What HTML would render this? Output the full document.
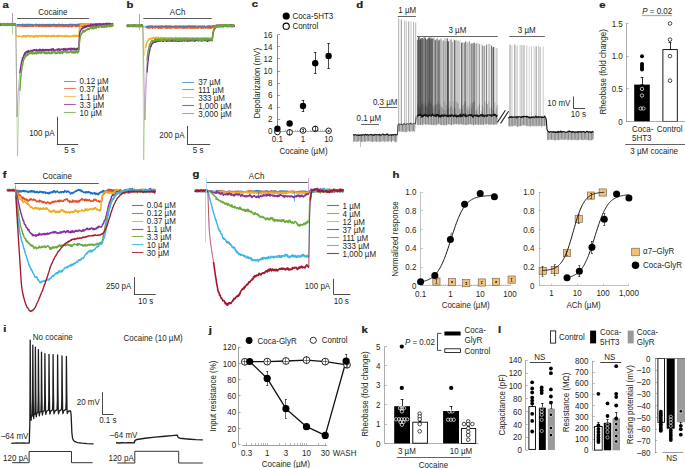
<!DOCTYPE html>
<html><head><meta charset="utf-8"><style>
html,body{margin:0;padding:0;background:#fff;width:685px;height:468px;overflow:hidden}
svg{display:block}
svg{font-family:"Liberation Sans",sans-serif;font-size:8.6px;fill:#231f20}
</style></head><body>
<svg width="685" height="468" viewBox="0 0 685 468">
<rect width="685" height="468" fill="#fff"/>
<text x="2.6" y="7.8" font-weight="bold" font-size="9.4" stroke="#231f20" stroke-width="0.25" transform="matrix(1.2 0 0 1 -0.52 0)">a</text>
<text x="38.2" y="14.55" transform="matrix(0.93 0 0 1 2.67 0)">Cocaine</text>
<line x1="17" y1="18.5" x2="88.9" y2="18.5" stroke="#333" stroke-width="0.8"/>
<line x1="12.5" y1="12.8" x2="12.5" y2="24.4" stroke="#7f2c93" stroke-width="0.5"/>
<line x1="12.5" y1="24.4" x2="12.5" y2="34.6" stroke="#68a83a" stroke-width="0.5"/>
<path d="M15.76,24.4 15.84,24.8 15.92,24.8 16,24.8 16.08,24.8 16.16,24.8 16.24,24.8 16.32,24.8 16.4,24.8 16.48,24.8 16.56,24.8 16.64,24.8" stroke="#2f86cc" stroke-width="0.55" fill="none" stroke-linejoin="round" stroke-opacity="0.75"/>
<path d="M0,24.22 0.3,24.04 0.6,24.56 0.9,23.96 1.2,24.44 1.5,24.26 1.8,23.94 2.1,24.41 2.4,23.92 2.7,24.33 3,23.95 3.3,23.98 3.6,24.32 3.9,24.74 4.2,24.01 4.5,24.11 4.8,24.53 5.1,24.86 5.4,24.48 5.7,24.29 6,24.89 6.3,23.93 6.6,24.77 6.9,24.18 7.2,24.03 7.5,24 7.8,24.2 8.1,24.73 8.4,24.07 8.7,24.48 9,24.54 9.3,24.27 9.6,24.45 9.9,23.95 10.2,23.94 10.5,24.1 10.8,24.59 11.1,24.33 11.4,24.21 11.7,24.49 12,24.35 12.3,24.19 12.6,24.7 12.9,24.61 13.2,24.14 13.5,24.48 13.8,24.43 14.1,24.79 14.4,24.64 14.7,24.18 15,24.9 15.3,24 15.6,24.4 15.68,24.4 15.76,24.4" stroke="#2f86cc" stroke-width="1.45" fill="none" stroke-linejoin="round"/>
<path d="M16.64,24.8 16.72,24.8 16.8,24.8 16.88,24.8 16.96,24.8 17.04,24.8 17.12,24.8 17.2,24.8 17.28,24.8 17.36,24.8 17.44,24.8 17.52,24.8 17.6,24.8 17.68,24.8 17.76,24.8 17.84,24.8 17.92,24.8 18,24.8 18.08,24.8 18.16,24.8 18.24,24.8 18.32,24.8 18.4,24.8 18.48,24.8 18.56,24.8 18.64,24.8 18.72,24.8 18.8,24.8 18.88,24.8 18.96,24.8 19.04,24.8 19.12,24.8 19.2,24.8 19.28,24.8 19.36,24.8 19.44,24.8 19.52,24.8 19.6,24.8 19.68,24.8 19.76,24.8 19.84,24.8 19.92,24.8 20,24.8 20.08,24.8 20.16,24.8 20.24,24.8 20.32,24.8 20.4,24.8 20.48,24.8 20.56,24.8 20.64,24.8 20.72,24.8 20.8,24.8 20.88,24.8 20.96,24.8 21.04,24.8 21.12,24.8 21.2,24.8 21.28,24.8 21.36,24.8 21.44,24.8 21.52,24.8 21.6,24.8 21.68,24.8 21.76,24.8 21.84,24.8 21.92,24.8 22,24.8 22.08,24.66 22.38,24.31 22.68,25.19 22.98,24.92 23.28,24.44 23.58,24.54 23.88,24.64 24.18,24.66 24.48,24.41 24.78,25.16 25.08,25.31 25.38,24.76 25.68,24.78 25.98,24.37 26.28,24.39 26.58,24.64 26.88,24.56 27.18,25.14 27.48,24.45 27.78,24.31 28.08,25.27 28.38,24.83 28.68,24.43 28.98,24.84 29.28,24.31 29.58,24.83 29.88,25.3 30.18,25.18 30.48,25 30.78,24.55 31.08,24.66 31.38,24.46 31.68,25.08 31.98,24.83 32.28,25.09 32.58,24.62 32.88,24.51 33.18,25.12 33.48,25.3 33.78,25.16 34.08,25.12 34.38,25.13 34.68,25.05 34.98,24.52 35.28,24.82 35.58,24.65 35.88,24.31 36.18,24.31 36.48,24.57 36.78,24.55 37.08,25 37.38,25.27 37.68,24.75 37.98,25.25 38.28,25.31 38.58,25.27 38.88,24.66 39.18,24.51 39.48,24.52 39.78,24.49 40.08,24.49 40.38,24.93 40.68,25.21 40.98,25.15 41.28,24.78 41.58,24.96 41.88,25.11 42.18,24.37 42.48,24.97 42.78,25.22 43.08,25.09 43.38,25.06 43.68,24.78 43.98,24.47 44.28,25.1 44.58,24.63 44.88,25.11 45.18,25.29 45.48,24.69 45.78,24.7 46.08,25.26 46.38,25.03 46.68,24.46 46.98,24.41 47.28,24.44 47.58,25.22 47.88,25.12 48.18,24.43 48.48,25.14 48.78,25.3 49.08,24.96 49.38,24.65 49.68,24.85 49.98,24.42 50.28,24.3 50.58,25.29 50.88,24.95 51.18,24.83 51.48,25.25 51.78,24.73 52.08,25.18 52.38,25.14 52.68,24.5 52.98,24.54 53.28,24.59 53.58,24.53 53.88,24.89 54.18,24.55 54.48,24.72 54.78,24.42 55.08,25.22 55.38,24.65 55.68,24.76 55.98,24.89 56.28,25.22 56.58,24.72 56.88,25.23 57.18,24.8 57.48,24.83 57.78,24.82 58.08,24.3 58.38,24.74 58.68,24.47 58.98,24.29 59.28,25.11 59.58,24.46 59.88,24.77 60.18,25.03 60.48,24.86 60.78,24.62 61.08,24.82 61.38,24.86 61.68,25.09 61.98,24.39 62.28,24.86 62.58,24.54 62.88,24.57 63.18,25.08 63.48,24.81 63.78,24.86 64.08,25.07 64.38,25.23 64.68,24.74 64.98,24.92 65.28,24.81 65.58,24.81 65.88,25 66.18,24.75 66.48,24.83 66.78,24.78 67.08,25.26 67.38,25.01 67.68,25.19 67.98,25.26 68.28,24.55 68.58,24.86 68.88,25.26 69.18,25.15 69.48,24.42 69.78,24.41 70.08,24.74 70.38,24.36 70.68,24.53 70.98,24.36 71.28,24.98 71.58,25.09 71.88,25.21 72.18,24.44 72.48,25.02 72.78,24.97 73.08,24.43 73.38,25.2 73.68,25.28 73.98,24.51 74.28,25.27 74.58,24.69 74.88,24.79 75.18,25.31 75.48,25.14 75.78,24.45 76.08,24.73 76.38,24.82 76.68,24.63 76.98,24.49 77.28,24.61 77.58,25.03 77.88,24.3 78.18,24.86 78.48,24.74 78.78,24.3 79.08,24.23 79.38,24.53 79.68,24.41 79.98,23.95 80.28,24.9 80.58,24.7 80.88,24.89 81.18,23.99 81.48,24.16 81.78,23.92 82.08,24.69 82.38,24.16 82.68,24.02 82.98,24.32 83.28,24.83 83.58,24.73 83.88,24.15 84.18,24.04 84.48,24.83 84.78,24.47 85.08,24.61 85.38,23.98 85.68,23.94 85.98,24.59 86.28,24.32 86.58,23.96 86.88,24.85 87.18,24.54 87.48,24.71 87.78,23.97 88.08,24.77 88.38,23.95 88.68,24.78 88.98,24.35 89.28,24.23 89.58,24.45 89.88,24.84 90.18,24.16 90.48,24.02 90.78,24.43 91.08,24.13 91.38,24 91.68,24.05 91.98,23.93 92.28,24.09 92.58,24.21 92.88,24.2 93.18,24.67 93.48,24.18 93.78,24.4 94.08,24.07 94.38,24.24 94.68,23.9 94.98,24.14 95.28,23.9 95.58,24.64 95.88,24.45 96.18,24.08 96.48,24.37 96.78,24.85 97.08,23.99 97.38,24.73 97.68,24.33 97.98,24.39 98.28,24.75 98.58,24.29 98.88,24.41 99.18,24.59 99.48,24.9 99.78,24.24 100.08,24.74 100.38,24.61 100.68,24.54 100.98,24.3 101.28,24.24 101.58,23.94 101.88,24.02 102.18,23.96 102.48,24.65 102.78,24.15 103.08,24.05 103.38,23.97 103.68,24.75 103.98,24.78 104.28,24.58 104.58,24.17 104.88,24.13 105.18,24.19 105.48,24.36 105.78,24.05 106.08,24.34 106.38,24.15 106.68,24.88 106.98,24.89 107.28,24.45 107.58,24.14 107.88,24.88 108.18,24.2 108.48,24.25 108.78,23.88 109.08,24.28 109.38,24.37 109.68,24.4 109.98,24.09 110.28,24.4 110.58,23.89 110.88,24.16 111.18,23.98 111.48,24.3 111.78,23.93 112.08,23.91 112.38,24.2 112.68,24.12 112.98,24.49" stroke="#2f86cc" stroke-width="1.45" fill="none" stroke-linejoin="round"/>
<path d="M15.76,24.4 15.84,25.9 15.92,25.9 16,25.9 16.08,25.9 16.16,25.9 16.24,25.9 16.32,25.9 16.4,25.9 16.48,25.9 16.56,25.9 16.64,25.9" stroke="#e2552c" stroke-width="0.55" fill="none" stroke-linejoin="round" stroke-opacity="0.75"/>
<path d="M0,24.44 0.3,24.72 0.6,24.6 0.9,24.67 1.2,24.88 1.5,24.26 1.8,24.18 2.1,25.01 2.4,23.96 2.7,24.68 3,24.58 3.3,23.82 3.6,24.82 3.9,24.9 4.2,24.56 4.5,24.7 4.8,24.79 5.1,23.94 5.4,24.43 5.7,24.41 6,24.82 6.3,24.79 6.6,24.81 6.9,24.51 7.2,24.9 7.5,24.63 7.8,24.64 8.1,24.06 8.4,23.81 8.7,23.94 9,24.22 9.3,23.9 9.6,24.82 9.9,24.47 10.2,24.56 10.5,24.56 10.8,24.63 11.1,24.39 11.4,23.77 11.7,24.78 12,24.71 12.3,24.4 12.6,24.44 12.9,24.6 13.2,23.85 13.5,24.7 13.8,24.09 14.1,23.86 14.4,24.1 14.7,24.69 15,24.03 15.3,24.7 15.6,24.4 15.68,24.4 15.76,24.4" stroke="#e2552c" stroke-width="1.45" fill="none" stroke-linejoin="round"/>
<path d="M16.64,25.9 16.72,25.9 16.8,25.9 16.88,25.9 16.96,25.9 17.04,25.9 17.12,25.9 17.2,25.9 17.28,25.9 17.36,25.9 17.44,25.9 17.52,25.9 17.6,25.9 17.68,25.9 17.76,25.9 17.84,25.9 17.92,25.9 18,25.9 18.08,25.9 18.16,25.9 18.24,25.9 18.32,25.9 18.4,25.9 18.48,25.9 18.56,25.9 18.64,25.9 18.72,25.9 18.8,25.9 18.88,25.9 18.96,25.9 19.04,25.9 19.12,25.9 19.2,25.9 19.28,25.9 19.36,25.9 19.44,25.9 19.52,25.9 19.6,25.9 19.68,25.9 19.76,25.9 19.84,25.9 19.92,25.9 20,25.9 20.08,25.9 20.16,25.9 20.24,25.9 20.32,25.9 20.4,25.9 20.48,25.9 20.56,25.9 20.64,25.9 20.72,25.9 20.8,25.9 20.88,25.9 20.96,25.9 21.04,25.9 21.12,25.9 21.2,25.9 21.28,25.9 21.36,25.9 21.44,25.9 21.52,25.9 21.6,25.9 21.68,25.9 21.76,25.9 21.84,25.9 21.92,25.9 22,25.9 22.08,25.91 22.38,25.51 22.68,25.74 22.98,26.48 23.28,26.39 23.58,26.29 23.88,26.07 24.18,26.42 24.48,26.46 24.78,25.96 25.08,26.18 25.38,25.33 25.68,26.19 25.98,25.84 26.28,26.22 26.58,26.08 26.88,25.63 27.18,25.33 27.48,26.44 27.78,25.43 28.08,25.86 28.38,25.7 28.68,25.64 28.98,26.2 29.28,26.5 29.58,25.6 29.88,26.1 30.18,25.65 30.48,25.97 30.78,25.77 31.08,25.48 31.38,25.47 31.68,25.53 31.98,26.41 32.28,25.9 32.58,25.55 32.88,26.41 33.18,26.53 33.48,25.84 33.78,25.44 34.08,25.51 34.38,25.38 34.68,25.7 34.98,25.38 35.28,25.57 35.58,25.59 35.88,25.99 36.18,26.39 36.48,26.22 36.78,25.79 37.08,25.79 37.38,25.93 37.68,25.74 37.98,25.7 38.28,25.35 38.58,25.62 38.88,26.49 39.18,25.43 39.48,25.9 39.78,26.06 40.08,26.36 40.38,25.54 40.68,25.61 40.98,25.58 41.28,25.77 41.58,25.83 41.88,26.47 42.18,26.34 42.48,26.37 42.78,25.3 43.08,25.31 43.38,26.17 43.68,26.4 43.98,25.87 44.28,26.01 44.58,25.27 44.88,25.76 45.18,26.44 45.48,26.31 45.78,26.35 46.08,26.5 46.38,25.58 46.68,25.41 46.98,25.46 47.28,25.93 47.58,26.13 47.88,26.46 48.18,26.18 48.48,26.09 48.78,26.23 49.08,25.85 49.38,25.97 49.68,25.32 49.98,26.26 50.28,25.56 50.58,26.43 50.88,26.08 51.18,25.65 51.48,25.43 51.78,25.59 52.08,26.07 52.38,26.15 52.68,25.41 52.98,25.36 53.28,25.93 53.58,26 53.88,25.76 54.18,25.55 54.48,26.03 54.78,25.28 55.08,25.65 55.38,25.85 55.68,26.48 55.98,26.08 56.28,26.39 56.58,25.87 56.88,25.56 57.18,25.58 57.48,26.48 57.78,26.16 58.08,25.66 58.38,25.3 58.68,25.9 58.98,26.12 59.28,25.8 59.58,25.59 59.88,26.11 60.18,26.44 60.48,25.55 60.78,25.31 61.08,25.7 61.38,25.8 61.68,26.13 61.98,25.52 62.28,26.28 62.58,26.2 62.88,25.91 63.18,25.53 63.48,26.49 63.78,25.66 64.08,26.3 64.38,25.56 64.68,25.55 64.98,26.23 65.28,25.64 65.58,26.47 65.88,25.89 66.18,25.5 66.48,25.55 66.78,25.8 67.08,26.11 67.38,26.47 67.68,25.45 67.98,25.77 68.28,25.54 68.58,26.5 68.88,25.45 69.18,25.33 69.48,25.34 69.78,25.77 70.08,26.4 70.38,26.39 70.68,26.19 70.98,26.53 71.28,26.45 71.58,25.68 71.88,25.5 72.18,26.45 72.48,26.21 72.78,25.31 73.08,26.11 73.38,25.75 73.68,25.74 73.98,25.69 74.28,25.48 74.58,25.27 74.88,25.62 75.18,25.71 75.48,26.48 75.78,25.42 76.08,26.49 76.38,25.53 76.68,25.72 76.98,26.31 77.28,26.31 77.58,25.81 77.88,25.33 78.18,25.87 78.48,25.74 78.78,26.43 79.08,25.51 79.38,25.73 79.68,26.4 79.98,25.31 80.28,25.79 80.58,26.29 80.88,26.24 81.18,25.32 81.48,25.31 81.78,25.35 82.08,26.43 82.38,25.59 82.68,26.21 82.98,26.4 83.28,25.7 83.58,25.61 83.88,26.48 84.18,26.05 84.48,25.6 84.78,26.17 85.08,25.67 85.38,25.62 85.68,25.27 85.98,26.22 86.28,26.43 86.58,26.07 86.88,26.46 87.18,25.3 87.48,25.56 87.78,25.87 88.08,26.48 88.38,26.47 88.68,25.76 88.98,25.59 89.28,25.81 89.58,25.89 89.88,26.44 90.18,25.5 90.48,26.28 90.78,26.2 91.08,26.31 91.38,26.25 91.68,26.04 91.98,25.68 92.28,25.67 92.58,25.73 92.88,26.26 93.18,25.37 93.48,25.52 93.78,26.22 94.08,25.58 94.38,25.35 94.68,25.31 94.98,25.97 95.28,25.68 95.58,26.51 95.88,26.39 96.18,26.52 96.48,25.6 96.78,25.37 97.08,25.39 97.38,25.9 97.68,26.17 97.98,25.83 98.28,25.56 98.58,25.79 98.88,26.05 99.18,26.12 99.48,26.21 99.78,26.34 100.08,26.11 100.38,25.42 100.68,26.33 100.98,25.64 101.28,25.98 101.58,25.74 101.88,26.2 102.18,25.52 102.48,25.58 102.78,25.58 103.08,25.46 103.38,26.39 103.68,26 103.98,25.68 104.28,25.77 104.58,26.52 104.88,25.91 105.18,25.56 105.48,26.29 105.78,26.09 106.08,26.52 106.38,25.4 106.68,25.87 106.98,26.3 107.28,26.33 107.58,26.42 107.88,25.32 108.18,25.64 108.48,25.42 108.78,25.51 109.08,26.5 109.38,26.01 109.68,26.44 109.98,25.74 110.28,26.36 110.58,25.84 110.88,25.6 111.18,26.25 111.48,26.46 111.78,25.4 112.08,26.02 112.38,26.05 112.68,25.54 112.98,25.73" stroke="#e2552c" stroke-width="1.45" fill="none" stroke-linejoin="round"/>
<path d="M15.76,24.4 15.84,25.68 15.92,27.85 16,29.58 16.08,30.95 16.16,32.04 16.24,32.91 16.32,33.6 16.4,34.15 16.48,34.59 16.56,34.94 16.64,35.22" stroke="#efb128" stroke-width="0.55" fill="none" stroke-linejoin="round" stroke-opacity="0.75"/>
<path d="M0,23.86 0.3,23.96 0.6,24.03 0.9,24.55 1.2,24.63 1.5,23.96 1.8,23.67 2.1,24.14 2.4,24.67 2.7,23.93 3,24.12 3.3,23.96 3.6,24.84 3.9,24.47 4.2,23.75 4.5,23.8 4.8,24.24 5.1,24.47 5.4,24.61 5.7,23.79 6,23.9 6.3,24.69 6.6,24.27 6.9,24.08 7.2,24.11 7.5,25.08 7.8,24.12 8.1,24.5 8.4,24.19 8.7,24.28 9,24.94 9.3,25.14 9.6,24.2 9.9,23.95 10.2,24.74 10.5,23.96 10.8,23.66 11.1,25 11.4,24.29 11.7,24.88 12,24.26 12.3,24.97 12.6,24.34 12.9,23.9 13.2,23.67 13.5,24.48 13.8,24.61 14.1,25.01 14.4,23.79 14.7,24.58 15,24.21 15.3,24.41 15.6,24.4 15.68,24.4 15.76,24.4" stroke="#efb128" stroke-width="1.45" fill="none" stroke-linejoin="round"/>
<path d="M16.64,35.22 16.72,35.44 16.8,35.61 16.88,35.75 16.96,35.86 17.04,35.95 17.12,36.02 17.2,36.08 17.28,36.12 17.36,36.15 17.44,36.18 17.52,36.2 17.6,36.22 17.68,36.24 17.76,36.25 17.84,36.26 17.92,36.26 18,36.27 18.08,36.27 18.16,36.27 18.24,36.28 18.32,36.28 18.4,36.28 18.48,36.28 18.56,36.28 18.64,36.28 18.72,36.28 18.8,36.28 18.88,36.28 18.96,36.28 19.04,36.28 19.12,36.28 19.2,36.28 19.28,36.28 19.36,36.28 19.44,36.28 19.52,36.28 19.6,36.28 19.68,36.28 19.76,36.28 19.84,36.28 19.92,36.28 20,36.28 20.08,36.28 20.16,36.28 20.24,36.28 20.32,36.28 20.4,36.28 20.48,36.28 20.56,36.28 20.64,36.28 20.72,36.28 20.8,36.28 20.88,36.28 20.96,36.28 21.04,36.28 21.12,36.27 21.2,36.27 21.28,36.27 21.36,36.27 21.44,36.27 21.52,36.27 21.6,36.27 21.68,36.27 21.76,36.27 21.84,36.27 21.92,36.27 22,36.27 22.08,36.99 22.38,36.26 22.68,36.95 22.98,36.89 23.28,35.76 23.58,36.69 23.88,36.91 24.18,35.61 24.48,36.04 24.78,36.64 25.08,35.75 25.38,36.85 25.68,35.92 25.98,36.72 26.28,35.72 26.58,36.25 26.88,36.88 27.18,35.81 27.48,35.89 27.78,36.25 28.08,35.97 28.38,35.55 28.68,35.76 28.98,35.73 29.28,36.89 29.58,36.5 29.88,36.82 30.18,35.74 30.48,36.66 30.78,35.65 31.08,36.27 31.38,36.43 31.68,36.01 31.98,36.78 32.28,36.3 32.58,36.34 32.88,36.79 33.18,35.63 33.48,36.95 33.78,36.41 34.08,36.05 34.38,36.66 34.68,35.86 34.98,36.94 35.28,36.32 35.58,36 35.88,36.6 36.18,36.12 36.48,35.72 36.78,36.56 37.08,35.52 37.38,36.68 37.68,35.83 37.98,36.4 38.28,36.92 38.58,36.32 38.88,36.43 39.18,35.91 39.48,35.44 39.78,35.49 40.08,35.66 40.38,36.36 40.68,36.08 40.98,36.2 41.28,36.77 41.58,35.63 41.88,35.77 42.18,36.4 42.48,35.46 42.78,35.43 43.08,35.95 43.38,35.58 43.68,35.95 43.98,35.75 44.28,36.29 44.58,36.3 44.88,35.72 45.18,36.35 45.48,36.12 45.78,35.61 46.08,36.81 46.38,35.77 46.68,35.63 46.98,35.55 47.28,36.36 47.58,36.7 47.88,36.57 48.18,36 48.48,35.79 48.78,35.41 49.08,36.36 49.38,36.23 49.68,35.91 49.98,36.35 50.28,36.05 50.58,36.79 50.88,36.48 51.18,35.76 51.48,36.73 51.78,35.45 52.08,36.17 52.38,35.99 52.68,35.73 52.98,35.46 53.28,36.54 53.58,35.39 53.88,36.19 54.18,36.78 54.48,35.58 54.78,35.67 55.08,36.27 55.38,36.12 55.68,36.32 55.98,36.58 56.28,35.62 56.58,35.82 56.88,35.81 57.18,35.43 57.48,36.68 57.78,36.52 58.08,36.42 58.38,35.36 58.68,36.61 58.98,36.46 59.28,36.04 59.58,36.45 59.88,36.02 60.18,35.68 60.48,35.5 60.78,35.69 61.08,35.39 61.38,35.84 61.68,36.45 61.98,36.37 62.28,36.59 62.58,36.39 62.88,35.73 63.18,36.15 63.48,35.98 63.78,36.5 64.08,36.1 64.38,35.72 64.68,36.28 64.98,36.76 65.28,35.64 65.58,36.63 65.88,35.34 66.18,35.7 66.48,35.66 66.78,36.42 67.08,36.72 67.38,36.42 67.68,35.79 67.98,36.62 68.28,35.79 68.58,35.66 68.88,36.66 69.18,36.24 69.48,36.33 69.78,36.29 70.08,36.76 70.38,35.99 70.68,36.55 70.98,36.33 71.28,36.57 71.58,35.94 71.88,36.37 72.18,36.14 72.48,35.74 72.78,35.6 73.08,36.21 73.38,35.39 73.68,36.64 73.98,35.49 74.28,35.31 74.58,35.43 74.88,36.66 75.18,35.79 75.48,35.48 75.78,35.31 76.08,35.33 76.38,36.3 76.68,36.21 76.98,36.3 77.28,36.36 77.58,35.36 77.88,36.14 78.18,35.8 78.48,36.48 78.78,36.48 79.08,32.83 79.38,28.93 79.68,28.39 79.98,27.33 80.28,26.64 80.58,24.91 80.88,24.74 81.18,24.4 81.48,24.15 81.78,25.28 82.08,25.17 82.38,24.87 82.68,25.13 82.98,24.83 83.28,24.3 83.58,24.01 83.88,24.01 84.18,24.99 84.48,24.16 84.78,24.33 85.08,24.49 85.38,23.88 85.68,24.24 85.98,24.28 86.28,24.92 86.58,24.4 86.88,24.33 87.18,25.29 87.48,24.61 87.78,25.13 88.08,24.78 88.38,23.9 88.68,24.47 88.98,24.5 89.28,25.01 89.58,24.37 89.88,24.91 90.18,24.66 90.48,24.18 90.78,25.14 91.08,23.99 91.38,25.08 91.68,24.11 91.98,23.85 92.28,24.15 92.58,24.99 92.88,25.31 93.18,23.86 93.48,24.59 93.78,24.59 94.08,25.04 94.38,24.13 94.68,24.59 94.98,24.37 95.28,25.1 95.58,24.24 95.88,25.26 96.18,24.28 96.48,24.17 96.78,24.9 97.08,24.6 97.38,24.02 97.68,24.8 97.98,23.97 98.28,25.03 98.58,24.89 98.88,25.03 99.18,24.79 99.48,24.38 99.78,24.45 100.08,24.44 100.38,25.18 100.68,23.98 100.98,25.18 101.28,23.89 101.58,24.16 101.88,24.25 102.18,25.2 102.48,24.6 102.78,24.42 103.08,25.17 103.38,24.2 103.68,24.54 103.98,24.65 104.28,24.98 104.58,24.98 104.88,24.82 105.18,24.37 105.48,24.34 105.78,24.08 106.08,25.11 106.38,24.84 106.68,24.96 106.98,24.11 107.28,24.51 107.58,25.01 107.88,24.72 108.18,24.04 108.48,24.54 108.78,25.18 109.08,24.21 109.38,24.14 109.68,24.3 109.98,24.9 110.28,25.11 110.58,24.08 110.88,24.09 111.18,24.22 111.48,24.34 111.78,24.63 112.08,24.09 112.38,24.34 112.68,24.14 112.98,25.31" stroke="#efb128" stroke-width="1.45" fill="none" stroke-linejoin="round"/>
<path d="M15.76,24.4 15.84,27.52 15.92,33.76 16,40 16.08,46.24 16.16,52.48 16.24,58.72 16.32,64.96 16.4,71.2 16.48,77.44 16.56,83.68 16.64,89.92 16.72,96.16 16.8,102.4 16.88,108.64 16.96,114.88 17.04,116.97 17.12,114.97 17.2,113.02 17.28,111.13 17.36,109.3 17.44,107.53 17.52,105.8 17.6,104.13 17.68,102.52 17.76,100.95 17.84,99.42 17.92,97.95 18,96.51 18.08,95.13 18.16,93.78 18.24,92.47 18.32,91.21 18.4,89.98 18.48,88.79 18.56,87.63 18.64,86.52 18.72,85.43 18.8,84.38 18.88,83.35 18.96,82.36 19.04,81.4 19.12,80.47 19.2,79.57 19.28,78.69 19.36,77.84 19.44,77.02 19.52,76.22 19.6,75.45 19.68,74.69 19.76,73.97 19.84,73.26" stroke="#7f2c93" stroke-width="0.55" fill="none" stroke-linejoin="round" stroke-opacity="0.75"/>
<path d="M0,24.82 0.3,23.67 0.6,25.25 0.9,23.67 1.2,24.19 1.5,25.29 1.8,24.94 2.1,24.83 2.4,24.28 2.7,23.84 3,24.65 3.3,23.68 3.6,23.86 3.9,24.19 4.2,23.54 4.5,24.21 4.8,24.94 5.1,24.76 5.4,24.4 5.7,24.64 6,24.33 6.3,23.74 6.6,24.59 6.9,24.22 7.2,24.84 7.5,25.15 7.8,24.27 8.1,24.54 8.4,24.86 8.7,24.25 9,23.9 9.3,24.81 9.6,25.1 9.9,24.9 10.2,24.77 10.5,25.05 10.8,24.73 11.1,24.66 11.4,24.32 11.7,24.06 12,24.64 12.3,23.66 12.6,24.25 12.9,24.92 13.2,24.79 13.5,24.64 13.8,23.94 14.1,24.26 14.4,24.32 14.7,24.62 15,24.23 15.3,24.72 15.6,24.4 15.68,24.4 15.76,24.4" stroke="#7f2c93" stroke-width="1.45" fill="none" stroke-linejoin="round"/>
<path d="M19.84,73.26 19.92,72.57 20,71.91 20.08,71.26 20.16,70.64 20.24,70.03 20.32,69.45 20.4,68.88 20.48,68.32 20.56,67.79 20.64,67.27 20.72,66.76 20.8,66.27 20.88,65.8 20.96,65.34 21.04,64.89 21.12,64.46 21.2,64.04 21.28,63.63 21.36,63.24 21.44,62.85 21.52,62.48 21.6,62.12 21.68,61.77 21.76,61.43 21.84,61.1 21.92,60.79 22,60.48 22.08,60.97 22.38,59.78 22.68,57.38 22.98,57.97 23.28,57.37 23.58,56.48 23.88,54.7 24.18,55.45 24.48,54.61 24.78,53.05 25.08,52.67 25.38,54.06 25.68,53.22 25.98,52.2 26.28,51.69 26.58,51.55 26.88,51.53 27.18,52.35 27.48,51.41 27.78,50.91 28.08,52.17 28.38,51.85 28.68,50.6 28.98,51.84 29.28,51.24 29.58,51.48 29.88,51.21 30.18,51.56 30.48,51.32 30.78,51.36 31.08,50.13 31.38,51 31.68,50.67 31.98,51.02 32.28,50.43 32.58,51.22 32.88,50.59 33.18,50.03 33.48,49.95 33.78,49.76 34.08,50.39 34.38,49.57 34.68,50.3 34.98,49.69 35.28,50.31 35.58,50.31 35.88,50.37 36.18,50.95 36.48,49.36 36.78,50.89 37.08,50.19 37.38,50.35 37.68,50.53 37.98,50.84 38.28,49.97 38.58,50.04 38.88,51.03 39.18,49.39 39.48,50.41 39.78,50.4 40.08,49.27 40.38,50.33 40.68,50.46 40.98,50.9 41.28,49.79 41.58,50.98 41.88,50.1 42.18,50.04 42.48,50.8 42.78,49.2 43.08,50.45 43.38,50.27 43.68,49.73 43.98,50.68 44.28,49.76 44.58,49.95 44.88,50.04 45.18,50.48 45.48,49.44 45.78,49.85 46.08,49.81 46.38,50.05 46.68,50.54 46.98,49.55 47.28,50.52 47.58,49.74 47.88,49.91 48.18,49.48 48.48,49.9 48.78,50.75 49.08,50.15 49.38,50.4 49.68,49.54 49.98,49.51 50.28,49.46 50.58,49.98 50.88,50.06 51.18,50.33 51.48,48.95 51.78,50.2 52.08,50.49 52.38,49.86 52.68,48.94 52.98,49.39 53.28,48.84 53.58,49.17 53.88,50.5 54.18,49.92 54.48,50 54.78,50.24 55.08,50.45 55.38,49.89 55.68,49.89 55.98,49.9 56.28,50.02 56.58,49.83 56.88,49.98 57.18,49.1 57.48,49.93 57.78,49.54 58.08,50.09 58.38,48.87 58.68,49 58.98,48.73 59.28,50.08 59.58,50.33 59.88,49.84 60.18,49.31 60.48,50.13 60.78,50.06 61.08,49.63 61.38,49.07 61.68,49.14 61.98,49.35 62.28,49.15 62.58,49.35 62.88,49.73 63.18,50.26 63.48,48.63 63.78,49.57 64.08,48.59 64.38,48.72 64.68,49.99 64.98,49.55 65.28,50.17 65.58,49.29 65.88,48.49 66.18,49.16 66.48,49.53 66.78,50.16 67.08,50.23 67.38,49.29 67.68,49.17 67.98,48.59 68.28,49.58 68.58,48.77 68.88,48.65 69.18,48.39 69.48,48.37 69.78,49.61 70.08,48.56 70.38,50.11 70.68,48.48 70.98,49.91 71.28,48.54 71.58,48.33 71.88,49.61 72.18,48.72 72.48,49.62 72.78,48.61 73.08,48.34 73.38,49.67 73.68,49.55 73.98,49.8 74.28,49.56 74.58,48.36 74.88,49.36 75.18,49.5 75.48,49.03 75.78,49.89 76.08,48.63 76.38,49.93 76.68,49.47 76.98,48.16 77.28,48.16 77.58,49.32 77.88,49.62 78.18,48.25 78.48,48.67 78.78,49.43 79.08,41.17 79.38,37.84 79.68,34.37 79.98,31.84 80.28,31.24 80.58,30.8 80.88,29.94 81.18,29.89 81.48,28.51 81.78,29.37 82.08,28.27 82.38,28.53 82.68,28.26 82.98,27.65 83.28,27.39 83.58,27.94 83.88,28.07 84.18,27.61 84.48,27.07 84.78,26.42 85.08,25.87 85.38,27.43 85.68,26.82 85.98,26.94 86.28,25.93 86.58,26.34 86.88,26.94 87.18,26.58 87.48,26.08 87.78,25.46 88.08,25.61 88.38,26.39 88.68,25.38 88.98,25.88 89.28,25.67 89.58,26.15 89.88,25.94 90.18,24.92 90.48,24.35 90.78,24.78 91.08,25.03 91.38,25.29 91.68,25.67 91.98,25.76 92.28,24.16 92.58,25.58 92.88,25.5 93.18,25.57 93.48,24.99 93.78,24.41 94.08,25.44 94.38,25.33 94.68,25.08 94.98,25.47 95.28,24.4 95.58,23.9 95.88,24.73 96.18,25.16 96.48,24.04 96.78,25.03 97.08,25.34 97.38,24.03 97.68,24.7 97.98,24.81 98.28,24.4 98.58,23.91 98.88,23.98 99.18,24.88 99.48,24.94 99.78,24.31 100.08,23.61 100.38,24.92 100.68,24.85 100.98,23.84 101.28,24.47 101.58,25.04 101.88,25 102.18,24.33 102.48,24.23 102.78,24.43 103.08,23.68 103.38,23.68 103.68,23.65 103.98,24.6 104.28,23.97 104.58,24.33 104.88,24.02 105.18,24.23 105.48,23.54 105.78,23.34 106.08,25.09 106.38,23.94 106.68,23.44 106.98,24.4 107.28,24.68 107.58,23.51 107.88,24.32 108.18,23.85 108.48,24.16 108.78,23.24 109.08,23.26 109.38,25.02 109.68,24.78 109.98,24.08 110.28,24.23 110.58,23.66 110.88,24.61 111.18,23.96 111.48,24.91 111.78,24.58 112.08,24.67 112.38,24.93 112.68,23.62 112.98,23.22" stroke="#7f2c93" stroke-width="1.45" fill="none" stroke-linejoin="round"/>
<path d="M15.76,24.4 15.84,27.52 15.92,33.76 16,40 16.08,46.24 16.16,52.48 16.24,58.72 16.32,64.96 16.4,71.2 16.48,77.44 16.56,83.68 16.64,89.92 16.72,96.16 16.8,102.4 16.88,108.64 16.96,114.88 17.04,121.12 17.12,127.36 17.2,133.6 17.28,139.84 17.36,146.08 17.44,152.32 17.52,156.1 17.6,152.58 17.68,149.18 17.76,145.9 17.84,142.73 17.92,139.67 18,136.71 18.08,133.85 18.16,131.09 18.24,128.43 18.32,125.86 18.4,123.37 18.48,120.97 18.56,118.65 18.64,116.41 18.72,114.25 18.8,112.16 18.88,110.14 18.96,108.19 19.04,106.31 19.12,104.49 19.2,102.73 19.28,101.04 19.36,99.4 19.44,97.82 19.52,96.29 19.6,94.81 19.68,93.39 19.76,92.01 19.84,90.68" stroke="#68a83a" stroke-width="0.55" fill="none" stroke-linejoin="round" stroke-opacity="0.75"/>
<path d="M0,23.71 0.3,23.67 0.6,23.44 0.9,23.37 1.2,24.53 1.5,25.25 1.8,24.3 2.1,25.43 2.4,25.34 2.7,23.4 3,24.63 3.3,24.16 3.6,23.53 3.9,25.46 4.2,23.84 4.5,24.55 4.8,24.72 5.1,25.45 5.4,24.79 5.7,24.15 6,24.28 6.3,23.62 6.6,25.47 6.9,25.53 7.2,23.76 7.5,23.34 7.8,23.84 8.1,24.06 8.4,25.33 8.7,25.33 9,25.18 9.3,23.36 9.6,25.06 9.9,24.88 10.2,24.74 10.5,25.52 10.8,23.38 11.1,23.58 11.4,24.99 11.7,25.41 12,24.81 12.3,23.94 12.6,24.61 12.9,24.99 13.2,23.49 13.5,24 13.8,23.84 14.1,23.54 14.4,24.36 14.7,23.64 15,23.8 15.3,23.58 15.6,24.4 15.68,24.4 15.76,24.4" stroke="#68a83a" stroke-width="1.45" fill="none" stroke-linejoin="round"/>
<path d="M19.84,90.68 19.92,89.4 20,88.16 20.08,86.96 20.16,85.8 20.24,84.68 20.32,83.6 20.4,82.56 20.48,81.55 20.56,80.58 20.64,79.64 20.72,78.73 20.8,77.86 20.88,77.01 20.96,76.19 21.04,75.4 21.12,74.64 21.2,73.9 21.28,73.19 21.36,72.5 21.44,71.84 21.52,71.2 21.6,70.58 21.68,69.98 21.76,69.4 21.84,68.84 21.92,68.3 22,67.78 22.08,66.6 22.38,65.8 22.68,64.49 22.98,63.39 23.28,61.69 23.58,59.78 23.88,58.55 24.18,59.29 24.48,57.84 24.78,57.95 25.08,55.87 25.38,57.13 25.68,55.62 25.98,56.42 26.28,56.15 26.58,55.01 26.88,53.66 27.18,55.5 27.48,54.3 27.78,55.04 28.08,53.5 28.38,53.18 28.68,54.55 28.98,53.37 29.28,52.81 29.58,53.21 29.88,53.65 30.18,52.23 30.48,53.36 30.78,53.14 31.08,53.25 31.38,52.3 31.68,53.63 31.98,53.83 32.28,53.92 32.58,52.64 32.88,53.51 33.18,52.73 33.48,53.56 33.78,51.96 34.08,53.81 34.38,53.98 34.68,52.91 34.98,52.94 35.28,52.97 35.58,52.97 35.88,51.77 36.18,53.94 36.48,52.22 36.78,52.11 37.08,51.92 37.38,52.25 37.68,53.55 37.98,51.73 38.28,51.88 38.58,53.25 38.88,52.09 39.18,51.67 39.48,53 39.78,52.94 40.08,52.81 40.38,53.22 40.68,51.83 40.98,53.59 41.28,53.23 41.58,51.68 41.88,51.86 42.18,52.7 42.48,52.71 42.78,52.2 43.08,51.83 43.38,52.48 43.68,51.85 43.98,52.89 44.28,53.5 44.58,51.86 44.88,52.83 45.18,53.22 45.48,51.88 45.78,53.39 46.08,53.64 46.38,52.38 46.68,52.44 46.98,53.4 47.28,52.67 47.58,52.37 47.88,53.62 48.18,53.23 48.48,52.22 48.78,51.99 49.08,52.2 49.38,52.42 49.68,53.67 49.98,53.26 50.28,53.5 50.58,53.27 50.88,53.34 51.18,51.51 51.48,52.57 51.78,53.58 52.08,53.52 52.38,51.94 52.68,52.33 52.98,52.81 53.28,52.18 53.58,52.56 53.88,51.49 54.18,52.32 54.48,52.48 54.78,51.36 55.08,51.63 55.38,53.54 55.68,53.09 55.98,53.45 56.28,52.74 56.58,53.14 56.88,53.31 57.18,53.3 57.48,51.34 57.78,52.73 58.08,51.86 58.38,52.81 58.68,51.87 58.98,52.48 59.28,53.35 59.58,52.65 59.88,51.79 60.18,52.41 60.48,52.2 60.78,53.39 61.08,51.85 61.38,51.89 61.68,52.67 61.98,51.45 62.28,52.54 62.58,53.36 62.88,52.34 63.18,51.77 63.48,52.22 63.78,52.37 64.08,51.48 64.38,51.41 64.68,51.42 64.98,51.79 65.28,52.05 65.58,51.77 65.88,51.66 66.18,51.29 66.48,52.34 66.78,53.01 67.08,52.48 67.38,52.38 67.68,52.56 67.98,51.52 68.28,52.68 68.58,52.11 68.88,52.3 69.18,52.44 69.48,52.11 69.78,51.74 70.08,51.57 70.38,51.52 70.68,52.18 70.98,51.88 71.28,52.34 71.58,51.01 71.88,51.79 72.18,52.96 72.48,51.52 72.78,52.24 73.08,52.09 73.38,51.61 73.68,53.22 73.98,51.62 74.28,52.71 74.58,51.29 74.88,51.07 75.18,52.92 75.48,51.92 75.78,51.05 76.08,51.79 76.38,51.9 76.68,52.58 76.98,51.13 77.28,51.39 77.58,53.07 77.88,52.56 78.18,51.21 78.48,51.63 78.78,51.66 79.08,47.45 79.38,43.4 79.68,41.07 79.98,38.89 80.28,36.62 80.58,35.95 80.88,35.06 81.18,34.39 81.48,33.19 81.78,33.45 82.08,32.9 82.38,33.07 82.68,30.98 82.98,32.45 83.28,30.25 83.58,31.8 83.88,31.2 84.18,30.83 84.48,31.73 84.78,30.68 85.08,30.18 85.38,30.87 85.68,30.94 85.98,30.2 86.28,29.54 86.58,29.59 86.88,29.48 87.18,29.97 87.48,28.86 87.78,28.98 88.08,29.25 88.38,28.75 88.68,28.5 88.98,29.47 89.28,29.52 89.58,28.62 89.88,28.4 90.18,27.71 90.48,27.9 90.78,27.45 91.08,28.36 91.38,28.29 91.68,27.08 91.98,28.92 92.28,27.47 92.58,28.59 92.88,28.51 93.18,28.72 93.48,26.92 93.78,27.37 94.08,28.42 94.38,26.29 94.68,26.31 94.98,27.44 95.28,27.23 95.58,28.15 95.88,27.76 96.18,27.17 96.48,28.17 96.78,27.02 97.08,26.97 97.38,27.31 97.68,26.58 97.98,26.47 98.28,26.97 98.58,26.37 98.88,27.7 99.18,27.03 99.48,26.65 99.78,25.63 100.08,26.23 100.38,26.25 100.68,26.59 100.98,26.58 101.28,27.25 101.58,27.42 101.88,26.29 102.18,26.15 102.48,26.55 102.78,27.37 103.08,25.84 103.38,26.24 103.68,26.88 103.98,25.37 104.28,25.68 104.58,27.17 104.88,26.8 105.18,26.06 105.48,25.11 105.78,26.89 106.08,26.4 106.38,26.68 106.68,27.05 106.98,26.8 107.28,25.7 107.58,25.08 107.88,25.36 108.18,25.86 108.48,25.82 108.78,25.08 109.08,25.05 109.38,26.06 109.68,25.99 109.98,25.4 110.28,26.86 110.58,26.02 110.88,24.64 111.18,25.48 111.48,26.33 111.78,25.21 112.08,26.08 112.38,24.49 112.68,25.17 112.98,26.39" stroke="#68a83a" stroke-width="1.45" fill="none" stroke-linejoin="round"/>
<line x1="63.9" y1="81.5" x2="75.8" y2="81.5" stroke="#2f86cc" stroke-width="1.1" stroke-opacity="0.75"/>
<text x="79.6" y="84.15" transform="matrix(0.93 0 0 1 5.57 0)">0.12 µM</text>
<line x1="63.9" y1="88.5" x2="75.8" y2="88.5" stroke="#e2552c" stroke-width="1.1" stroke-opacity="0.75"/>
<text x="79.6" y="92.02" transform="matrix(0.93 0 0 1 5.57 0)">0.37 µM</text>
<line x1="63.9" y1="96.5" x2="75.8" y2="96.5" stroke="#efb128" stroke-width="1.1" stroke-opacity="0.75"/>
<text x="79.6" y="99.89" transform="matrix(0.93 0 0 1 5.57 0)">1.1 µM</text>
<line x1="63.9" y1="104.5" x2="75.8" y2="104.5" stroke="#7f2c93" stroke-width="1.1" stroke-opacity="0.75"/>
<text x="79.6" y="107.76" transform="matrix(0.93 0 0 1 5.57 0)">3.3 µM</text>
<line x1="63.9" y1="112.5" x2="75.8" y2="112.5" stroke="#68a83a" stroke-width="1.1" stroke-opacity="0.75"/>
<text x="79.6" y="115.63" transform="matrix(0.93 0 0 1 5.57 0)">10 µM</text>
<line x1="57.5" y1="116.8" x2="57.5" y2="144.3" stroke="#231f20" stroke-width="0.8"/>
<line x1="56.9" y1="144.5" x2="78.3" y2="144.5" stroke="#231f20" stroke-width="0.8"/>
<text x="54.5" y="135.75" text-anchor="end" transform="matrix(0.93 0 0 1 3.81 0)">100 pA</text>
<text x="69.6" y="153.35" text-anchor="middle" transform="matrix(0.93 0 0 1 4.87 0)">5 s</text>
<text x="126.6" y="7.9" font-weight="bold" font-size="9.4" stroke="#231f20" stroke-width="0.25" transform="matrix(1.2 0 0 1 -25.32 0)">b</text>
<text x="177.6" y="14.55" text-anchor="middle" transform="matrix(0.93 0 0 1 12.43 0)">ACh</text>
<line x1="143.3" y1="18.5" x2="211.6" y2="18.5" stroke="#333" stroke-width="0.8"/>
<line x1="139.5" y1="14" x2="139.5" y2="25.75" stroke="#7f2c93" stroke-width="0.5"/>
<line x1="139.5" y1="25.75" x2="139.5" y2="30" stroke="#68a83a" stroke-width="0.5"/>
<path d="M142.76,25.75 142.84,26.4 142.92,26.4 143,26.4 143.08,26.4 143.16,26.4 143.24,26.4 143.32,26.4 143.4,26.4 143.48,26.4 143.56,26.4 143.64,26.4 143.72,26.4 143.8,26.4 143.88,26.4 143.96,26.4 144.04,26.4 144.12,26.4 144.2,26.4 144.28,26.4 144.36,26.4 144.44,26.4 144.52,26.4 144.6,26.4 144.68,26.4 144.76,26.4 144.84,26.4 144.92,26.4 145,26.4 145.08,26.4 145.16,26.4 145.24,26.4 145.32,26.4 145.4,26.4 145.48,26.4 145.56,26.4" stroke="#2f86cc" stroke-width="0.55" fill="none" stroke-linejoin="round" stroke-opacity="0.75"/>
<path d="M127,25.84 127.3,25.92 127.6,25.44 127.9,25.75 128.2,25.81 128.5,25.51 128.8,25.9 129.1,25.78 129.4,26.26 129.7,25.83 130,25.66 130.3,25.36 130.6,25.39 130.9,26.02 131.2,25.34 131.5,25.34 131.8,25.41 132.1,25.77 132.4,26.08 132.7,25.87 133,26.07 133.3,25.3 133.6,25.25 133.9,26.03 134.2,25.57 134.5,25.97 134.8,25.6 135.1,25.41 135.4,25.51 135.7,25.34 136,26.17 136.3,25.84 136.6,25.59 136.9,25.7 137.2,25.63 137.5,25.29 137.8,26.15 138.1,25.84 138.4,26.23 138.7,25.69 139,25.87 139.3,25.49 139.6,25.28 139.9,26.2 140.2,26.12 140.5,25.56 140.8,26.16 141.1,26.08 141.4,25.55 141.7,25.86 142,26.23 142.3,25.75 142.6,25.75 142.68,25.75 142.76,25.75" stroke="#2f86cc" stroke-width="1.45" fill="none" stroke-linejoin="round"/>
<path d="M145.56,26.4 145.64,26.4 145.72,26.4 145.8,26.4 145.88,26.4 145.96,26.4 146.04,26.4 146.12,26.4 146.2,26.4 146.28,26.4 146.36,26.4 146.44,26.4 146.52,26.4 146.6,26.4 146.68,26.4 146.76,26.4 146.84,26.4 146.92,26.4 147,26.4 147.08,26.4 147.16,26.4 147.24,26.4 147.32,26.4 147.4,26.4 147.48,26.4 147.56,26.4 147.64,26.4 147.72,26.4 147.8,26.4 147.88,26.4 147.96,26.4 148.04,26.2 148.34,26.29 148.64,25.97 148.94,26.07 149.24,26.76 149.54,26.21 149.84,26.57 150.14,26 150.44,26.46 150.74,26.26 151.04,26.4 151.34,26.19 151.64,25.95 151.94,26.2 152.24,26.12 152.54,26.01 152.84,26.62 153.14,26.17 153.44,26.3 153.74,26.82 154.04,26.68 154.34,26.8 154.64,26.77 154.94,26.02 155.24,26.17 155.54,25.91 155.84,26.59 156.14,26.57 156.44,26.25 156.74,26.31 157.04,26.56 157.34,26.61 157.64,26.14 157.94,26.76 158.24,26.25 158.54,26.53 158.84,26.07 159.14,26 159.44,26.83 159.74,26.64 160.04,26.62 160.34,25.92 160.64,25.92 160.94,26.05 161.24,26.09 161.54,26.2 161.84,26.28 162.14,25.92 162.44,26.2 162.74,26.54 163.04,26.07 163.34,26.75 163.64,26.47 163.94,26.62 164.24,26.15 164.54,26.33 164.84,26.59 165.14,26.24 165.44,25.88 165.74,26.75 166.04,26.69 166.34,26.18 166.64,25.93 166.94,26.77 167.24,26.51 167.54,25.93 167.84,26.14 168.14,26 168.44,26.7 168.74,26.1 169.04,26.83 169.34,26.66 169.64,25.97 169.94,26.6 170.24,26.29 170.54,26.66 170.84,26.74 171.14,26.17 171.44,25.98 171.74,26.86 172.04,26.32 172.34,26.85 172.64,26.6 172.94,26.65 173.24,26.74 173.54,26.53 173.84,26.35 174.14,25.94 174.44,26.61 174.74,26.33 175.04,26.41 175.34,26.84 175.64,26.01 175.94,26.67 176.24,25.93 176.54,26.61 176.84,26.72 177.14,26.15 177.44,26.45 177.74,26.89 178.04,26.54 178.34,26.45 178.64,26.14 178.94,25.94 179.24,26.25 179.54,26.31 179.84,26.09 180.14,26.2 180.44,26.02 180.74,26.61 181.04,26.58 181.34,26.13 181.64,26.13 181.94,26.42 182.24,26.34 182.54,26.85 182.84,26.25 183.14,26.19 183.44,26.8 183.74,26.03 184.04,26.47 184.34,26.23 184.64,26.73 184.94,26.45 185.24,26.67 185.54,26.06 185.84,26.57 186.14,26.5 186.44,26.36 186.74,26.68 187.04,26.74 187.34,26 187.64,26.18 187.94,26.26 188.24,26.1 188.54,25.94 188.84,26.17 189.14,26.09 189.44,26.61 189.74,26.35 190.04,26 190.34,26.22 190.64,26.37 190.94,26.26 191.24,26.06 191.54,25.96 191.84,25.89 192.14,26.91 192.44,26.66 192.74,25.97 193.04,26.62 193.34,26.9 193.64,26.47 193.94,26 194.24,26.39 194.54,26.33 194.84,26.08 195.14,26.44 195.44,25.89 195.74,26.83 196.04,26.55 196.34,26.53 196.64,26.85 196.94,26.56 197.24,26.14 197.54,26.14 197.84,26.03 198.14,25.91 198.44,26.68 198.74,26.75 199.04,26.19 199.34,26.07 199.64,26.54 199.94,26.76 200.24,26.84 200.54,26.06 200.84,26.69 201.14,26.74 201.44,26.65 201.74,26.22 202.04,26.07 202.34,26.74 202.64,26.21 202.94,26.26 203.24,26.45 203.54,26.26 203.84,26.74 204.14,26.13 204.44,25.93 204.74,26.47 205.04,26.53 205.34,26.73 205.64,26.61 205.94,26.82 206.24,26.86 206.54,26.39 206.84,26.4 207.14,26.05 207.44,26.19 207.74,26.48 208.04,25.97 208.34,26.59 208.64,26.05 208.94,26.34 209.24,26.89 209.54,25.98 209.84,25.92 210.14,26.34 210.44,26.08 210.74,26.63 211.04,25.89 211.34,26.75 211.64,26.77 211.94,26.7 212.24,26.32 212.54,26.07 212.84,26.35 213.14,26.11 213.44,25.94 213.74,25.8 214.04,25.86 214.34,26.06 214.64,26.19 214.94,26.25 215.24,25.47 215.54,25.59 215.84,25.73 216.14,25.85 216.44,25.62 216.74,25.46 217.04,25.34 217.34,25.58 217.64,25.72 217.94,26.25 218.24,26.18 218.54,26.13 218.84,26.25 219.14,26.23 219.44,25.88 219.74,26.07 220.04,25.3 220.34,25.93 220.64,25.86 220.94,25.54 221.24,25.82 221.54,26.22 221.84,25.73 222.14,25.9 222.44,25.54 222.74,25.59 223.04,26.15 223.34,25.26 223.64,25.43 223.94,25.94 224.24,25.7 224.54,25.32 224.84,25.92 225.14,25.62 225.44,25.83 225.74,25.66 226.04,25.78 226.34,25.82 226.64,25.64 226.94,25.35 227.24,25.42 227.54,26.15 227.84,25.8 228.14,25.35 228.44,26.12 228.74,25.49 229.04,25.33 229.34,25.78 229.64,25.49 229.94,25.74 230.24,25.81 230.54,25.47 230.84,25.83 231.14,25.35 231.44,25.76 231.74,25.84 232.04,25.32 232.34,25.65 232.64,25.31 232.94,25.69 233.24,26.13 233.54,25.8 233.84,25.97 234.14,26.02 234.44,25.35" stroke="#2f86cc" stroke-width="1.45" fill="none" stroke-linejoin="round"/>
<path d="M142.76,25.75 142.84,27.6 142.92,27.6 143,27.6 143.08,27.6 143.16,27.6 143.24,27.6 143.32,27.6 143.4,27.6 143.48,27.6 143.56,27.6 143.64,27.6 143.72,27.6 143.8,27.6 143.88,27.6 143.96,27.6 144.04,27.6 144.12,27.6 144.2,27.6 144.28,27.6 144.36,27.6 144.44,27.6 144.52,27.6 144.6,27.6 144.68,27.6 144.76,27.6 144.84,27.6 144.92,27.6 145,27.6 145.08,27.6 145.16,27.6 145.24,27.6 145.32,27.6 145.4,27.6 145.48,27.6 145.56,27.6" stroke="#e2552c" stroke-width="0.55" fill="none" stroke-linejoin="round" stroke-opacity="0.75"/>
<path d="M127,26.37 127.3,26.03 127.6,25.25 127.9,26.17 128.2,25.61 128.5,25.33 128.8,26.33 129.1,25.83 129.4,26.1 129.7,25.29 130,26.1 130.3,25.19 130.6,25.42 130.9,25.59 131.2,25.14 131.5,25.87 131.8,25.39 132.1,25.5 132.4,26.01 132.7,25.66 133,26.24 133.3,25.9 133.6,26.22 133.9,25.83 134.2,26.28 134.5,26.22 134.8,25.33 135.1,26.06 135.4,25.55 135.7,26.08 136,25.98 136.3,26.16 136.6,25.27 136.9,25.59 137.2,26.05 137.5,26.32 137.8,26.03 138.1,25.17 138.4,25.88 138.7,25.24 139,25.81 139.3,26.13 139.6,25.26 139.9,26.29 140.2,25.97 140.5,25.44 140.8,25.36 141.1,25.68 141.4,26.18 141.7,25.85 142,25.26 142.3,25.14 142.6,25.75 142.68,25.75 142.76,25.75" stroke="#e2552c" stroke-width="1.45" fill="none" stroke-linejoin="round"/>
<path d="M145.56,27.6 145.64,27.6 145.72,27.6 145.8,27.6 145.88,27.6 145.96,27.6 146.04,27.6 146.12,27.6 146.2,27.6 146.28,27.6 146.36,27.6 146.44,27.6 146.52,27.6 146.6,27.6 146.68,27.6 146.76,27.6 146.84,27.6 146.92,27.6 147,27.6 147.08,27.6 147.16,27.6 147.24,27.6 147.32,27.6 147.4,27.6 147.48,27.6 147.56,27.6 147.64,27.6 147.72,27.6 147.8,27.6 147.88,27.6 147.96,27.6 148.04,27.97 148.34,28.07 148.64,28.15 148.94,27.83 149.24,27.35 149.54,27.93 149.84,27.9 150.14,27.61 150.44,27.77 150.74,27.41 151.04,27.66 151.34,27.48 151.64,27.04 151.94,27.39 152.24,27.38 152.54,28.22 152.84,27.58 153.14,27.43 153.44,27.28 153.74,27.26 154.04,27.41 154.34,27.14 154.64,26.98 154.94,28.07 155.24,27.54 155.54,27.53 155.84,27.69 156.14,27.35 156.44,27.18 156.74,27.05 157.04,27.35 157.34,27.36 157.64,27.89 157.94,27.66 158.24,28.15 158.54,27.4 158.84,28.13 159.14,27.71 159.44,27.07 159.74,27.19 160.04,27.7 160.34,28.22 160.64,27.42 160.94,27.95 161.24,27.51 161.54,28.07 161.84,27.05 162.14,27.58 162.44,28.1 162.74,27.32 163.04,27.29 163.34,27 163.64,27.18 163.94,27.31 164.24,27.86 164.54,27.24 164.84,27.47 165.14,27.22 165.44,27.73 165.74,28.06 166.04,27.79 166.34,27.22 166.64,27.9 166.94,28.19 167.24,27.73 167.54,27.07 167.84,27.99 168.14,28.08 168.44,27.4 168.74,27.14 169.04,27.21 169.34,27.65 169.64,28.07 169.94,27.78 170.24,28.13 170.54,27.24 170.84,27.38 171.14,27.92 171.44,27.79 171.74,27.48 172.04,27.83 172.34,27.39 172.64,27.04 172.94,27.49 173.24,27.03 173.54,27.76 173.84,27.39 174.14,27.59 174.44,27.72 174.74,27.29 175.04,27.55 175.34,26.98 175.64,28.14 175.94,27.68 176.24,28.22 176.54,27.04 176.84,27.74 177.14,27.88 177.44,27.38 177.74,27.09 178.04,27.17 178.34,27.15 178.64,27.94 178.94,27.08 179.24,28 179.54,27.5 179.84,27.65 180.14,27.71 180.44,27.67 180.74,27.8 181.04,27.73 181.34,27.39 181.64,27.9 181.94,27.29 182.24,27.87 182.54,27.93 182.84,27.95 183.14,27.36 183.44,27.94 183.74,28.2 184.04,27.54 184.34,27.32 184.64,27.63 184.94,28.16 185.24,27.13 185.54,26.98 185.84,27.57 186.14,27.8 186.44,27.95 186.74,27.43 187.04,28.22 187.34,27.26 187.64,27.92 187.94,27.08 188.24,27 188.54,27.14 188.84,27.04 189.14,27.6 189.44,27.67 189.74,27.2 190.04,28.16 190.34,27.43 190.64,27.16 190.94,27.19 191.24,27.9 191.54,28.13 191.84,27.17 192.14,27 192.44,27.95 192.74,27.27 193.04,28.21 193.34,27.6 193.64,27.77 193.94,27.4 194.24,27.98 194.54,27.55 194.84,27.38 195.14,28.11 195.44,27.1 195.74,27.9 196.04,27.05 196.34,27.78 196.64,27.48 196.94,28.06 197.24,27.04 197.54,27.68 197.84,27.49 198.14,28.13 198.44,28.16 198.74,27.76 199.04,27.25 199.34,27.29 199.64,27.3 199.94,27.52 200.24,27.26 200.54,27.22 200.84,27.93 201.14,27.78 201.44,27.35 201.74,28.23 202.04,27.24 202.34,27.69 202.64,27.17 202.94,28.06 203.24,28.07 203.54,27.31 203.84,27.92 204.14,28.01 204.44,27.32 204.74,27.39 205.04,27.58 205.34,28.09 205.64,27.17 205.94,27.83 206.24,27.72 206.54,27.54 206.84,27.7 207.14,28.08 207.44,27.23 207.74,28.09 208.04,27.42 208.34,27.95 208.64,28.06 208.94,27.2 209.24,28.06 209.54,28.23 209.84,27.34 210.14,27 210.44,27.11 210.74,28.2 211.04,26.98 211.34,28.12 211.64,27.16 211.94,27.9 212.24,27.09 212.54,26.77 212.84,27.05 213.14,26.04 213.44,26.18 213.74,26.79 214.04,26.46 214.34,26.61 214.64,26.69 214.94,25.47 215.24,25.7 215.54,26.4 215.84,26.26 216.14,25.43 216.44,26.02 216.74,25.67 217.04,25.92 217.34,25.5 217.64,25.39 217.94,26.62 218.24,25.77 218.54,26.48 218.84,25.52 219.14,25.98 219.44,25.54 219.74,25.91 220.04,25.59 220.34,26.23 220.64,25.55 220.94,26.3 221.24,26 221.54,25.51 221.84,25.81 222.14,26 222.44,26.53 222.74,25.81 223.04,25.64 223.34,26.59 223.64,26.48 223.94,26.29 224.24,25.71 224.54,25.59 224.84,25.7 225.14,25.45 225.44,25.42 225.74,26.01 226.04,25.88 226.34,26.07 226.64,25.83 226.94,25.38 227.24,26.24 227.54,26.19 227.84,26.06 228.14,26.06 228.44,26.24 228.74,26.61 229.04,26.47 229.34,26.28 229.64,25.87 229.94,25.77 230.24,25.9 230.54,26.6 230.84,25.86 231.14,25.86 231.44,25.89 231.74,25.55 232.04,26.63 232.34,25.37 232.64,26.14 232.94,26.54 233.24,25.69 233.54,26.14 233.84,25.84 234.14,25.67 234.44,25.62" stroke="#e2552c" stroke-width="1.45" fill="none" stroke-linejoin="round"/>
<path d="M142.76,25.75 142.84,26.46 142.92,27.87 143,29.29 143.08,30.7 143.16,32.11 143.24,33.53 143.32,34.94 143.4,36.36 143.48,37.77 143.56,39.18 143.64,40.6 143.72,42.01 143.8,43.43 143.88,44.84 143.96,46.25 144.04,47.67 144.12,49.08 144.2,50.5 144.28,51.91 144.36,53.33 144.44,54.74 144.52,55.6 144.6,54.83 144.68,54.1 144.76,53.39 144.84,52.72 144.92,52.08 145,51.46 145.08,50.87 145.16,50.31 145.24,49.77 145.32,49.26 145.4,48.76 145.48,48.29 145.56,47.84" stroke="#efb128" stroke-width="0.55" fill="none" stroke-linejoin="round" stroke-opacity="0.75"/>
<path d="M127,25.18 127.3,26.26 127.6,26.17 127.9,26.36 128.2,25.08 128.5,26.04 128.8,25.49 129.1,25.97 129.4,25.82 129.7,25.47 130,26.46 130.3,25 130.6,26.12 130.9,26.28 131.2,25.77 131.5,25.89 131.8,26.49 132.1,25.35 132.4,25.94 132.7,26.11 133,25.57 133.3,26.07 133.6,25.59 133.9,25.79 134.2,25.92 134.5,26.01 134.8,25.48 135.1,25.94 135.4,25.81 135.7,25.34 136,25.92 136.3,25.4 136.6,26.36 136.9,25.71 137.2,26.08 137.5,25.78 137.8,25.72 138.1,25.33 138.4,25.21 138.7,26.39 139,25.79 139.3,25.79 139.6,25.79 139.9,26.22 140.2,25.36 140.5,25.26 140.8,26.23 141.1,25.69 141.4,25.96 141.7,26.24 142,26.34 142.3,26.3 142.6,25.75 142.68,25.75 142.76,25.75" stroke="#efb128" stroke-width="1.45" fill="none" stroke-linejoin="round"/>
<path d="M145.56,47.84 145.64,47.41 145.72,47 145.8,46.6 145.88,46.23 145.96,45.87 146.04,45.52 146.12,45.19 146.2,44.88 146.28,44.57 146.36,44.29 146.44,44.01 146.52,43.75 146.6,43.49 146.68,43.25 146.76,43.02 146.84,42.8 146.92,42.59 147,42.39 147.08,42.19 147.16,42.01 147.24,41.83 147.32,41.66 147.4,41.5 147.48,41.34 147.56,41.2 147.64,41.06 147.72,40.92 147.8,40.79 147.88,40.67 147.96,40.55 148.04,40.43 148.34,40.65 148.64,40.12 148.94,38.75 149.24,39.37 149.54,38.98 149.84,38.81 150.14,39.24 150.44,38.49 150.74,38.47 151.04,39.01 151.34,38.27 151.64,38.29 151.94,38.27 152.24,38.7 152.54,38.43 152.84,38.51 153.14,37.98 153.44,37.42 153.74,38.36 154.04,38.15 154.34,38.46 154.64,38.46 154.94,37.48 155.24,37.62 155.54,37.4 155.84,38.51 156.14,37.44 156.44,37.41 156.74,38.41 157.04,38.12 157.34,37.36 157.64,38.3 157.94,38.34 158.24,38 158.54,37.37 158.84,38.32 159.14,37.91 159.44,38.16 159.74,38.78 160.04,38.51 160.34,38.6 160.64,37.51 160.94,37.8 161.24,38.08 161.54,37.31 161.84,38.78 162.14,37.72 162.44,37.7 162.74,37.78 163.04,37.7 163.34,38.6 163.64,38.15 163.94,38.09 164.24,37.96 164.54,37.41 164.84,37.79 165.14,38.63 165.44,38.54 165.74,38.62 166.04,37.73 166.34,37.65 166.64,37.43 166.94,38.15 167.24,37.91 167.54,38.05 167.84,38.09 168.14,38.23 168.44,37.91 168.74,38.56 169.04,37.67 169.34,38.75 169.64,38.21 169.94,37.45 170.24,37.85 170.54,38.18 170.84,38 171.14,38.23 171.44,37.87 171.74,37.8 172.04,38.59 172.34,37.83 172.64,38.46 172.94,38.6 173.24,38.29 173.54,38.09 173.84,38.81 174.14,38.08 174.44,38.73 174.74,37.51 175.04,38.07 175.34,38.38 175.64,37.5 175.94,38.72 176.24,37.54 176.54,38.33 176.84,37.71 177.14,38.82 177.44,38.28 177.74,38.64 178.04,38.19 178.34,38.46 178.64,38.46 178.94,37.9 179.24,37.77 179.54,38.71 179.84,37.68 180.14,38.84 180.44,37.78 180.74,37.62 181.04,37.62 181.34,38.65 181.64,38.9 181.94,38.1 182.24,38.47 182.54,37.87 182.84,38.85 183.14,38.52 183.44,37.73 183.74,37.58 184.04,38.54 184.34,37.57 184.64,38.76 184.94,37.95 185.24,37.86 185.54,38.38 185.84,37.99 186.14,38.36 186.44,37.75 186.74,38.89 187.04,38.01 187.34,38.79 187.64,37.76 187.94,38.73 188.24,39 188.54,38.13 188.84,37.59 189.14,38.11 189.44,38.51 189.74,37.89 190.04,38.37 190.34,37.7 190.64,38.25 190.94,38.65 191.24,38.21 191.54,38.58 191.84,37.74 192.14,38.81 192.44,37.76 192.74,38.96 193.04,39.07 193.34,38.99 193.64,38.37 193.94,38.02 194.24,38.11 194.54,38.72 194.84,38.34 195.14,38.99 195.44,37.74 195.74,38.33 196.04,38.9 196.34,38.5 196.64,38.42 196.94,37.75 197.24,37.83 197.54,38.03 197.84,38.96 198.14,38.89 198.44,37.97 198.74,39.01 199.04,37.68 199.34,38.53 199.64,39.09 199.94,38.16 200.24,39.06 200.54,38.63 200.84,37.72 201.14,38.15 201.44,38.33 201.74,38.03 202.04,38.77 202.34,37.93 202.64,38.84 202.94,38.11 203.24,37.77 203.54,38.51 203.84,37.82 204.14,38.5 204.44,38.86 204.74,38.57 205.04,38.38 205.34,37.74 205.64,38.46 205.94,37.84 206.24,38.66 206.54,37.9 206.84,38.57 207.14,38.23 207.44,38.27 207.74,38.7 208.04,37.96 208.34,37.97 208.64,39.13 208.94,38.22 209.24,38.98 209.54,39.03 209.84,38.45 210.14,37.95 210.44,37.87 210.74,39.05 211.04,37.91 211.34,38.48 211.64,38.55 211.94,37.92 212.24,38.45 212.54,35.85 212.84,34.22 213.14,32.44 213.44,30.86 213.74,29.51 214.04,28.95 214.34,27.96 214.64,27.3 214.94,27.03 215.24,27.63 215.54,26.81 215.84,27.17 216.14,25.69 216.44,26.94 216.74,26.15 217.04,26.52 217.34,26.12 217.64,26.24 217.94,25.51 218.24,26.26 218.54,25.34 218.84,25.48 219.14,25.11 219.44,25.64 219.74,25.82 220.04,25.47 220.34,26.36 220.64,25.15 220.94,25.88 221.24,25.37 221.54,25.9 221.84,26.18 222.14,26.07 222.44,25.1 222.74,25.37 223.04,25.9 223.34,26.47 223.64,25.07 223.94,25.93 224.24,26.04 224.54,26.22 224.84,25.51 225.14,26.21 225.44,25.69 225.74,26.38 226.04,25.02 226.34,26.41 226.64,25.62 226.94,25.61 227.24,25.13 227.54,25.37 227.84,26.1 228.14,26.02 228.44,25.23 228.74,25.52 229.04,25.21 229.34,25.3 229.64,25.33 229.94,25.5 230.24,26.46 230.54,26.49 230.84,26.19 231.14,25.72 231.44,25.75 231.74,26.17 232.04,26.36 232.34,26.13 232.64,25.95 232.94,25.3 233.24,25.94 233.54,26.27 233.84,26.18 234.14,25.14 234.44,26.08" stroke="#efb128" stroke-width="1.45" fill="none" stroke-linejoin="round"/>
<path d="M142.76,25.75 142.84,27.46 142.92,30.89 143,34.32 143.08,37.75 143.16,41.17 143.24,44.6 143.32,48.03 143.4,51.45 143.48,54.88 143.56,58.31 143.64,61.74 143.72,65.16 143.8,68.59 143.88,72.02 143.96,75.45 144.04,78.87 144.12,82.3 144.2,85.73 144.28,89.15 144.36,92.58 144.44,96.01 144.52,99.44 144.6,102.86 144.68,106.29 144.76,109.72 144.84,113.15 144.92,116.57 145,120 145.08,117.16 145.16,114.43 145.24,111.79 145.32,109.25 145.4,106.8 145.48,104.43 145.56,102.15 145.64,99.96 145.72,97.84 145.8,95.79 145.88,93.82 145.96,91.92 146.04,90.09 146.12,88.32 146.2,86.61 146.28,84.97 146.36,83.38 146.44,81.86 146.52,80.38 146.6,78.96 146.68,77.59 146.76,76.27 146.84,74.99 146.92,73.77 147,72.58" stroke="#7f2c93" stroke-width="0.55" fill="none" stroke-linejoin="round" stroke-opacity="0.75"/>
<path d="M127,25.47 127.3,25.13 127.6,26.61 127.9,26.07 128.2,26.2 128.5,25.08 128.8,26.35 129.1,26.55 129.4,26.49 129.7,26.2 130,26.36 130.3,26.31 130.6,25.92 130.9,25.63 131.2,26.35 131.5,26.27 131.8,26.43 132.1,25.38 132.4,26.6 132.7,25.81 133,26.57 133.3,25.04 133.6,26.61 133.9,26.28 134.2,25.29 134.5,26.37 134.8,25.26 135.1,25.19 135.4,25.67 135.7,25.27 136,25.74 136.3,26.5 136.6,26.09 136.9,26.14 137.2,25.55 137.5,26.27 137.8,26.29 138.1,26.09 138.4,26.56 138.7,26.35 139,25.58 139.3,24.99 139.6,26.03 139.9,26.37 140.2,25.45 140.5,25.92 140.8,26.37 141.1,26.29 141.4,24.84 141.7,25.73 142,24.86 142.3,25.03 142.6,25.75 142.68,25.75 142.76,25.75" stroke="#7f2c93" stroke-width="1.45" fill="none" stroke-linejoin="round"/>
<path d="M147,72.58 147.08,71.44 147.16,70.34 147.24,69.27 147.32,68.25 147.4,67.26 147.48,66.31 147.56,65.39 147.64,64.5 147.72,63.65 147.8,62.82 147.88,62.03 147.96,61.26 148.04,60.86 148.34,58.09 148.64,55.67 148.94,54.29 149.24,52.86 149.54,51.08 149.84,49.84 150.14,47.4 150.44,46.95 150.74,45.75 151.04,46.51 151.34,45.74 151.64,43.8 151.94,44.12 152.24,43.66 152.54,42.31 152.84,42.62 153.14,42.98 153.44,42.54 153.74,41.65 154.04,42.35 154.34,41.31 154.64,41.63 154.94,41.28 155.24,42.19 155.54,41.49 155.84,41.69 156.14,41.38 156.44,40.77 156.74,41.78 157.04,41.27 157.34,41.19 157.64,40.39 157.94,40.14 158.24,40.87 158.54,41.31 158.84,41.23 159.14,40.38 159.44,39.98 159.74,40.66 160.04,41.31 160.34,39.98 160.64,41.03 160.94,39.98 161.24,40.23 161.54,39.75 161.84,40.19 162.14,40.34 162.44,41.41 162.74,41.4 163.04,39.97 163.34,40.19 163.64,41.35 163.94,39.97 164.24,40.2 164.54,40.41 164.84,39.8 165.14,40.08 165.44,40.32 165.74,40.3 166.04,41.36 166.34,40.08 166.64,39.96 166.94,41.26 167.24,40.41 167.54,41.12 167.84,40.75 168.14,41.01 168.44,40.16 168.74,39.86 169.04,40.97 169.34,40.44 169.64,40.6 169.94,40.8 170.24,40.95 170.54,40.07 170.84,40.23 171.14,41.25 171.44,40.54 171.74,40.09 172.04,40.72 172.34,40.04 172.64,40.98 172.94,39.63 173.24,41.07 173.54,40.59 173.84,40.2 174.14,41.28 174.44,40.04 174.74,39.99 175.04,39.67 175.34,40.55 175.64,40.93 175.94,40.79 176.24,40.3 176.54,41.03 176.84,39.74 177.14,40.1 177.44,40.72 177.74,41.31 178.04,40.7 178.34,40.8 178.64,40.95 178.94,40.25 179.24,41.26 179.54,40.89 179.84,40.15 180.14,40.24 180.44,41 180.74,40.16 181.04,39.86 181.34,41.12 181.64,40.49 181.94,40.47 182.24,40.74 182.54,41.17 182.84,39.76 183.14,40.13 183.44,39.63 183.74,40.27 184.04,40.43 184.34,41.07 184.64,40.73 184.94,40.56 185.24,40.24 185.54,40.55 185.84,40 186.14,41.05 186.44,40.95 186.74,41.04 187.04,39.77 187.34,40.73 187.64,40.88 187.94,40.41 188.24,41.14 188.54,41.14 188.84,40.85 189.14,40.99 189.44,40.67 189.74,41.1 190.04,39.72 190.34,40.77 190.64,40.77 190.94,40.6 191.24,39.98 191.54,39.6 191.84,40.58 192.14,40.99 192.44,39.97 192.74,39.86 193.04,39.88 193.34,39.64 193.64,40.71 193.94,41.25 194.24,40.94 194.54,40.12 194.84,40.74 195.14,39.59 195.44,41 195.74,40.05 196.04,39.46 196.34,40.61 196.64,39.7 196.94,39.95 197.24,39.55 197.54,40.26 197.84,40.46 198.14,40.93 198.44,39.51 198.74,40.96 199.04,39.64 199.34,39.85 199.64,40.59 199.94,40.06 200.24,40.04 200.54,40.48 200.84,39.83 201.14,40.89 201.44,39.81 201.74,40.97 202.04,40.91 202.34,40.41 202.64,39.48 202.94,40.85 203.24,39.47 203.54,40.35 203.84,40.2 204.14,39.53 204.44,40.57 204.74,40.75 205.04,40.49 205.34,40.15 205.64,40.35 205.94,40.49 206.24,39.82 206.54,41 206.84,41.24 207.14,40.88 207.44,41.17 207.74,40.01 208.04,41.21 208.34,39.53 208.64,40.27 208.94,39.64 209.24,40.23 209.54,40.65 209.84,40.69 210.14,40.22 210.44,40.02 210.74,39.74 211.04,40.13 211.34,39.9 211.64,39.74 211.94,40.73 212.24,40.33 212.54,37.73 212.84,34.8 213.14,33.75 213.44,31.25 213.74,30.12 214.04,29.68 214.34,29.15 214.64,29.03 214.94,28.12 215.24,28.09 215.54,27.73 215.84,27.11 216.14,26.91 216.44,25.55 216.74,25.69 217.04,25.23 217.34,26.72 217.64,26.4 217.94,26.18 218.24,25.47 218.54,25.6 218.84,25.23 219.14,26.07 219.44,26.71 219.74,25.44 220.04,24.95 220.34,25.18 220.64,25.51 220.94,26.5 221.24,26.33 221.54,25.68 221.84,25.03 222.14,25.03 222.44,25.12 222.74,26.27 223.04,25.7 223.34,26.66 223.64,26.51 223.94,26.29 224.24,25.71 224.54,26.34 224.84,25.07 225.14,25.03 225.44,25.87 225.74,25.77 226.04,25.22 226.34,25.29 226.64,24.87 226.94,26.5 227.24,26.14 227.54,26.57 227.84,26.63 228.14,25.63 228.44,26.18 228.74,25.54 229.04,26.32 229.34,26.38 229.64,25.08 229.94,24.85 230.24,25.22 230.54,25.91 230.84,25.53 231.14,24.85 231.44,26.36 231.74,26.28 232.04,25.68 232.34,24.91 232.64,26.47 232.94,25.81 233.24,24.96 233.54,25.42 233.84,25.98 234.14,26.46 234.44,25.72" stroke="#7f2c93" stroke-width="1.45" fill="none" stroke-linejoin="round"/>
<path d="M142.76,25.75 142.84,31.76 142.92,43.78 143,55.81 143.08,67.83 143.16,79.85 143.24,91.87 143.32,103.89 143.4,115.92 143.48,127.94 143.56,139.96 143.64,151.98 143.72,159.73 143.8,154.78 143.88,150.03 143.96,145.47 144.04,141.11 144.12,136.92 144.2,132.91 144.28,129.06 144.36,125.37 144.44,121.84 144.52,118.44 144.6,115.19 144.68,112.08 144.76,109.09 144.84,106.22 144.92,103.48 145,100.84 145.08,98.32 145.16,95.89 145.24,93.57 145.32,91.35 145.4,89.21 145.48,87.17 145.56,85.21 145.64,83.32 145.72,81.52 145.8,79.79 145.88,78.13 145.96,76.55 146.04,75.02 146.12,73.56 146.2,72.16 146.28,70.82 146.36,69.53 146.44,68.29 146.52,67.11 146.6,65.98 146.68,64.89 146.76,63.84 146.84,62.84 146.92,61.89 147,60.97" stroke="#68a83a" stroke-width="0.55" fill="none" stroke-linejoin="round" stroke-opacity="0.75"/>
<path d="M127,26.04 127.3,25.14 127.6,25.22 127.9,26.59 128.2,25.51 128.5,24.93 128.8,25.94 129.1,24.98 129.4,25.13 129.7,25.66 130,25.93 130.3,26.03 130.6,26.18 130.9,25.63 131.2,24.85 131.5,26.21 131.8,24.83 132.1,25.69 132.4,25.54 132.7,26.11 133,26.19 133.3,25.21 133.6,26.06 133.9,26.15 134.2,25.69 134.5,25.01 134.8,26.6 135.1,25.96 135.4,24.84 135.7,25.21 136,26.76 136.3,25.19 136.6,25.53 136.9,26.35 137.2,26.42 137.5,26.03 137.8,26.25 138.1,24.79 138.4,24.91 138.7,26.74 139,26.38 139.3,24.79 139.6,24.82 139.9,25.21 140.2,26.64 140.5,25.17 140.8,26.11 141.1,26.64 141.4,26.04 141.7,26.62 142,25.26 142.3,25.03 142.6,25.75 142.68,25.75 142.76,25.75" stroke="#68a83a" stroke-width="1.45" fill="none" stroke-linejoin="round"/>
<path d="M147,60.97 147.08,60.08 147.16,59.24 147.24,58.43 147.32,57.65 147.4,56.91 147.48,56.19 147.56,55.51 147.64,54.85 147.72,54.22 147.8,53.62 147.88,53.04 147.96,52.48 148.04,50.98 148.34,50.52 148.64,49.33 148.94,47.14 149.24,46.94 149.54,44.53 149.84,45.29 150.14,43.55 150.44,43.5 150.74,42.05 151.04,41.72 151.34,41.44 151.64,41.07 151.94,40.32 152.24,40.81 152.54,41.73 152.84,40.88 153.14,41.31 153.44,40.84 153.74,40.88 154.04,41.12 154.34,40.54 154.64,39.48 154.94,39.38 155.24,39.66 155.54,38.81 155.84,39.21 156.14,40.54 156.44,40.58 156.74,39.33 157.04,40.23 157.34,40.22 157.64,40.44 157.94,40.24 158.24,39.68 158.54,38.79 158.84,40.27 159.14,39.2 159.44,39.85 159.74,39.3 160.04,39.65 160.34,40.53 160.64,38.86 160.94,39.63 161.24,39.87 161.54,39.64 161.84,40.46 162.14,39.36 162.44,40.41 162.74,39.94 163.04,40.52 163.34,38.7 163.64,38.95 163.94,39.1 164.24,40.38 164.54,38.53 164.84,39.04 165.14,39.99 165.44,40.55 165.74,38.87 166.04,39.41 166.34,39.92 166.64,39.93 166.94,40.04 167.24,40.06 167.54,39.01 167.84,39.03 168.14,38.55 168.44,39.92 168.74,38.92 169.04,39.03 169.34,40.49 169.64,39.82 169.94,39.71 170.24,39.85 170.54,39.72 170.84,39.92 171.14,39.11 171.44,38.62 171.74,38.62 172.04,38.51 172.34,39.23 172.64,38.77 172.94,38.71 173.24,39.5 173.54,40.48 173.84,39.9 174.14,39.04 174.44,40.07 174.74,38.84 175.04,38.68 175.34,39.1 175.64,39.32 175.94,39.9 176.24,39.39 176.54,39.98 176.84,38.66 177.14,40.4 177.44,39.17 177.74,40.19 178.04,38.53 178.34,40.18 178.64,38.93 178.94,40.23 179.24,40.12 179.54,39.85 179.84,39.03 180.14,38.48 180.44,38.85 180.74,40.33 181.04,38.78 181.34,39.82 181.64,39.67 181.94,39.82 182.24,38.83 182.54,38.75 182.84,38.65 183.14,40.48 183.44,39.24 183.74,39.8 184.04,39.63 184.34,38.91 184.64,38.58 184.94,38.47 185.24,40.21 185.54,38.71 185.84,40.43 186.14,39.19 186.44,39.94 186.74,38.72 187.04,40.07 187.34,38.96 187.64,39.19 187.94,39.52 188.24,38.66 188.54,38.95 188.84,40.08 189.14,39.02 189.44,39.22 189.74,40.01 190.04,38.89 190.34,38.83 190.64,38.88 190.94,39.22 191.24,39.18 191.54,39.75 191.84,39.4 192.14,40.22 192.44,38.53 192.74,39.79 193.04,40.15 193.34,38.91 193.64,38.48 193.94,39.32 194.24,38.66 194.54,39.37 194.84,39.89 195.14,38.61 195.44,38.66 195.74,39.4 196.04,38.77 196.34,38.89 196.64,39.32 196.94,38.65 197.24,38.55 197.54,39.15 197.84,39.38 198.14,40.34 198.44,39.55 198.74,38.55 199.04,38.86 199.34,39.94 199.64,39.57 199.94,40.2 200.24,40.39 200.54,40.17 200.84,38.62 201.14,40.35 201.44,39.48 201.74,38.89 202.04,38.75 202.34,40.18 202.64,38.83 202.94,38.56 203.24,38.94 203.54,40.3 203.84,39.34 204.14,39.9 204.44,38.54 204.74,39.32 205.04,39.04 205.34,38.81 205.64,39.76 205.94,39.13 206.24,38.63 206.54,40.42 206.84,39.38 207.14,38.75 207.44,38.4 207.74,39.73 208.04,39.44 208.34,38.43 208.64,39.35 208.94,39.91 209.24,39.48 209.54,38.86 209.84,39.4 210.14,39.62 210.44,39.72 210.74,38.67 211.04,40.03 211.34,40.32 211.64,39.9 211.94,40.14 212.24,39.12 212.54,37.93 212.84,34.1 213.14,32.34 213.44,31.63 213.74,31.09 214.04,28.46 214.34,28.01 214.64,27.05 214.94,27.42 215.24,26.43 215.54,26.24 215.84,27.16 216.14,26.63 216.44,27.22 216.74,26 217.04,26.48 217.34,25.02 217.64,26.9 217.94,25.38 218.24,25.84 218.54,25.89 218.84,26.77 219.14,25.8 219.44,26.82 219.74,26.05 220.04,25.2 220.34,26.47 220.64,25.16 220.94,26.8 221.24,25.67 221.54,25.19 221.84,26.71 222.14,25.39 222.44,25.56 222.74,25.43 223.04,26.1 223.34,24.77 223.64,25.49 223.94,25.05 224.24,26.43 224.54,24.72 224.84,25.97 225.14,25.25 225.44,25.66 225.74,25.88 226.04,26.19 226.34,25 226.64,25.21 226.94,24.96 227.24,26.7 227.54,25.02 227.84,25 228.14,25.8 228.44,25.92 228.74,26.55 229.04,24.83 229.34,25.2 229.64,25.06 229.94,25.93 230.24,25.65 230.54,25.56 230.84,26.55 231.14,26.08 231.44,26.5 231.74,26.7 232.04,25.27 232.34,26.66 232.64,25.56 232.94,24.82 233.24,26.61 233.54,24.93 233.84,24.75 234.14,25.31 234.44,25.31" stroke="#68a83a" stroke-width="1.45" fill="none" stroke-linejoin="round"/>
<line x1="182.2" y1="82.5" x2="194" y2="82.5" stroke="#2f86cc" stroke-width="1.1" stroke-opacity="0.75"/>
<text x="198.2" y="85.15" transform="matrix(0.93 0 0 1 13.87 0)">37 µM</text>
<line x1="182.2" y1="89.5" x2="194" y2="89.5" stroke="#e2552c" stroke-width="1.1" stroke-opacity="0.75"/>
<text x="198.2" y="93.1" transform="matrix(0.93 0 0 1 13.87 0)">111 µM</text>
<line x1="182.2" y1="97.5" x2="194" y2="97.5" stroke="#efb128" stroke-width="1.1" stroke-opacity="0.75"/>
<text x="198.2" y="101.05" transform="matrix(0.93 0 0 1 13.87 0)">333 µM</text>
<line x1="182.2" y1="105.5" x2="194" y2="105.5" stroke="#7f2c93" stroke-width="1.1" stroke-opacity="0.75"/>
<text x="198.2" y="109" transform="matrix(0.93 0 0 1 13.87 0)">1,000 µM</text>
<line x1="182.2" y1="113.5" x2="194" y2="113.5" stroke="#68a83a" stroke-width="1.1" stroke-opacity="0.75"/>
<text x="198.2" y="116.95" transform="matrix(0.93 0 0 1 13.87 0)">3,000 µM</text>
<line x1="187.5" y1="125.9" x2="187.5" y2="144" stroke="#231f20" stroke-width="0.8"/>
<line x1="187" y1="144.5" x2="210.2" y2="144.5" stroke="#231f20" stroke-width="0.8"/>
<text x="184.6" y="137.85" text-anchor="end" transform="matrix(0.93 0 0 1 12.92 0)">200 pA</text>
<text x="198.2" y="153.05" text-anchor="middle" transform="matrix(0.93 0 0 1 13.87 0)">5 s</text>
<text x="251.8" y="7.4" font-weight="bold" font-size="9.4" stroke="#231f20" stroke-width="0.25" transform="matrix(1.2 0 0 1 -50.36 0)">c</text>
<circle cx="286.2" cy="16" r="3.6" fill="#000" stroke="none" stroke-width="0.7"/>
<text x="292.4" y="18.85" transform="matrix(0.93 0 0 1 20.47 0)">Coca-5HT3</text>
<circle cx="286.2" cy="26.2" r="3.1" fill="#fff" stroke="#000" stroke-width="1.1"/>
<text x="292.4" y="29.35" transform="matrix(0.93 0 0 1 20.47 0)">Control</text>
<line x1="277.5" y1="34.8" x2="277.5" y2="131.5" stroke="#555" stroke-width="0.7"/>
<line x1="277.7" y1="131.5" x2="280.2" y2="131.5" stroke="#555" stroke-width="0.6"/>
<text x="272.4" y="134.35" text-anchor="end" transform="matrix(0.93 0 0 1 19.07 0)">0</text>
<line x1="277.7" y1="119.5" x2="280.2" y2="119.5" stroke="#555" stroke-width="0.6"/>
<text x="272.4" y="122.31" text-anchor="end" transform="matrix(0.93 0 0 1 19.07 0)">2</text>
<line x1="277.7" y1="107.5" x2="280.2" y2="107.5" stroke="#555" stroke-width="0.6"/>
<text x="272.4" y="110.27" text-anchor="end" transform="matrix(0.93 0 0 1 19.07 0)">4</text>
<line x1="277.7" y1="95.5" x2="280.2" y2="95.5" stroke="#555" stroke-width="0.6"/>
<text x="272.4" y="98.23" text-anchor="end" transform="matrix(0.93 0 0 1 19.07 0)">6</text>
<line x1="277.7" y1="83.5" x2="280.2" y2="83.5" stroke="#555" stroke-width="0.6"/>
<text x="272.4" y="86.19" text-anchor="end" transform="matrix(0.93 0 0 1 19.07 0)">8</text>
<line x1="277.7" y1="71.5" x2="280.2" y2="71.5" stroke="#555" stroke-width="0.6"/>
<text x="272.4" y="74.15" text-anchor="end" transform="matrix(0.93 0 0 1 19.07 0)">10</text>
<line x1="277.7" y1="58.5" x2="280.2" y2="58.5" stroke="#555" stroke-width="0.6"/>
<text x="272.4" y="62.11" text-anchor="end" transform="matrix(0.93 0 0 1 19.07 0)">12</text>
<line x1="277.7" y1="46.5" x2="280.2" y2="46.5" stroke="#555" stroke-width="0.6"/>
<text x="272.4" y="50.07" text-anchor="end" transform="matrix(0.93 0 0 1 19.07 0)">14</text>
<line x1="277.7" y1="34.5" x2="280.2" y2="34.5" stroke="#555" stroke-width="0.6"/>
<text x="272.4" y="38.03" text-anchor="end" transform="matrix(0.93 0 0 1 19.07 0)">16</text>
<line x1="277.7" y1="131.5" x2="331" y2="131.5" stroke="#888" stroke-width="0.7"/>
<line x1="285.5" y1="131.3" x2="285.5" y2="129.6" stroke="#888" stroke-width="0.5"/>
<line x1="289.5" y1="131.3" x2="289.5" y2="129.6" stroke="#888" stroke-width="0.5"/>
<line x1="292.5" y1="131.3" x2="292.5" y2="129.6" stroke="#888" stroke-width="0.5"/>
<line x1="295.5" y1="131.3" x2="295.5" y2="129.6" stroke="#888" stroke-width="0.5"/>
<line x1="297.5" y1="131.3" x2="297.5" y2="129.6" stroke="#888" stroke-width="0.5"/>
<line x1="299.5" y1="131.3" x2="299.5" y2="129.6" stroke="#888" stroke-width="0.5"/>
<line x1="300.5" y1="131.3" x2="300.5" y2="129.6" stroke="#888" stroke-width="0.5"/>
<line x1="301.5" y1="131.3" x2="301.5" y2="129.6" stroke="#888" stroke-width="0.5"/>
<line x1="310.5" y1="131.3" x2="310.5" y2="129.6" stroke="#888" stroke-width="0.5"/>
<line x1="315.5" y1="131.3" x2="315.5" y2="129.6" stroke="#888" stroke-width="0.5"/>
<line x1="318.5" y1="131.3" x2="318.5" y2="129.6" stroke="#888" stroke-width="0.5"/>
<line x1="320.5" y1="131.3" x2="320.5" y2="129.6" stroke="#888" stroke-width="0.5"/>
<line x1="322.5" y1="131.3" x2="322.5" y2="129.6" stroke="#888" stroke-width="0.5"/>
<line x1="324.5" y1="131.3" x2="324.5" y2="129.6" stroke="#888" stroke-width="0.5"/>
<line x1="326.5" y1="131.3" x2="326.5" y2="129.6" stroke="#888" stroke-width="0.5"/>
<line x1="327.5" y1="131.3" x2="327.5" y2="129.6" stroke="#888" stroke-width="0.5"/>
<text x="277.4" y="142.25" text-anchor="middle" transform="matrix(0.93 0 0 1 19.42 0)">0.1</text>
<text x="303" y="142.25" text-anchor="middle" transform="matrix(0.93 0 0 1 21.21 0)">1</text>
<text x="328.6" y="142.25" text-anchor="middle" transform="matrix(0.93 0 0 1 23 0)">10</text>
<text x="303.5" y="153.95" text-anchor="middle" transform="matrix(0.93 0 0 1 21.24 0)">Cocaine (µM)</text>
<text x="256.6" y="86.35" text-anchor="middle" transform="rotate(-90 256.6 83.2) matrix(0.93 0 0 1 17.96 0)">Depolarization (mV)</text>
<circle cx="277.4" cy="132" r="2.8" fill="#fff" stroke="#000" stroke-width="0.9"/>
<circle cx="289.61" cy="132.4" r="2.8" fill="#fff" stroke="#000" stroke-width="0.9"/>
<line x1="289.5" y1="129.9" x2="289.5" y2="134.9" stroke="#000" stroke-width="0.6"/>
<line x1="288.61" y1="129.5" x2="290.61" y2="129.5" stroke="#000" stroke-width="0.6"/>
<line x1="288.61" y1="134.5" x2="290.61" y2="134.5" stroke="#000" stroke-width="0.6"/>
<circle cx="303" cy="130.5" r="2.8" fill="#fff" stroke="#000" stroke-width="0.9"/>
<line x1="303.5" y1="129.5" x2="303.5" y2="131.5" stroke="#000" stroke-width="0.6"/>
<line x1="302" y1="129.5" x2="304" y2="129.5" stroke="#000" stroke-width="0.6"/>
<line x1="302" y1="131.5" x2="304" y2="131.5" stroke="#000" stroke-width="0.6"/>
<circle cx="315.21" cy="128.9" r="2.8" fill="#fff" stroke="#000" stroke-width="0.9"/>
<line x1="315.5" y1="126.9" x2="315.5" y2="130.9" stroke="#000" stroke-width="0.6"/>
<line x1="314.21" y1="126.5" x2="316.21" y2="126.5" stroke="#000" stroke-width="0.6"/>
<line x1="314.21" y1="130.5" x2="316.21" y2="130.5" stroke="#000" stroke-width="0.6"/>
<circle cx="328.6" cy="130.8" r="2.8" fill="#fff" stroke="#000" stroke-width="0.9"/>
<line x1="328.5" y1="130.2" x2="328.5" y2="131.4" stroke="#000" stroke-width="0.6"/>
<line x1="327.6" y1="130.5" x2="329.6" y2="130.5" stroke="#000" stroke-width="0.6"/>
<line x1="327.6" y1="131.5" x2="329.6" y2="131.5" stroke="#000" stroke-width="0.6"/>
<circle cx="277.4" cy="128.8" r="3.2" fill="#000" stroke="none" stroke-width="0.7"/>
<circle cx="289.61" cy="123.5" r="3.2" fill="#000" stroke="none" stroke-width="0.7"/>
<line x1="303.5" y1="100" x2="303.5" y2="111.7" stroke="#000" stroke-width="0.7"/>
<line x1="301.7" y1="100.5" x2="304.3" y2="100.5" stroke="#000" stroke-width="0.7"/>
<line x1="301.7" y1="111.5" x2="304.3" y2="111.5" stroke="#000" stroke-width="0.7"/>
<circle cx="303" cy="106" r="3.2" fill="#000" stroke="none" stroke-width="0.7"/>
<line x1="315.5" y1="52.3" x2="315.5" y2="73.5" stroke="#000" stroke-width="0.7"/>
<line x1="313.91" y1="52.5" x2="316.51" y2="52.5" stroke="#000" stroke-width="0.7"/>
<line x1="313.91" y1="73.5" x2="316.51" y2="73.5" stroke="#000" stroke-width="0.7"/>
<circle cx="315.21" cy="63.2" r="3.2" fill="#000" stroke="none" stroke-width="0.7"/>
<line x1="328.5" y1="43.3" x2="328.5" y2="68.5" stroke="#000" stroke-width="0.7"/>
<line x1="327.3" y1="43.5" x2="329.9" y2="43.5" stroke="#000" stroke-width="0.7"/>
<line x1="327.3" y1="68.5" x2="329.9" y2="68.5" stroke="#000" stroke-width="0.7"/>
<circle cx="328.6" cy="56" r="3.2" fill="#000" stroke="none" stroke-width="0.7"/>
<text x="356.2" y="7.9" font-weight="bold" font-size="9.4" stroke="#231f20" stroke-width="0.25" transform="matrix(1.2 0 0 1 -71.24 0)">d</text>
<line x1="397.8" y1="16.5" x2="415.9" y2="16.5" stroke="#555" stroke-width="0.9"/>
<text x="407.2" y="13.15" text-anchor="middle" transform="matrix(0.93 0 0 1 28.5 0)">1 µM</text>
<line x1="379" y1="107.5" x2="397.3" y2="107.5" stroke="#555" stroke-width="0.9"/>
<text x="385.2" y="105.15" text-anchor="middle" transform="matrix(0.93 0 0 1 26.96 0)">0.3 µM</text>
<line x1="361" y1="124.5" x2="378.9" y2="124.5" stroke="#555" stroke-width="0.9"/>
<text x="368.8" y="121.35" text-anchor="middle" transform="matrix(0.93 0 0 1 25.82 0)">0.1 µM</text>
<line x1="417" y1="36.5" x2="497.8" y2="36.5" stroke="#555" stroke-width="0.9"/>
<text x="457.4" y="33.25" text-anchor="middle" transform="matrix(0.93 0 0 1 32.02 0)">3 µM</text>
<line x1="509.2" y1="36.5" x2="544.8" y2="36.5" stroke="#555" stroke-width="0.9"/>
<text x="526.8" y="33.25" text-anchor="middle" transform="matrix(0.93 0 0 1 36.88 0)">3 µM</text>
<text x="570.4" y="106.25" text-anchor="end" transform="matrix(0.93 0 0 1 39.93 0)">10 mV</text>
<text x="578.4" y="117.35" text-anchor="middle" transform="matrix(0.93 0 0 1 40.49 0)">10 s</text>
<line x1="573.5" y1="96.4" x2="573.5" y2="108" stroke="#231f20" stroke-width="0.8"/>
<line x1="573.2" y1="108.5" x2="585.1" y2="108.5" stroke="#231f20" stroke-width="0.8"/>
<path d="M353.1,135 353.1,142.25 353.8,142.09 354.5,141.37 355.2,141.55 355.9,142.06 356.6,141.99 357.3,141.75 358,141.52 358.7,140.89 359.4,141.09 360.1,141.75 360.8,141.64 361.5,141.98 362.2,142.14 362.9,142.24 363.6,141.01 364.3,140.82 365,142.14 365.7,141.61 366.4,140.99 367.1,141.81 367.8,141.11 368.5,141.08 369.2,141.29 369.9,141.54 370.6,141.78 371.3,140.82 372,141.89 372.7,141.7 373.4,141.45 374.1,141.78 374.8,141.98 375.5,140.72 376.2,141.46 376.9,141.78 377.6,141.83 378.3,141.74 379,140.99 379.7,142.23 380.4,141.96 381.1,141.07 381.8,141.39 382.5,142.23 383.2,141.03 383.9,141.35 384.6,142.24 385.3,142.14 386,141.07 386.7,141.88 387.4,141.28 388.1,141.76 388.8,141.93 389.5,140.9 390.2,141.06 390.9,141.04 391.6,141.13 392.3,140.76 393,140.92 393.7,141.35 394.4,141.37 395.1,140.82 395.8,141.63 396.5,142.21 397.2,141.62 397.5,135Z" fill="#b4b4b4" stroke="none"/>
<line x1="354.1" y1="135" x2="354.1" y2="141.34" stroke="#7a7a7a" stroke-width="0.9"/>
<line x1="357.96" y1="135" x2="357.96" y2="141.49" stroke="#7a7a7a" stroke-width="0.9"/>
<line x1="361.4" y1="135" x2="361.4" y2="141.57" stroke="#7a7a7a" stroke-width="0.9"/>
<line x1="364.72" y1="135" x2="364.72" y2="141.92" stroke="#7a7a7a" stroke-width="0.9"/>
<line x1="368.15" y1="135" x2="368.15" y2="141.37" stroke="#7a7a7a" stroke-width="0.9"/>
<line x1="372.22" y1="135" x2="372.22" y2="142.08" stroke="#7a7a7a" stroke-width="0.9"/>
<line x1="376.19" y1="135" x2="376.19" y2="141.86" stroke="#7a7a7a" stroke-width="0.9"/>
<line x1="379.99" y1="135" x2="379.99" y2="141.97" stroke="#7a7a7a" stroke-width="0.9"/>
<line x1="384.07" y1="135" x2="384.07" y2="141.05" stroke="#7a7a7a" stroke-width="0.9"/>
<line x1="387.98" y1="135" x2="387.98" y2="141.24" stroke="#7a7a7a" stroke-width="0.9"/>
<line x1="391.48" y1="135" x2="391.48" y2="142.18" stroke="#7a7a7a" stroke-width="0.9"/>
<line x1="395.26" y1="135" x2="395.26" y2="142.23" stroke="#7a7a7a" stroke-width="0.9"/>
<line x1="360.5" y1="135" x2="360.5" y2="147" stroke="#999" stroke-width="0.6"/>
<path d="M353.1,134.6 353.5,134.62 353.9,135.18 354.3,134.95 354.7,134.8 355.1,134.53 355.5,134.75 355.9,134.8 356.3,135.05 356.7,135.35 357.1,135.22 357.5,134.93 357.9,134.79 358.3,135.35 358.7,135.03 359.1,134.86 359.5,135.44 359.9,135.53 360.3,135.21 360.7,134.89 361.1,134.61 361.5,135.11 361.9,134.74 362.3,135.11 362.7,134.62 363.1,134.78 363.5,134.93 363.9,134.89 364.3,134.91 364.7,134.96 365.1,134.46 365.5,134.32 365.9,134.61 366.3,135.36 366.7,134.93 367.1,134.52 367.5,134.49 367.9,134.72 368.3,135.18 368.7,134.72 369.1,134.97 369.5,134.91 369.9,134.71 370.3,134.45 370.7,134.64 371.1,134.51 371.5,134.9 371.9,134.23 372.3,135.01 372.7,135.12 373.1,135.1 373.5,135.4 373.9,135.19 374.3,134.33 374.7,134.68 375.1,134.92 375.5,134.6 375.9,134.35 376.3,134.81 376.7,134.98 377.1,134.71 377.5,134.69 377.9,134.59 378.3,134.54 378.7,134.7 379.1,135.14 379.5,134.35 379.9,134.55 380.3,135.28 380.7,135.05 381.1,134.93 381.5,135.12 381.9,134.55 382.3,134.31 382.7,134.09 383.1,134.09 383.5,134.67 383.9,135.05 384.3,134.73 384.7,134.55 385.1,134.86 385.5,135.03 385.9,134.96 386.3,134.2 386.7,134.43 387.1,133.83 387.5,134.59 387.9,134.45 388.3,134.47 388.7,135.21 389.1,135.37 389.5,135.14 389.9,135 390.3,134.92 390.7,134.64 391.1,134.73 391.5,135.43 391.9,134.69 392.3,134.54 392.7,134.78 393.1,135.1 393.5,135.17 393.9,134.58 394.3,134.69 394.7,134.68 395.1,134.34 395.5,134.69 395.9,134.6 396.3,135.05 396.7,135.02 397.1,134.6 397.5,134.77" stroke="#1a1a1a" stroke-width="1.1" fill="none" stroke-linejoin="round"/>
<path d="M398.3,124.6 398.3,131.87 399,131.16 399.7,131.31 400.4,131.56 401.1,131.94 401.8,132.03 402.5,131.39 403.2,131.51 403.9,132.28 404.6,132.29 405.3,131.79 406,130.97 406.7,131.53 407.4,131.82 408.1,131.25 408.8,130.86 409.5,132.37 410.2,132.26 410.9,131.01 411.6,131.55 412.3,131.79 413,131.28 413.7,130.91 414.4,132 415.1,132.03 415.7,124.6Z" fill="#b4b4b4" stroke="none"/>
<line x1="399.3" y1="124.6" x2="399.3" y2="131.59" stroke="#7a7a7a" stroke-width="0.9"/>
<line x1="402.67" y1="124.6" x2="402.67" y2="131.51" stroke="#7a7a7a" stroke-width="0.9"/>
<line x1="406.04" y1="124.6" x2="406.04" y2="132.53" stroke="#7a7a7a" stroke-width="0.9"/>
<line x1="409.38" y1="124.6" x2="409.38" y2="131.32" stroke="#7a7a7a" stroke-width="0.9"/>
<line x1="413.3" y1="124.6" x2="413.3" y2="131.04" stroke="#7a7a7a" stroke-width="0.9"/>
<line x1="398.7" y1="125" x2="398.7" y2="18.4" stroke="#888" stroke-width="0.7"/>
<line x1="401.3" y1="125" x2="401.3" y2="19.5" stroke="#666" stroke-width="0.7"/>
<line x1="404.5" y1="125" x2="404.5" y2="20.5" stroke="#aaa" stroke-width="0.7"/>
<line x1="406.2" y1="125" x2="406.2" y2="21" stroke="#999" stroke-width="0.7"/>
<line x1="408.7" y1="125" x2="408.7" y2="21.5" stroke="#777" stroke-width="0.7"/>
<line x1="411" y1="125" x2="411" y2="21.5" stroke="#aaa" stroke-width="0.7"/>
<line x1="413.6" y1="125" x2="413.6" y2="22" stroke="#888" stroke-width="0.7"/>
<line x1="415.7" y1="125" x2="415.7" y2="22.5" stroke="#999" stroke-width="0.7"/>
<path d="M397.5,134.8 397.9,125 398,124.59 398.4,124.53 398.8,123.76 399.2,124.03 399.6,124.34 400,124.5 400.4,124.39 400.8,123.94 401.2,124.06 401.6,124.33 402,124.29 402.4,125.16 402.8,124.67 403.2,124.5 403.6,124.21 404,123.41 404.4,124.23 404.8,123.91 405.2,124.48 405.6,124.05 406,123.95 406.4,124.38 406.8,123.99 407.2,123.43 407.6,123.96 408,124.12 408.4,124.15 408.8,123.94 409.2,124.03 409.6,123.63 410,123.79 410.4,124.1 410.8,122.86 411.2,123.73 411.6,124.18 412,124.44 412.4,123.87 412.8,123.97 413.2,123.78 413.6,123.4 414,123.74 414.4,124.02 414.8,124.06 415.2,123.13 415.6,123.42 416.2,116.5" stroke="#222" stroke-width="0.9" fill="none" stroke-linejoin="round"/>
<path d="M417,116 417,124.92 417.7,124.67 418.4,125.14 419.1,125.22 419.8,124.22 420.5,125.06 421.2,125.01 421.9,124.13 422.6,124.29 423.3,124.3 424,124.26 424.7,124.31 425.4,123.88 426.1,124.06 426.8,125.16 427.5,124.36 428.2,124.72 428.9,125.12 429.6,124.91 430.3,124.09 431,125.17 431.7,124.99 432.4,125.29 433.1,124.86 433.8,124.91 434.5,125 435.2,124.11 435.9,124.75 436.6,124.31 437.3,125.04 438,123.91 438.7,124.56 439.4,124.24 440.1,125.01 440.8,124.25 441.5,125.05 442.2,125.06 442.9,125.11 443.6,123.92 444.3,125.2 445,124.89 445.7,124.78 446.4,124.74 447.1,123.78 447.8,125.09 448.5,124.58 449.2,124.43 449.9,124.24 450.6,124.95 451.3,124.95 452,125.09 452.7,124.04 453.4,124.24 454.1,124.1 454.8,123.86 455.5,124.22 456.2,123.74 456.9,124.97 457.6,124.06 458.3,123.81 459,123.81 459.7,124.89 460.4,124.02 461.1,124.44 461.8,124.34 462.5,124.98 463.2,125.23 463.9,124.2 464.6,124.71 465.3,125.13 466,124.45 466.7,125.14 467.4,124.87 468.1,124.2 468.8,125.1 469.5,124.62 470.2,123.87 470.9,124.64 471.6,125.03 472.3,124.53 473,124.47 473.7,124.37 474.4,125.11 475.1,124.76 475.8,124.03 476.5,124.28 477.2,124.28 477.9,125.23 478.6,124.81 479.3,123.9 480,125.16 480.7,123.76 481.4,124.65 482.1,124.39 482.8,124.85 483.5,124.39 484.2,123.85 484.9,124.54 485.6,125.01 486.3,124.96 487,124.27 487.7,124.06 488.4,124.89 489.1,124.98 489.8,124.05 490.5,125.11 491.2,125.29 491.9,124.39 492.6,124.31 493.3,124.84 494,125.19 494.7,124.02 495.4,124.18 496.1,124.23 496.8,124.87 497.5,124 497.8,116Z" fill="#b4b4b4" stroke="none"/>
<line x1="418" y1="116" x2="418" y2="124.68" stroke="#7a7a7a" stroke-width="0.9"/>
<line x1="420.5" y1="116" x2="420.5" y2="124.9" stroke="#7a7a7a" stroke-width="0.9"/>
<line x1="422.71" y1="116" x2="422.71" y2="125.42" stroke="#7a7a7a" stroke-width="0.9"/>
<line x1="425.61" y1="116" x2="425.61" y2="124.71" stroke="#7a7a7a" stroke-width="0.9"/>
<line x1="428.35" y1="116" x2="428.35" y2="124.03" stroke="#7a7a7a" stroke-width="0.9"/>
<line x1="431.18" y1="116" x2="431.18" y2="124.69" stroke="#7a7a7a" stroke-width="0.9"/>
<line x1="433.89" y1="116" x2="433.89" y2="125.26" stroke="#7a7a7a" stroke-width="0.9"/>
<line x1="436.28" y1="116" x2="436.28" y2="125.36" stroke="#7a7a7a" stroke-width="0.9"/>
<line x1="438.54" y1="116" x2="438.54" y2="123.74" stroke="#7a7a7a" stroke-width="0.9"/>
<line x1="441.04" y1="116" x2="441.04" y2="125.32" stroke="#7a7a7a" stroke-width="0.9"/>
<line x1="443.86" y1="116" x2="443.86" y2="125.42" stroke="#7a7a7a" stroke-width="0.9"/>
<line x1="446.37" y1="116" x2="446.37" y2="125.38" stroke="#7a7a7a" stroke-width="0.9"/>
<line x1="448.92" y1="116" x2="448.92" y2="123.96" stroke="#7a7a7a" stroke-width="0.9"/>
<line x1="451.53" y1="116" x2="451.53" y2="125.15" stroke="#7a7a7a" stroke-width="0.9"/>
<line x1="453.96" y1="116" x2="453.96" y2="124.78" stroke="#7a7a7a" stroke-width="0.9"/>
<line x1="456.27" y1="116" x2="456.27" y2="124.2" stroke="#7a7a7a" stroke-width="0.9"/>
<line x1="458.71" y1="116" x2="458.71" y2="124.62" stroke="#7a7a7a" stroke-width="0.9"/>
<line x1="461.18" y1="116" x2="461.18" y2="123.87" stroke="#7a7a7a" stroke-width="0.9"/>
<line x1="463.29" y1="116" x2="463.29" y2="124.31" stroke="#7a7a7a" stroke-width="0.9"/>
<line x1="465.96" y1="116" x2="465.96" y2="125.05" stroke="#7a7a7a" stroke-width="0.9"/>
<line x1="468.25" y1="116" x2="468.25" y2="124.16" stroke="#7a7a7a" stroke-width="0.9"/>
<line x1="470.76" y1="116" x2="470.76" y2="124.02" stroke="#7a7a7a" stroke-width="0.9"/>
<line x1="473.35" y1="116" x2="473.35" y2="125.33" stroke="#7a7a7a" stroke-width="0.9"/>
<line x1="475.61" y1="116" x2="475.61" y2="124.75" stroke="#7a7a7a" stroke-width="0.9"/>
<line x1="478.28" y1="116" x2="478.28" y2="125.05" stroke="#7a7a7a" stroke-width="0.9"/>
<line x1="480.95" y1="116" x2="480.95" y2="124.98" stroke="#7a7a7a" stroke-width="0.9"/>
<line x1="483.27" y1="116" x2="483.27" y2="125.21" stroke="#7a7a7a" stroke-width="0.9"/>
<line x1="486.11" y1="116" x2="486.11" y2="123.79" stroke="#7a7a7a" stroke-width="0.9"/>
<line x1="488.97" y1="116" x2="488.97" y2="124.5" stroke="#7a7a7a" stroke-width="0.9"/>
<line x1="491.14" y1="116" x2="491.14" y2="123.83" stroke="#7a7a7a" stroke-width="0.9"/>
<line x1="493.87" y1="116" x2="493.87" y2="124.92" stroke="#7a7a7a" stroke-width="0.9"/>
<line x1="496.09" y1="116" x2="496.09" y2="124.53" stroke="#7a7a7a" stroke-width="0.9"/>
<line x1="417.4" y1="116" x2="417.4" y2="40.11" stroke="#313131" stroke-width="0.68"/>
<line x1="417.6" y1="116" x2="417.6" y2="103.78" stroke="#2a2a2a" stroke-width="0.6" stroke-opacity="0.45"/>
<line x1="418.2" y1="116" x2="418.2" y2="37.37" stroke="#535353" stroke-width="0.68"/>
<line x1="418.4" y1="116" x2="418.4" y2="104.82" stroke="#2a2a2a" stroke-width="0.6" stroke-opacity="0.45"/>
<line x1="418.65" y1="116" x2="418.65" y2="37.15" stroke="#292929" stroke-width="0.7"/>
<line x1="418.85" y1="116" x2="418.85" y2="109.57" stroke="#2a2a2a" stroke-width="0.6" stroke-opacity="0.45"/>
<line x1="419.24" y1="116" x2="419.24" y2="37.05" stroke="#2e2e2e" stroke-width="0.58"/>
<line x1="419.44" y1="116" x2="419.44" y2="106.2" stroke="#2a2a2a" stroke-width="0.6" stroke-opacity="0.45"/>
<line x1="419.76" y1="116" x2="419.76" y2="40.12" stroke="#3b3b3b" stroke-width="0.71"/>
<line x1="419.96" y1="116" x2="419.96" y2="108.23" stroke="#2a2a2a" stroke-width="0.6" stroke-opacity="0.45"/>
<line x1="420.32" y1="116" x2="420.32" y2="38.34" stroke="#3c3c3c" stroke-width="0.57"/>
<line x1="420.52" y1="116" x2="420.52" y2="109.31" stroke="#2a2a2a" stroke-width="0.6" stroke-opacity="0.45"/>
<line x1="420.66" y1="116" x2="420.66" y2="39.18" stroke="#202020" stroke-width="0.68"/>
<line x1="420.86" y1="116" x2="420.86" y2="107.46" stroke="#2a2a2a" stroke-width="0.6" stroke-opacity="0.45"/>
<line x1="421.17" y1="116" x2="421.17" y2="37.95" stroke="#484848" stroke-width="0.88"/>
<line x1="421.37" y1="116" x2="421.37" y2="104.55" stroke="#2a2a2a" stroke-width="0.6" stroke-opacity="0.45"/>
<line x1="421.71" y1="116" x2="421.71" y2="39.71" stroke="#3f3f3f" stroke-width="0.5"/>
<line x1="421.91" y1="116" x2="421.91" y2="102.51" stroke="#2a2a2a" stroke-width="0.6" stroke-opacity="0.45"/>
<line x1="422.37" y1="116" x2="422.37" y2="38.01" stroke="#444444" stroke-width="0.82"/>
<line x1="422.57" y1="116" x2="422.57" y2="104.22" stroke="#2a2a2a" stroke-width="0.6" stroke-opacity="0.45"/>
<line x1="423.15" y1="116" x2="423.15" y2="39" stroke="#454545" stroke-width="0.8"/>
<line x1="423.35" y1="116" x2="423.35" y2="103.65" stroke="#2a2a2a" stroke-width="0.6" stroke-opacity="0.45"/>
<line x1="423.92" y1="116" x2="423.92" y2="37.33" stroke="#525252" stroke-width="0.68"/>
<line x1="424.12" y1="116" x2="424.12" y2="107.73" stroke="#2a2a2a" stroke-width="0.6" stroke-opacity="0.45"/>
<line x1="424.51" y1="116" x2="424.51" y2="37.62" stroke="#8c8c8c" stroke-width="0.75"/>
<line x1="424.71" y1="116" x2="424.71" y2="106.97" stroke="#2a2a2a" stroke-width="0.6" stroke-opacity="0.45"/>
<line x1="424.9" y1="116" x2="424.9" y2="37.26" stroke="#7b7b7b" stroke-width="0.78"/>
<line x1="425.1" y1="116" x2="425.1" y2="102.93" stroke="#2a2a2a" stroke-width="0.6" stroke-opacity="0.45"/>
<line x1="425.42" y1="116" x2="425.42" y2="37.86" stroke="#1d1d1d" stroke-width="0.66"/>
<line x1="425.62" y1="116" x2="425.62" y2="105.68" stroke="#2a2a2a" stroke-width="0.6" stroke-opacity="0.45"/>
<line x1="426.18" y1="116" x2="426.18" y2="39.21" stroke="#313131" stroke-width="0.61"/>
<line x1="426.38" y1="116" x2="426.38" y2="104.9" stroke="#2a2a2a" stroke-width="0.6" stroke-opacity="0.45"/>
<line x1="426.77" y1="116" x2="426.77" y2="40.02" stroke="#4f4f4f" stroke-width="0.67"/>
<line x1="426.97" y1="116" x2="426.97" y2="107.37" stroke="#2a2a2a" stroke-width="0.6" stroke-opacity="0.45"/>
<line x1="427.52" y1="116" x2="427.52" y2="38.91" stroke="#313131" stroke-width="0.63"/>
<line x1="427.72" y1="116" x2="427.72" y2="106.05" stroke="#2a2a2a" stroke-width="0.6" stroke-opacity="0.45"/>
<line x1="428.29" y1="116" x2="428.29" y2="38.36" stroke="#292929" stroke-width="0.53"/>
<line x1="428.49" y1="116" x2="428.49" y2="102.94" stroke="#2a2a2a" stroke-width="0.6" stroke-opacity="0.45"/>
<line x1="428.66" y1="116" x2="428.66" y2="37.84" stroke="#2c2c2c" stroke-width="0.55"/>
<line x1="428.86" y1="116" x2="428.86" y2="101.29" stroke="#2a2a2a" stroke-width="0.6" stroke-opacity="0.45"/>
<line x1="429.42" y1="116" x2="429.42" y2="37.44" stroke="#3f3f3f" stroke-width="0.91"/>
<line x1="429.62" y1="116" x2="429.62" y2="110.1" stroke="#2a2a2a" stroke-width="0.6" stroke-opacity="0.45"/>
<line x1="430.18" y1="116" x2="430.18" y2="38.66" stroke="#4b4b4b" stroke-width="0.72"/>
<line x1="430.38" y1="116" x2="430.38" y2="103.7" stroke="#2a2a2a" stroke-width="0.6" stroke-opacity="0.45"/>
<line x1="430.69" y1="116" x2="430.69" y2="39.39" stroke="#8e8e8e" stroke-width="0.77"/>
<line x1="430.89" y1="116" x2="430.89" y2="101.23" stroke="#2a2a2a" stroke-width="0.6" stroke-opacity="0.45"/>
<line x1="431.01" y1="116" x2="431.01" y2="37.34" stroke="#1d1d1d" stroke-width="0.65"/>
<line x1="431.21" y1="116" x2="431.21" y2="104.06" stroke="#2a2a2a" stroke-width="0.6" stroke-opacity="0.45"/>
<line x1="431.4" y1="116" x2="431.4" y2="38.82" stroke="#282828" stroke-width="0.77"/>
<line x1="431.6" y1="116" x2="431.6" y2="104.28" stroke="#2a2a2a" stroke-width="0.6" stroke-opacity="0.45"/>
<line x1="432.18" y1="116" x2="432.18" y2="38.49" stroke="#afafaf" stroke-width="0.65"/>
<line x1="432.38" y1="116" x2="432.38" y2="106.91" stroke="#2a2a2a" stroke-width="0.6" stroke-opacity="0.45"/>
<line x1="432.7" y1="116" x2="432.7" y2="38.96" stroke="#474747" stroke-width="0.82"/>
<line x1="432.9" y1="116" x2="432.9" y2="109.25" stroke="#2a2a2a" stroke-width="0.6" stroke-opacity="0.45"/>
<line x1="433.09" y1="116" x2="433.09" y2="37.79" stroke="#4b4b4b" stroke-width="0.79"/>
<line x1="433.29" y1="116" x2="433.29" y2="106.54" stroke="#2a2a2a" stroke-width="0.6" stroke-opacity="0.45"/>
<line x1="433.7" y1="116" x2="433.7" y2="40.53" stroke="#bebebe" stroke-width="0.86"/>
<line x1="433.9" y1="116" x2="433.9" y2="105.24" stroke="#2a2a2a" stroke-width="0.6" stroke-opacity="0.45"/>
<line x1="434.23" y1="116" x2="434.23" y2="40.47" stroke="#a3a3a3" stroke-width="0.8"/>
<line x1="434.43" y1="116" x2="434.43" y2="105.89" stroke="#2a2a2a" stroke-width="0.6" stroke-opacity="0.45"/>
<line x1="434.6" y1="116" x2="434.6" y2="37.49" stroke="#bababa" stroke-width="0.56"/>
<line x1="434.8" y1="116" x2="434.8" y2="109.25" stroke="#2a2a2a" stroke-width="0.6" stroke-opacity="0.45"/>
<line x1="435.1" y1="116" x2="435.1" y2="39.83" stroke="#4f4f4f" stroke-width="0.92"/>
<line x1="435.3" y1="116" x2="435.3" y2="103.98" stroke="#2a2a2a" stroke-width="0.6" stroke-opacity="0.45"/>
<line x1="435.86" y1="116" x2="435.86" y2="40.43" stroke="#494949" stroke-width="0.8"/>
<line x1="436.06" y1="116" x2="436.06" y2="105.3" stroke="#2a2a2a" stroke-width="0.6" stroke-opacity="0.45"/>
<line x1="436.53" y1="116" x2="436.53" y2="38.9" stroke="#c2c2c2" stroke-width="0.92"/>
<line x1="436.73" y1="116" x2="436.73" y2="104.85" stroke="#2a2a2a" stroke-width="0.6" stroke-opacity="0.45"/>
<line x1="436.99" y1="116" x2="436.99" y2="38.8" stroke="#555555" stroke-width="0.59"/>
<line x1="437.19" y1="116" x2="437.19" y2="104.36" stroke="#2a2a2a" stroke-width="0.6" stroke-opacity="0.45"/>
<line x1="437.59" y1="116" x2="437.59" y2="37.5" stroke="#a1a1a1" stroke-width="0.64"/>
<line x1="437.79" y1="116" x2="437.79" y2="103.42" stroke="#2a2a2a" stroke-width="0.6" stroke-opacity="0.45"/>
<line x1="438.03" y1="116" x2="438.03" y2="39.71" stroke="#525252" stroke-width="0.75"/>
<line x1="438.23" y1="116" x2="438.23" y2="101.48" stroke="#2a2a2a" stroke-width="0.6" stroke-opacity="0.45"/>
<line x1="438.75" y1="116" x2="438.75" y2="41.11" stroke="#515151" stroke-width="0.84"/>
<line x1="438.95" y1="116" x2="438.95" y2="109.51" stroke="#2a2a2a" stroke-width="0.6" stroke-opacity="0.45"/>
<line x1="439.44" y1="116" x2="439.44" y2="39.65" stroke="#c3c3c3" stroke-width="0.73"/>
<line x1="439.64" y1="116" x2="439.64" y2="103.95" stroke="#2a2a2a" stroke-width="0.6" stroke-opacity="0.45"/>
<line x1="439.74" y1="116" x2="439.74" y2="39.73" stroke="#343434" stroke-width="0.62"/>
<line x1="439.94" y1="116" x2="439.94" y2="109.86" stroke="#2a2a2a" stroke-width="0.6" stroke-opacity="0.45"/>
<line x1="440.47" y1="116" x2="440.47" y2="39.24" stroke="#989898" stroke-width="0.54"/>
<line x1="440.67" y1="116" x2="440.67" y2="106.51" stroke="#2a2a2a" stroke-width="0.6" stroke-opacity="0.45"/>
<line x1="440.96" y1="116" x2="440.96" y2="37.81" stroke="#9e9e9e" stroke-width="0.6"/>
<line x1="441.16" y1="116" x2="441.16" y2="104.46" stroke="#2a2a2a" stroke-width="0.6" stroke-opacity="0.45"/>
<line x1="441.4" y1="116" x2="441.4" y2="39.04" stroke="#b8b8b8" stroke-width="0.95"/>
<line x1="441.6" y1="116" x2="441.6" y2="106.73" stroke="#2a2a2a" stroke-width="0.6" stroke-opacity="0.45"/>
<line x1="442.35" y1="116" x2="442.35" y2="40.68" stroke="#b2b2b2" stroke-width="0.79"/>
<line x1="442.55" y1="116" x2="442.55" y2="107.82" stroke="#2a2a2a" stroke-width="0.6" stroke-opacity="0.45"/>
<line x1="443.4" y1="116" x2="443.4" y2="40.35" stroke="#7d7d7d" stroke-width="0.84"/>
<line x1="443.6" y1="116" x2="443.6" y2="109.55" stroke="#2a2a2a" stroke-width="0.6" stroke-opacity="0.45"/>
<line x1="444.44" y1="116" x2="444.44" y2="38.1" stroke="#bdbdbd" stroke-width="0.83"/>
<line x1="444.64" y1="116" x2="444.64" y2="101.62" stroke="#2a2a2a" stroke-width="0.6" stroke-opacity="0.45"/>
<line x1="445.23" y1="116" x2="445.23" y2="41.02" stroke="#999999" stroke-width="0.87"/>
<line x1="445.43" y1="116" x2="445.43" y2="110.67" stroke="#2a2a2a" stroke-width="0.6" stroke-opacity="0.45"/>
<line x1="446.11" y1="116" x2="446.11" y2="38.33" stroke="#7c7c7c" stroke-width="0.6"/>
<line x1="446.31" y1="116" x2="446.31" y2="104.99" stroke="#2a2a2a" stroke-width="0.6" stroke-opacity="0.45"/>
<line x1="447.31" y1="116" x2="447.31" y2="38.39" stroke="#515151" stroke-width="0.92"/>
<line x1="447.51" y1="116" x2="447.51" y2="109.15" stroke="#2a2a2a" stroke-width="0.6" stroke-opacity="0.45"/>
<line x1="447.92" y1="116" x2="447.92" y2="41.08" stroke="#272727" stroke-width="0.88"/>
<line x1="448.12" y1="116" x2="448.12" y2="108.4" stroke="#2a2a2a" stroke-width="0.6" stroke-opacity="0.45"/>
<line x1="448.55" y1="116" x2="448.55" y2="41.46" stroke="#525252" stroke-width="0.85"/>
<line x1="448.75" y1="116" x2="448.75" y2="108.5" stroke="#2a2a2a" stroke-width="0.6" stroke-opacity="0.45"/>
<line x1="449.78" y1="116" x2="449.78" y2="39.08" stroke="#c6c6c6" stroke-width="0.64"/>
<line x1="449.98" y1="116" x2="449.98" y2="101.06" stroke="#2a2a2a" stroke-width="0.6" stroke-opacity="0.45"/>
<line x1="450.33" y1="116" x2="450.33" y2="39.71" stroke="#b0b0b0" stroke-width="0.6"/>
<line x1="450.53" y1="116" x2="450.53" y2="106.84" stroke="#2a2a2a" stroke-width="0.6" stroke-opacity="0.45"/>
<line x1="451.21" y1="116" x2="451.21" y2="39.52" stroke="#343434" stroke-width="0.6"/>
<line x1="451.41" y1="116" x2="451.41" y2="106.37" stroke="#2a2a2a" stroke-width="0.6" stroke-opacity="0.45"/>
<line x1="452.36" y1="116" x2="452.36" y2="41.96" stroke="#8c8c8c" stroke-width="0.73"/>
<line x1="452.56" y1="116" x2="452.56" y2="109.8" stroke="#2a2a2a" stroke-width="0.6" stroke-opacity="0.45"/>
<line x1="453.12" y1="116" x2="453.12" y2="41.76" stroke="#b4b4b4" stroke-width="0.71"/>
<line x1="453.32" y1="116" x2="453.32" y2="101.67" stroke="#2a2a2a" stroke-width="0.6" stroke-opacity="0.45"/>
<line x1="454.07" y1="116" x2="454.07" y2="38.99" stroke="#c3c3c3" stroke-width="0.65"/>
<line x1="454.27" y1="116" x2="454.27" y2="107.57" stroke="#2a2a2a" stroke-width="0.6" stroke-opacity="0.45"/>
<line x1="454.65" y1="116" x2="454.65" y2="40.05" stroke="#242424" stroke-width="0.72"/>
<line x1="454.85" y1="116" x2="454.85" y2="108.17" stroke="#2a2a2a" stroke-width="0.6" stroke-opacity="0.45"/>
<line x1="455.41" y1="116" x2="455.41" y2="40.83" stroke="#4d4d4d" stroke-width="0.51"/>
<line x1="455.61" y1="116" x2="455.61" y2="108.95" stroke="#2a2a2a" stroke-width="0.6" stroke-opacity="0.45"/>
<line x1="456.01" y1="116" x2="456.01" y2="39.83" stroke="#c0c0c0" stroke-width="0.85"/>
<line x1="456.21" y1="116" x2="456.21" y2="101.62" stroke="#2a2a2a" stroke-width="0.6" stroke-opacity="0.45"/>
<line x1="457.07" y1="116" x2="457.07" y2="40.64" stroke="#919191" stroke-width="0.74"/>
<line x1="457.27" y1="116" x2="457.27" y2="102.37" stroke="#2a2a2a" stroke-width="0.6" stroke-opacity="0.45"/>
<line x1="458.1" y1="116" x2="458.1" y2="40.3" stroke="#9e9e9e" stroke-width="0.63"/>
<line x1="458.3" y1="116" x2="458.3" y2="103.9" stroke="#2a2a2a" stroke-width="0.6" stroke-opacity="0.45"/>
<line x1="459.17" y1="116" x2="459.17" y2="41.22" stroke="#929292" stroke-width="0.75"/>
<line x1="459.37" y1="116" x2="459.37" y2="108.94" stroke="#2a2a2a" stroke-width="0.6" stroke-opacity="0.45"/>
<line x1="460.07" y1="116" x2="460.07" y2="39.62" stroke="#cdcdcd" stroke-width="0.55"/>
<line x1="460.27" y1="116" x2="460.27" y2="108.13" stroke="#2a2a2a" stroke-width="0.6" stroke-opacity="0.45"/>
<line x1="460.66" y1="116" x2="460.66" y2="39.95" stroke="#cdcdcd" stroke-width="0.5"/>
<line x1="460.86" y1="116" x2="460.86" y2="110.51" stroke="#2a2a2a" stroke-width="0.6" stroke-opacity="0.45"/>
<line x1="461.5" y1="116" x2="461.5" y2="42.83" stroke="#404040" stroke-width="0.81"/>
<line x1="461.7" y1="116" x2="461.7" y2="105.85" stroke="#2a2a2a" stroke-width="0.6" stroke-opacity="0.45"/>
<line x1="462.28" y1="116" x2="462.28" y2="41.99" stroke="#8f8f8f" stroke-width="0.51"/>
<line x1="462.48" y1="116" x2="462.48" y2="108.97" stroke="#2a2a2a" stroke-width="0.6" stroke-opacity="0.45"/>
<line x1="462.92" y1="116" x2="462.92" y2="42.49" stroke="#575757" stroke-width="0.55"/>
<line x1="463.12" y1="116" x2="463.12" y2="105.15" stroke="#2a2a2a" stroke-width="0.6" stroke-opacity="0.45"/>
<line x1="464.01" y1="116" x2="464.01" y2="43.06" stroke="#a9a9a9" stroke-width="0.68"/>
<line x1="464.21" y1="116" x2="464.21" y2="104.03" stroke="#2a2a2a" stroke-width="0.6" stroke-opacity="0.45"/>
<line x1="464.57" y1="116" x2="464.57" y2="42.67" stroke="#868686" stroke-width="0.87"/>
<line x1="464.77" y1="116" x2="464.77" y2="102.08" stroke="#2a2a2a" stroke-width="0.6" stroke-opacity="0.45"/>
<line x1="465.48" y1="116" x2="465.48" y2="41.33" stroke="#7a7a7a" stroke-width="0.93"/>
<line x1="465.68" y1="116" x2="465.68" y2="101.06" stroke="#2a2a2a" stroke-width="0.6" stroke-opacity="0.45"/>
<line x1="466.77" y1="116" x2="466.77" y2="42.19" stroke="#8c8c8c" stroke-width="0.67"/>
<line x1="466.97" y1="116" x2="466.97" y2="107.35" stroke="#2a2a2a" stroke-width="0.6" stroke-opacity="0.45"/>
<line x1="467.38" y1="116" x2="467.38" y2="43.32" stroke="#bdbdbd" stroke-width="0.56"/>
<line x1="467.58" y1="116" x2="467.58" y2="109.42" stroke="#2a2a2a" stroke-width="0.6" stroke-opacity="0.45"/>
<line x1="468" y1="116" x2="468" y2="42.21" stroke="#8c8c8c" stroke-width="0.64"/>
<line x1="468.2" y1="116" x2="468.2" y2="105.33" stroke="#2a2a2a" stroke-width="0.6" stroke-opacity="0.45"/>
<line x1="468.57" y1="116" x2="468.57" y2="41.95" stroke="#d8d8d8" stroke-width="0.51"/>
<line x1="468.77" y1="116" x2="468.77" y2="110.42" stroke="#2a2a2a" stroke-width="0.6" stroke-opacity="0.45"/>
<line x1="469.41" y1="116" x2="469.41" y2="41.12" stroke="#969696" stroke-width="0.9"/>
<line x1="469.61" y1="116" x2="469.61" y2="107.43" stroke="#2a2a2a" stroke-width="0.6" stroke-opacity="0.45"/>
<line x1="470.53" y1="116" x2="470.53" y2="43.42" stroke="#aeaeae" stroke-width="0.65"/>
<line x1="470.73" y1="116" x2="470.73" y2="103.35" stroke="#2a2a2a" stroke-width="0.6" stroke-opacity="0.45"/>
<line x1="471.21" y1="116" x2="471.21" y2="42.92" stroke="#b1b1b1" stroke-width="0.94"/>
<line x1="471.41" y1="116" x2="471.41" y2="108.61" stroke="#2a2a2a" stroke-width="0.6" stroke-opacity="0.45"/>
<line x1="471.74" y1="116" x2="471.74" y2="43.91" stroke="#2c2c2c" stroke-width="0.54"/>
<line x1="471.94" y1="116" x2="471.94" y2="107.68" stroke="#2a2a2a" stroke-width="0.6" stroke-opacity="0.45"/>
<line x1="472.31" y1="116" x2="472.31" y2="43" stroke="#9f9f9f" stroke-width="0.53"/>
<line x1="472.51" y1="116" x2="472.51" y2="103.21" stroke="#2a2a2a" stroke-width="0.6" stroke-opacity="0.45"/>
<line x1="473.17" y1="116" x2="473.17" y2="43.25" stroke="#373737" stroke-width="0.65"/>
<line x1="473.37" y1="116" x2="473.37" y2="101.9" stroke="#2a2a2a" stroke-width="0.6" stroke-opacity="0.45"/>
<line x1="474.23" y1="116" x2="474.23" y2="42.48" stroke="#1e1e1e" stroke-width="0.72"/>
<line x1="474.43" y1="116" x2="474.43" y2="101.1" stroke="#2a2a2a" stroke-width="0.6" stroke-opacity="0.45"/>
<line x1="475.74" y1="116" x2="475.74" y2="43.83" stroke="#7f7f7f" stroke-width="0.63"/>
<line x1="475.94" y1="116" x2="475.94" y2="110.6" stroke="#2a2a2a" stroke-width="0.6" stroke-opacity="0.45"/>
<line x1="476.49" y1="116" x2="476.49" y2="43.15" stroke="#909090" stroke-width="0.73"/>
<line x1="476.69" y1="116" x2="476.69" y2="109.32" stroke="#2a2a2a" stroke-width="0.6" stroke-opacity="0.45"/>
<line x1="477.93" y1="116" x2="477.93" y2="43.06" stroke="#838383" stroke-width="0.61"/>
<line x1="478.13" y1="116" x2="478.13" y2="106.33" stroke="#2a2a2a" stroke-width="0.6" stroke-opacity="0.45"/>
<line x1="479.4" y1="116" x2="479.4" y2="44.12" stroke="#363636" stroke-width="0.54"/>
<line x1="479.6" y1="116" x2="479.6" y2="104.13" stroke="#2a2a2a" stroke-width="0.6" stroke-opacity="0.45"/>
<line x1="481.2" y1="116" x2="481.2" y2="43.24" stroke="#cdcdcd" stroke-width="0.65"/>
<line x1="481.4" y1="116" x2="481.4" y2="110.62" stroke="#2a2a2a" stroke-width="0.6" stroke-opacity="0.45"/>
<line x1="482.35" y1="116" x2="482.35" y2="45.28" stroke="#212121" stroke-width="0.53"/>
<line x1="482.55" y1="116" x2="482.55" y2="105.57" stroke="#2a2a2a" stroke-width="0.6" stroke-opacity="0.45"/>
<line x1="484.14" y1="116" x2="484.14" y2="45.88" stroke="#3c3c3c" stroke-width="0.81"/>
<line x1="484.34" y1="116" x2="484.34" y2="108.47" stroke="#2a2a2a" stroke-width="0.6" stroke-opacity="0.45"/>
<line x1="484.95" y1="116" x2="484.95" y2="46.04" stroke="#b1b1b1" stroke-width="0.63"/>
<line x1="485.15" y1="116" x2="485.15" y2="101.66" stroke="#2a2a2a" stroke-width="0.6" stroke-opacity="0.45"/>
<line x1="486.55" y1="116" x2="486.55" y2="44.72" stroke="#3a3a3a" stroke-width="0.7"/>
<line x1="486.75" y1="116" x2="486.75" y2="104.4" stroke="#2a2a2a" stroke-width="0.6" stroke-opacity="0.45"/>
<line x1="487.28" y1="116" x2="487.28" y2="43.83" stroke="#d4d4d4" stroke-width="0.52"/>
<line x1="487.48" y1="116" x2="487.48" y2="103.85" stroke="#2a2a2a" stroke-width="0.6" stroke-opacity="0.45"/>
<line x1="488.86" y1="116" x2="488.86" y2="43.89" stroke="#7e7e7e" stroke-width="0.6"/>
<line x1="489.06" y1="116" x2="489.06" y2="101.52" stroke="#2a2a2a" stroke-width="0.6" stroke-opacity="0.45"/>
<line x1="489.85" y1="116" x2="489.85" y2="44.3" stroke="#acacac" stroke-width="0.82"/>
<line x1="490.05" y1="116" x2="490.05" y2="108.23" stroke="#2a2a2a" stroke-width="0.6" stroke-opacity="0.45"/>
<line x1="491.63" y1="116" x2="491.63" y2="45.64" stroke="#212121" stroke-width="0.74"/>
<line x1="491.83" y1="116" x2="491.83" y2="106.69" stroke="#2a2a2a" stroke-width="0.6" stroke-opacity="0.45"/>
<line x1="492.59" y1="116" x2="492.59" y2="47.54" stroke="#999999" stroke-width="0.82"/>
<line x1="492.79" y1="116" x2="492.79" y2="109.85" stroke="#2a2a2a" stroke-width="0.6" stroke-opacity="0.45"/>
<line x1="493.71" y1="116" x2="493.71" y2="46.95" stroke="#1e1e1e" stroke-width="0.89"/>
<line x1="493.91" y1="116" x2="493.91" y2="110.16" stroke="#2a2a2a" stroke-width="0.6" stroke-opacity="0.45"/>
<line x1="494.74" y1="116" x2="494.74" y2="46.89" stroke="#d7d7d7" stroke-width="0.85"/>
<line x1="494.94" y1="116" x2="494.94" y2="102.35" stroke="#2a2a2a" stroke-width="0.6" stroke-opacity="0.45"/>
<line x1="496.09" y1="116" x2="496.09" y2="48.57" stroke="#c0c0c0" stroke-width="0.74"/>
<line x1="496.29" y1="116" x2="496.29" y2="107.89" stroke="#2a2a2a" stroke-width="0.6" stroke-opacity="0.45"/>
<line x1="497.01" y1="116" x2="497.01" y2="47.93" stroke="#a5a5a5" stroke-width="0.73"/>
<line x1="497.21" y1="116" x2="497.21" y2="105.12" stroke="#2a2a2a" stroke-width="0.6" stroke-opacity="0.45"/>
<path d="M417,115.78 417.35,115.6 417.7,116.36 418.05,115.01 418.4,115.32 418.75,115.13 419.1,114.91 419.45,114.72 419.8,115.1 420.15,115.46 420.5,114.49 420.85,115.52 421.2,114.9 421.55,115.62 421.9,117.27 422.25,115.55 422.6,115.79 422.95,115.69 423.3,116.41 423.65,115.55 424,114.45 424.35,114.26 424.7,115.29 425.05,115.49 425.4,116.02 425.75,115.1 426.1,115.71 426.45,114.78 426.8,116.18 427.15,115.66 427.5,115.26 427.85,115.8 428.2,116.96 428.55,115.57 428.9,115.04 429.25,115.05 429.6,114.91 429.95,115.52 430.3,115.81 430.65,115.46 431,115.54 431.35,116.14 431.7,115.28 432.05,114.49 432.4,113.7 432.75,115.22 433.1,115 433.45,115.32 433.8,115.89 434.15,116.11 434.5,114.91 434.85,115.09 435.2,115.79 435.55,115.76 435.9,116.52 436.25,115.55 436.6,114.27 436.95,116 437.3,114.47 437.65,114.54 438,115.4 438.35,114.64 438.7,116.79 439.05,115.84 439.4,115.91 439.75,115.39 440.1,117.06 440.45,116.4 440.8,115.51 441.15,116.63 441.5,114.96 441.85,115.31 442.2,115.88 442.55,115.82 442.9,115.03 443.25,116.41 443.6,116.54 443.95,114.98 444.3,115.47 444.65,114.93 445,114.98 445.35,115.96 445.7,115.67 446.05,115.55 446.4,115.75 446.75,115.04 447.1,116.49 447.45,115.54 447.8,116.66 448.15,115.73 448.5,115.48 448.85,116.6 449.2,115.91 449.55,115.16 449.9,115.01 450.25,115.65 450.6,116.57 450.95,115.95 451.3,115.21 451.65,114.66 452,114.91 452.35,115.4 452.7,115.81 453.05,115.39 453.4,116.59 453.75,115.43 454.1,115.35 454.45,116.07 454.8,116.15 455.15,115.53 455.5,116.19 455.85,114.72 456.2,116.3 456.55,116.92 456.9,116.87 457.25,115.69 457.6,116.67 457.95,115.7 458.3,116.4 458.65,115.65 459,115.83 459.35,116.15 459.7,114.81 460.05,115.55 460.4,116.93 460.75,114.2 461.1,115.71 461.45,116.28 461.8,115.93 462.15,115.69 462.5,116.34 462.85,115.74 463.2,114.17 463.55,114.47 463.9,114.98 464.25,115.43 464.6,115.21 464.95,115.47 465.3,116.74 465.65,114.12 466,116.26 466.35,116.58 466.7,116.42 467.05,115.97 467.4,115.86 467.75,115.95 468.1,115.8 468.45,115.07 468.8,115.82 469.15,114.89 469.5,115.19 469.85,115.05 470.2,114.55 470.55,115.64 470.9,115.5 471.25,114.86 471.6,115.51 471.95,114.87 472.3,116.59 472.65,116.37 473,117.26 473.35,115.77 473.7,116.22 474.05,115.17 474.4,114.94 474.75,115.3 475.1,115.63 475.45,115.97 475.8,115.26 476.15,116 476.5,116.1 476.85,115.01 477.2,115.31 477.55,114.98 477.9,116.67 478.25,115.64 478.6,116.4 478.95,116.59 479.3,115.87 479.65,115.54 480,115.94 480.35,115.23 480.7,114.69 481.05,114.69 481.4,115.46 481.75,115.47 482.1,116.45 482.45,114.37 482.8,115.48 483.15,114.71 483.5,116.1 483.85,116.18 484.2,115.91 484.55,116.78 484.9,115.82 485.25,115.55 485.6,115.15 485.95,115.29 486.3,115.74 486.65,116.11 487,116.48 487.35,115.49 487.7,114.93 488.05,115.03 488.4,114.97 488.75,114.94 489.1,115.02 489.45,114.8 489.8,115.36 490.15,115.26 490.5,115.54 490.85,114.89 491.2,115.78 491.55,116.24 491.9,116.37 492.25,115.6 492.6,115 492.95,114.7 493.3,114.64 493.65,114.88 494,115.07 494.35,114.14 494.7,115.49 495.05,114.37 495.4,114.73 495.75,114.84 496.1,115.93 496.45,116.87 496.8,115.75 497.15,115.64 497.5,115.59" stroke="#111" stroke-width="1.2" fill="none" stroke-linejoin="round"/>
<line x1="497.4" y1="122.4" x2="505.4" y2="110.3" stroke="#222" stroke-width="1.1"/>
<line x1="500.6" y1="123.4" x2="508.6" y2="111.2" stroke="#222" stroke-width="1.1"/>
<path d="M508.3,117.4 508.3,126.08 509,125.15 509.7,126.59 510.4,126.66 511.1,126.26 511.8,125.53 512.5,126.45 513.2,125.38 513.9,126.42 514.6,125.93 515.3,125.13 516,126.52 516.7,125.8 517.4,126.43 518.1,126.2 518.8,125.95 519.5,126.48 520.2,125.42 520.9,126.54 521.6,125.64 522.3,125.14 523,125.64 523.7,125.21 524.4,125.22 525.1,126.1 525.8,125.29 526.5,125.36 527.2,125.57 527.9,125.55 528.6,126.57 529.3,126.55 530,126.49 530.7,126.68 531.4,125.8 532.1,126.37 532.8,125.55 533.5,126.58 534.2,126.4 534.9,126.27 535.6,125.46 536.3,125.25 537,126.58 537.7,125.98 538.4,126.08 539.1,126.48 539.8,125.33 540.5,126.22 541.2,125.84 541.9,126.36 542.6,125.83 543.3,125.41 544,126.63 544.7,125.55 545.4,126.29 545.5,117.4Z" fill="#b4b4b4" stroke="none"/>
<line x1="509.3" y1="117.4" x2="509.3" y2="126.6" stroke="#7a7a7a" stroke-width="0.9"/>
<line x1="512.1" y1="117.4" x2="512.1" y2="126.35" stroke="#7a7a7a" stroke-width="0.9"/>
<line x1="515.02" y1="117.4" x2="515.02" y2="125.5" stroke="#7a7a7a" stroke-width="0.9"/>
<line x1="517.79" y1="117.4" x2="517.79" y2="126.82" stroke="#7a7a7a" stroke-width="0.9"/>
<line x1="520.68" y1="117.4" x2="520.68" y2="126.02" stroke="#7a7a7a" stroke-width="0.9"/>
<line x1="523.68" y1="117.4" x2="523.68" y2="125.15" stroke="#7a7a7a" stroke-width="0.9"/>
<line x1="526.89" y1="117.4" x2="526.89" y2="126.44" stroke="#7a7a7a" stroke-width="0.9"/>
<line x1="530.19" y1="117.4" x2="530.19" y2="125.74" stroke="#7a7a7a" stroke-width="0.9"/>
<line x1="532.96" y1="117.4" x2="532.96" y2="125.73" stroke="#7a7a7a" stroke-width="0.9"/>
<line x1="536.14" y1="117.4" x2="536.14" y2="126.28" stroke="#7a7a7a" stroke-width="0.9"/>
<line x1="539.07" y1="117.4" x2="539.07" y2="126.04" stroke="#7a7a7a" stroke-width="0.9"/>
<line x1="541.79" y1="117.4" x2="541.79" y2="126.75" stroke="#7a7a7a" stroke-width="0.9"/>
<line x1="544.77" y1="117.4" x2="544.77" y2="126.01" stroke="#7a7a7a" stroke-width="0.9"/>
<line x1="510" y1="117" x2="510" y2="44.68" stroke="#818181" stroke-width="0.84"/>
<line x1="511.96" y1="117" x2="511.96" y2="45.38" stroke="#c0c0c0" stroke-width="0.88"/>
<line x1="514.86" y1="117" x2="514.86" y2="44.61" stroke="#858585" stroke-width="0.95"/>
<line x1="517.09" y1="117" x2="517.09" y2="45.61" stroke="#a7a7a7" stroke-width="0.77"/>
<line x1="520.15" y1="117" x2="520.15" y2="44.83" stroke="#a7a7a7" stroke-width="0.64"/>
<line x1="521.92" y1="117" x2="521.92" y2="44.93" stroke="#a4a4a4" stroke-width="0.96"/>
<line x1="524.02" y1="117" x2="524.02" y2="45.16" stroke="#989898" stroke-width="0.95"/>
<line x1="526.77" y1="117" x2="526.77" y2="45.44" stroke="#a1a1a1" stroke-width="0.64"/>
<line x1="529.23" y1="117" x2="529.23" y2="46.52" stroke="#b9b9b9" stroke-width="0.66"/>
<line x1="531.51" y1="117" x2="531.51" y2="46.2" stroke="#bbbbbb" stroke-width="0.78"/>
<line x1="534.15" y1="117" x2="534.15" y2="46.3" stroke="#b0b0b0" stroke-width="0.64"/>
<line x1="536.15" y1="117" x2="536.15" y2="46.38" stroke="#898989" stroke-width="0.96"/>
<line x1="538.53" y1="117" x2="538.53" y2="46" stroke="#b8b8b8" stroke-width="0.77"/>
<line x1="540.14" y1="117" x2="540.14" y2="46.96" stroke="#979797" stroke-width="0.84"/>
<line x1="543.17" y1="117" x2="543.17" y2="46.44" stroke="#b9b9b9" stroke-width="0.74"/>
<path d="M508.3,117.6 508.7,117.65 509.1,117.44 509.5,117.1 509.9,116.92 510.3,117.28 510.7,117.37 511.1,116.41 511.5,117.33 511.9,117.3 512.3,117.31 512.7,116.93 513.1,117.07 513.5,117.33 513.9,117.26 514.3,116.8 514.7,116.94 515.1,116.99 515.5,117.26 515.9,116.93 516.3,117.02 516.7,117.87 517.1,116.66 517.5,117.26 517.9,117.21 518.3,116.91 518.7,116.97 519.1,116.53 519.5,116.77 519.9,116.94 520.3,117.04 520.7,117.4 521.1,116.96 521.5,117.37 521.9,116.81 522.3,116.52 522.7,116.93 523.1,117.41 523.5,116.56 523.9,116.35 524.3,116.8 524.7,116.31 525.1,116.35 525.5,116.54 525.9,116.88 526.3,116.63 526.7,117.32 527.1,116.29 527.5,116.91 527.9,116.71 528.3,117.19 528.7,117.15 529.1,117.91 529.5,117.01 529.9,117.5 530.3,117.14 530.7,117.51 531.1,117.59 531.5,117.54 531.9,116.9 532.3,117.29 532.7,117.11 533.1,116.79 533.5,116.95 533.9,117.26 534.3,117.8 534.7,117.56 535.1,116.85 535.5,116.31 535.9,116.06 536.3,116.98 536.7,117.32 537.1,117.45 537.5,117.14 537.9,116.55 538.3,117.32 538.7,116.79 539.1,116.9 539.5,117.09 539.9,117.08 540.3,117.13 540.7,117.1 541.1,116.82 541.5,117.66 541.9,117.1 542.3,116.8 542.7,117.45 543.1,117.46 543.5,117.49 543.9,117.14 544.3,117.21 544.7,116.14 545.1,116.58 545.5,116.32" stroke="#111" stroke-width="1.2" fill="none" stroke-linejoin="round"/>
<path d="M547,131.9 547,140.12 547.7,140.28 548.4,140.53 549.1,139.29 549.8,139.84 550.5,139.88 551.2,139.81 551.9,139.27 552.6,140.58 553.3,139.71 554,139.42 554.7,139.87 555.4,140.24 556.1,139.71 556.8,139.93 557.5,139.99 558.2,140.43 558.9,140.04 559.6,140.14 560.3,139.52 561,140.58 561.7,139.35 562.4,139.72 563.1,140.08 563.8,139.68 564.5,140.07 565.2,139.37 565.9,139.34 566.6,139.54 567.3,140.44 568,139.3 568.7,139.13 569.4,139.23 570.1,140.08 570.8,140.16 571.5,140.36 572.2,140.56 572.9,139.8 573.6,140.32 574.3,139.26 575,140.38 575.7,139.75 576.4,139.91 577.1,140.41 577.8,140.4 578.5,139.68 579.2,140.38 579.9,139.24 580.6,139.14 581.3,139.91 582,140.12 582.7,140.4 583.4,139.98 584.1,140.07 584.8,139.21 585.5,139.56 586.2,140.65 586.9,139.81 587.6,140.04 588.3,139.6 589,140.64 589.7,140 590.4,140.66 591.1,139.97 591.8,140.15 592.5,139.59 593.2,139.19 593.9,139.28 594,131.9Z" fill="#b4b4b4" stroke="none"/>
<line x1="548" y1="131.9" x2="548" y2="139.87" stroke="#7a7a7a" stroke-width="0.9"/>
<line x1="551.36" y1="131.9" x2="551.36" y2="139.49" stroke="#7a7a7a" stroke-width="0.9"/>
<line x1="554.93" y1="131.9" x2="554.93" y2="140.65" stroke="#7a7a7a" stroke-width="0.9"/>
<line x1="558.37" y1="131.9" x2="558.37" y2="139.62" stroke="#7a7a7a" stroke-width="0.9"/>
<line x1="561.73" y1="131.9" x2="561.73" y2="139.14" stroke="#7a7a7a" stroke-width="0.9"/>
<line x1="565" y1="131.9" x2="565" y2="139.69" stroke="#7a7a7a" stroke-width="0.9"/>
<line x1="568.34" y1="131.9" x2="568.34" y2="140.25" stroke="#7a7a7a" stroke-width="0.9"/>
<line x1="571.64" y1="131.9" x2="571.64" y2="139.27" stroke="#7a7a7a" stroke-width="0.9"/>
<line x1="574.96" y1="131.9" x2="574.96" y2="139.71" stroke="#7a7a7a" stroke-width="0.9"/>
<line x1="578.15" y1="131.9" x2="578.15" y2="139.67" stroke="#7a7a7a" stroke-width="0.9"/>
<line x1="581.72" y1="131.9" x2="581.72" y2="139.62" stroke="#7a7a7a" stroke-width="0.9"/>
<line x1="584.86" y1="131.9" x2="584.86" y2="139.55" stroke="#7a7a7a" stroke-width="0.9"/>
<line x1="588.49" y1="131.9" x2="588.49" y2="140.02" stroke="#7a7a7a" stroke-width="0.9"/>
<line x1="591.87" y1="131.9" x2="591.87" y2="140.18" stroke="#7a7a7a" stroke-width="0.9"/>
<path d="M545.5,117.2 546.3,120 547,129.5 548,131.5 548.5,131.44 548.9,131.85 549.3,132.47 549.7,131.77 550.1,131.85 550.5,131.64 550.9,131.58 551.3,131.68 551.7,131.79 552.1,131.74 552.5,131.76 552.9,132.33 553.3,131.62 553.7,132.16 554.1,132.23 554.5,131.78 554.9,132.03 555.3,132.32 555.7,131.76 556.1,132.39 556.5,132.18 556.9,132.37 557.3,131.61 557.7,131.68 558.1,132.46 558.5,131.46 558.9,131.28 559.3,131.98 559.7,132.03 560.1,132.36 560.5,131.08 560.9,131.22 561.3,131.51 561.7,132.21 562.1,131.64 562.5,131.96 562.9,131.7 563.3,131.89 563.7,131.51 564.1,131.69 564.5,131.68 564.9,131.73 565.3,132.24 565.7,132.19 566.1,132.32 566.5,132.16 566.9,132.06 567.3,132.17 567.7,132.06 568.1,131.15 568.5,131.3 568.9,131.73 569.3,130.97 569.7,130.95 570.1,131.72 570.5,131.63 570.9,131.54 571.3,131.66 571.7,132.39 572.1,132.37 572.5,131.58 572.9,131.66 573.3,132.04 573.7,131.55 574.1,132 574.5,132.21 574.9,132.56 575.3,131.94 575.7,132.13 576.1,131.84 576.5,132.02 576.9,131.98 577.3,132.6 577.7,131.62 578.1,131.82 578.5,132.19 578.9,131.46 579.3,131.88 579.7,131.86 580.1,131.67 580.5,132.09 580.9,131.77 581.3,131.82 581.7,132.27 582.1,131.59 582.5,131.82 582.9,131.73 583.3,131.65 583.7,131.52 584.1,131.79 584.5,132.23 584.9,132.09 585.3,132.55 585.7,132.16 586.1,131.95 586.5,131.38 586.9,131.35 587.3,131.33 587.7,131.96 588.1,131.58 588.5,131.95 588.9,132.13 589.3,132.21 589.7,131.68 590.1,131.65 590.5,131.93 590.9,132.69 591.3,132.6 591.7,132.16 592.1,131.4 592.5,131.49 592.9,132.03 593.3,131.97 593.7,132.12" stroke="#111" stroke-width="1.1" fill="none" stroke-linejoin="round"/>
<text x="599.3" y="7.5" font-weight="bold" font-size="9.4" stroke="#231f20" stroke-width="0.25" transform="matrix(1.2 0 0 1 -119.86 0)">e</text>
<text x="642.2" y="13.95" transform="matrix(0.93 0 0 1 44.95 0)"><tspan font-style="italic">P</tspan> = 0.02</text>
<line x1="642" y1="15.5" x2="672" y2="15.5" stroke="#b0b0b0" stroke-width="1.3"/>
<line x1="626.5" y1="23.3" x2="626.5" y2="121.6" stroke="#8a8a8a" stroke-width="0.7"/>
<line x1="626.4" y1="23.5" x2="628.6" y2="23.5" stroke="#8a8a8a" stroke-width="0.6"/>
<text x="622.8" y="26.65" text-anchor="end" transform="matrix(0.93 0 0 1 43.6 0)">1.5</text>
<line x1="626.4" y1="56.5" x2="628.6" y2="56.5" stroke="#8a8a8a" stroke-width="0.6"/>
<text x="622.8" y="59.35" text-anchor="end" transform="matrix(0.93 0 0 1 43.6 0)">1.0</text>
<line x1="626.4" y1="88.5" x2="628.6" y2="88.5" stroke="#8a8a8a" stroke-width="0.6"/>
<text x="622.8" y="92.05" text-anchor="end" transform="matrix(0.93 0 0 1 43.6 0)">0.5</text>
<line x1="626.4" y1="121.5" x2="628.6" y2="121.5" stroke="#8a8a8a" stroke-width="0.6"/>
<text x="622.8" y="124.75" text-anchor="end" transform="matrix(0.93 0 0 1 43.6 0)">0</text>
<text x="603" y="74.95" text-anchor="middle" transform="rotate(-90 603 71.8) matrix(0.93 0 0 1 42.21 0)">Rheobase (fold change)</text>
<line x1="642.5" y1="77.5" x2="642.5" y2="84.6" stroke="#000" stroke-width="0.8"/>
<line x1="640.6" y1="77.5" x2="643.4" y2="77.5" stroke="#000" stroke-width="0.8"/>
<line x1="640.6" y1="84.5" x2="643.4" y2="84.5" stroke="#000" stroke-width="0.8"/>
<rect x="634.2" y="84.6" width="15.6" height="37" fill="#000" stroke="none" stroke-width="0.7"/>
<line x1="670.5" y1="42.6" x2="670.5" y2="49.4" stroke="#000" stroke-width="0.8"/>
<line x1="668.6" y1="42.5" x2="671.4" y2="42.5" stroke="#000" stroke-width="0.8"/>
<line x1="668.6" y1="49.5" x2="671.4" y2="49.5" stroke="#000" stroke-width="0.8"/>
<rect x="662.9" y="49.6" width="14.4" height="71.8" fill="#fff" stroke="#000" stroke-width="0.9"/>
<circle cx="642" cy="56.2" r="2" fill="#000" stroke="none" stroke-width="0.7"/>
<circle cx="642" cy="64" r="2" fill="#000" stroke="none" stroke-width="0.7"/>
<circle cx="642" cy="66" r="2" fill="#000" stroke="none" stroke-width="0.7"/>
<circle cx="642" cy="68" r="2" fill="#000" stroke="none" stroke-width="0.7"/>
<circle cx="642" cy="69.4" r="2" fill="#000" stroke="none" stroke-width="0.7"/>
<circle cx="642" cy="88.9" r="1.7" fill="none" stroke="#fff" stroke-width="0.7"/>
<circle cx="642" cy="95.5" r="1.7" fill="none" stroke="#fff" stroke-width="0.7"/>
<circle cx="640.6" cy="108.5" r="1.7" fill="none" stroke="#fff" stroke-width="0.7"/>
<circle cx="643.4" cy="108.5" r="1.7" fill="none" stroke="#fff" stroke-width="0.7"/>
<circle cx="670" cy="23.5" r="1.8" fill="#fff" stroke="#000" stroke-width="0.7"/>
<circle cx="670" cy="39.6" r="1.8" fill="#fff" stroke="#000" stroke-width="0.7"/>
<circle cx="670" cy="56.1" r="1.8" fill="#fff" stroke="#000" stroke-width="0.7"/>
<circle cx="670" cy="80.7" r="1.8" fill="#fff" stroke="#000" stroke-width="0.7"/>
<text x="632" y="131.85" transform="matrix(0.93 0 0 1 44.24 0)">Coca-</text>
<text x="632" y="141.15" transform="matrix(0.93 0 0 1 44.24 0)">5HT3</text>
<text x="656.8" y="131.85" transform="matrix(0.93 0 0 1 45.98 0)">Control</text>
<line x1="625.2" y1="144.5" x2="685" y2="144.5" stroke="#231f20" stroke-width="0.7"/>
<line x1="626.4" y1="121.5" x2="685" y2="121.5" stroke="#8a8a8a" stroke-width="0.7"/>
<text x="654.2" y="153.85" text-anchor="middle" transform="matrix(0.93 0 0 1 45.79 0)">3 µM cocaine</text>
<text x="2.8" y="178" font-weight="bold" font-size="9.4" stroke="#231f20" stroke-width="0.25" transform="matrix(1.2 0 0 1 -0.56 0)">f</text>
<text x="42.6" y="178.95" transform="matrix(0.93 0 0 1 2.98 0)">Cocaine</text>
<line x1="14.5" y1="183.5" x2="98.8" y2="183.5" stroke="#333" stroke-width="0.8"/>
<path d="M7.2,190.47 7.55,189.52 7.9,190.2 8.25,190.21 8.6,189.51 8.95,189.83 9.3,190.57 9.65,190.86 10,189.84 10.35,189.86 10.7,190.1 11.05,190.24 11.4,190.12 11.75,190.15 12.1,190.3 12.45,190.83 12.8,190.48 13.15,189.71 13.5,189.62 13.85,190.56 14.2,190.47 14.55,190.51 14.9,189.76 15.25,190.2 15.33,190.2 15.41,190.2 15.49,190.2 15.57,190.21 15.65,190.21 15.73,190.22 15.81,190.23 15.89,190.24 15.97,190.25 16.05,190.26 16.13,190.28 16.21,190.29 16.29,190.31 16.37,190.32 16.45,190.34 16.53,190.36 16.61,190.38 16.69,190.4 16.77,190.42 16.85,190.44 16.93,190.46 17.01,190.48 17.09,190.51 17.17,190.53 17.25,190.55 17.33,190.58 17.41,190.6 17.49,190.62 17.57,190.55 17.92,190.34 18.27,192.18 18.62,192.14 18.97,191.83 19.32,191.18 19.67,190.61 20.02,192.11 20.37,190.95 20.72,191.23 21.07,191.39 21.42,191.68 21.77,191.11 22.12,190.57 22.47,191.12 22.82,191.44 23.17,190.41 23.52,190.7 23.87,191.22 24.22,191.61 24.57,190.68 24.92,191.16 25.27,191.41 25.62,190.96 25.97,191.33 26.32,191.72 26.67,190.94 27.02,191.23 27.37,191.49 27.72,191.48 28.07,192.61 28.42,192.29 28.77,191.35 29.12,191.78 29.47,191.17 29.82,191.09 30.17,192.07 30.52,191.59 30.87,192.06 31.22,190.39 31.57,191.48 31.92,190.84 32.27,191.72 32.62,191.04 32.97,191.91 33.32,191.15 33.67,191.43 34.02,190.73 34.37,192.42 34.72,192.16 35.07,192.18 35.42,191.72 35.77,192.44 36.12,192.32 36.47,191.77 36.82,191.38 37.17,192.39 37.52,191.79 37.87,192.06 38.22,192.86 38.57,192 38.92,192.1 39.27,192.5 39.62,192.32 39.97,191.24 40.32,192.08 40.67,191.52 41.02,192.19 41.37,192.07 41.72,192.1 42.07,191.72 42.42,192.71 42.77,191.67 43.12,191.87 43.47,192.89 43.82,192.72 44.17,192.17 44.52,192 44.87,191.84 45.22,192.26 45.57,193.41 45.92,192.76 46.27,192.51 46.62,192.38 46.97,192.86 47.32,193.25 47.67,192.75 48.02,193.53 48.37,193.8 48.72,192.98 49.07,192.33 49.42,192.52 49.77,193.57 50.12,192.88 50.47,192.13 50.82,192.7 51.17,192.33 51.52,192.04 51.87,192.5 52.22,191.45 52.57,191.64 52.92,192.67 53.27,191.51 53.62,191.82 53.97,190.78 54.32,191.45 54.67,190.82 55.02,191.66 55.37,192.63 55.72,191.86 56.07,192.03 56.42,192.11 56.77,191.26 57.12,191.15 57.47,190.98 57.82,191.61 58.17,192.05 58.52,192.66 58.87,192.57 59.22,192.37 59.57,192.85 59.92,192.14 60.27,192.46 60.62,191.82 60.97,191.84 61.32,191.73 61.67,192.75 62.02,191.9 62.37,191.67 62.72,191.66 63.07,191.84 63.42,191.69 63.77,192.65 64.12,191.87 64.47,191.64 64.82,190.54 65.17,191.2 65.52,191.68 65.87,191.71 66.22,191.23 66.57,192.37 66.92,191.64 67.27,191.25 67.62,191.54 67.97,191.13 68.32,191.47 68.67,191.16 69.02,192.26 69.37,192.15 69.72,192.17 70.07,192.77 70.42,193.93 70.77,193.83 71.12,193.35 71.47,193.49 71.82,192.59 72.17,192.64 72.52,193.53 72.87,192.8 73.22,192.74 73.57,192.14 73.92,192.76 74.27,191.98 74.62,191.8 74.97,191.56 75.32,191.72 75.67,191.38 76.02,190.4 76.37,191.23 76.72,190.73 77.07,190.74 77.42,190.28 77.77,190.12 78.12,189.63 78.47,190.34 78.82,189.71 79.17,190.5 79.52,190.32 79.87,189.72 80.22,190.07 80.57,190.54 80.92,190.1 81.27,191.66 81.62,190.44 81.97,191.15 82.32,190.92 82.67,191.36 83.02,192.01 83.37,192.48 83.72,192.23 84.07,191.98 84.42,192.43 84.77,192.62 85.12,192.49 85.47,192.98 85.82,191.7 86.17,192.66 86.52,191.82 86.87,192.32 87.22,191.86 87.57,192.8 87.92,192.61 88.27,191.88 88.62,191.54 88.97,192.56 89.32,192.03 89.67,192.87 90.02,192.7 90.37,192.35 90.72,193.68 91.07,192.65 91.42,193.11 91.77,193.1 92.12,193.69 92.47,192.9 92.82,193.64 93.17,193.33 93.52,193.24 93.87,193.54 94.22,193.26 94.57,192.63 94.92,193.54 95.27,194.49 95.62,193.74 95.97,192.95 96.32,193.75 96.67,193.64 97.02,194.41 97.37,193.47 97.72,193.74 98.07,193.77 98.42,194.75 98.77,193.43 99.12,192.87 99.47,193.51 99.82,192.73 100.17,193.01 100.52,191.99 100.87,191.72 101.22,192.39 101.57,192.34 101.92,191.56 102.27,192.18 102.62,190.83 102.97,190.42 103.32,190.56 103.67,191.64 104.02,191.39 104.37,191.92 104.72,191.37 105.07,191.63 105.42,190.98 105.77,191.53 106.12,191.08 106.47,190.39 106.82,191.26 107.17,190.7 107.52,191.33 107.87,190.34 108.22,191.25 108.57,190.38 108.92,190.82 109.27,189.56 109.62,189.85 109.97,189.56 110.32,189.65 110.67,190.04 111.02,190.03 111.37,190.66 111.72,189.58 112.07,190.7 112.42,190.71 112.77,190.39 113.12,190.12 113.47,190.05 113.82,190.17 114.17,190.63 114.52,191.79 114.87,191.55 115.22,190.95 115.57,191.29 115.92,191.01 116.27,190.55 116.62,190.68 116.97,189.8 117.32,191.16 117.67,191.06 118.02,191.19 118.37,191.76 118.72,190.96 119.07,191.91 119.42,190.87 119.77,191.54 120.12,191.13 120.47,191.71 120.82,191.55 121.17,191.6 121.52,191.37 121.87,191.48 122.22,190.77 122.57,191.33 122.92,190.71 123.27,191.48 123.62,191.7 123.97,191.54 124.32,190.95 124.67,189.76 125.02,190.36 125.37,190.74 125.72,189.41 126.07,189.73 126.42,189.49 126.77,189.71 127.12,189.94 127.47,190.51 127.82,189.42 128.17,189.83 128.52,190.12 128.87,190.4 129.22,189.91 129.57,188.62 129.92,189.95 130.27,190.13 130.62,188.85 130.97,190.29 131.32,190.49 131.67,189.53 132.02,189.52 132.37,188.64 132.72,188.95 133.07,190.21 133.42,190.45 133.77,189.79 134.12,190.63 134.47,190.68 134.82,190.95 135.17,191.71 135.52,191.07 135.87,190.33 136.22,190.57 136.57,189.94 136.92,190.4 137.27,189.7 137.62,190.49 137.97,190.87 138.32,189.73 138.67,190.78 139.02,190.76 139.37,190.14 139.72,191.71 140.07,191.57 140.42,191.9 140.77,191.23 141.12,191.27 141.47,191.76 141.82,191 142.17,191.39 142.52,191.1 142.87,190.92 143.22,191.93 143.57,192.65 143.92,191.6 144.27,192.04 144.62,191.92 144.97,191.9 145.32,191.64 145.67,192.39 146.02,192.5 146.37,190.99 146.72,191.86 147.07,191.42 147.42,191.93 147.77,191.1 148.12,191.43 148.47,190.91 148.82,190.98 149.17,190.45 149.52,189.39 149.87,189.19 150.22,189.87 150.57,188.59 150.92,189.8 151.27,189.34 151.62,190.62 151.97,190.52 152.32,189.96 152.67,190.41 153.02,189.63 153.37,190.39 153.72,190.83 154.07,191.18 154.42,190.66 154.77,191.48 155.12,190.47 155.47,190.42" stroke="#1c6fbe" stroke-width="1.45" fill="none" stroke-linejoin="round"/>
<path d="M7.2,190.71 7.55,190.85 7.9,190.21 8.25,189.72 8.6,190.75 8.95,190.41 9.3,190.26 9.65,189.91 10,189.75 10.35,190.13 10.7,190.12 11.05,189.75 11.4,189.92 11.75,189.69 12.1,189.95 12.45,189.84 12.8,190.02 13.15,190.6 13.5,190.24 13.85,190.35 14.2,190.14 14.55,190.55 14.9,189.63 15.25,190.2 15.33,190.2 15.41,190.21 15.49,190.22 15.57,190.24 15.65,190.27 15.73,190.3 15.81,190.34 15.89,190.39 15.97,190.44 16.05,190.49 16.13,190.56 16.21,190.62 16.29,190.69 16.37,190.77 16.45,190.85 16.53,190.94 16.61,191.03 16.69,191.12 16.77,191.22 16.85,191.32 16.93,191.42 17.01,191.53 17.09,191.63 17.17,191.75 17.25,191.86 17.33,191.97 17.41,192.09 17.49,192.21 17.57,192.07 17.92,192.24 18.27,194.24 18.62,194.36 18.97,194.59 19.32,194.91 19.67,194.61 20.02,195.68 20.37,195.3 20.72,195.95 21.07,196.14 21.42,197.52 21.77,197.79 22.12,197.35 22.47,199.1 22.82,198.06 23.17,197.16 23.52,197.73 23.87,199.09 24.22,198.98 24.57,198.47 24.92,199.89 25.27,199.17 25.62,199.84 25.97,199.73 26.32,198.83 26.67,200.08 27.02,200.68 27.37,199.69 27.72,200.73 28.07,201.12 28.42,200.38 28.77,200.9 29.12,200.21 29.47,199.19 29.82,200.07 30.17,199.99 30.52,198.62 30.87,199.4 31.22,198.81 31.57,199.87 31.92,199.61 32.27,200.16 32.62,200.07 32.97,199.48 33.32,200.08 33.67,199.07 34.02,199.2 34.37,199.95 34.72,200.26 35.07,199.68 35.42,199.86 35.77,200.49 36.12,200.74 36.47,201.72 36.82,201.2 37.17,201.57 37.52,201.24 37.87,200.99 38.22,201.51 38.57,201.8 38.92,200.75 39.27,200.14 39.62,201.77 39.97,200.88 40.32,200.82 40.67,200.57 41.02,201.29 41.37,201.44 41.72,202 42.07,201.55 42.42,202.1 42.77,201.46 43.12,202.84 43.47,202.75 43.82,201.89 44.17,201.82 44.52,201.89 44.87,202.17 45.22,202.78 45.57,203.13 45.92,203.36 46.27,203.56 46.62,202.42 46.97,202.6 47.32,202.27 47.67,201.83 48.02,202.22 48.37,202.98 48.72,202.6 49.07,202.51 49.42,202.74 49.77,203.81 50.12,203.98 50.47,202.84 50.82,202.56 51.17,203.01 51.52,202.32 51.87,202.59 52.22,201.55 52.57,202.09 52.92,201.49 53.27,202.53 53.62,201.6 53.97,201.44 54.32,201.72 54.67,201.23 55.02,202.13 55.37,201.03 55.72,201.13 56.07,201.32 56.42,201.48 56.77,201.73 57.12,201.29 57.47,201.31 57.82,200.47 58.17,201.52 58.52,201.03 58.87,201.72 59.22,200.18 59.57,201.83 59.92,201.53 60.27,201.06 60.62,200.76 60.97,200.26 61.32,200.89 61.67,200.54 62.02,201.49 62.37,201.29 62.72,201.3 63.07,200.92 63.42,201.28 63.77,200.59 64.12,199.87 64.47,199.69 64.82,199.66 65.17,199.31 65.52,200.02 65.87,199.69 66.22,199.32 66.57,198.89 66.92,199.34 67.27,199.05 67.62,199.43 67.97,201.09 68.32,200.77 68.67,200.55 69.02,200.92 69.37,202.42 69.72,201.31 70.07,201.32 70.42,201.08 70.77,201.96 71.12,201.6 71.47,202.23 71.82,202.03 72.17,201.86 72.52,200.77 72.87,200.09 73.22,202.08 73.57,201.72 73.92,201.25 74.27,201.63 74.62,201.26 74.97,200.8 75.32,201.72 75.67,201.06 76.02,201.64 76.37,200.76 76.72,202.2 77.07,201.13 77.42,201.75 77.77,201.97 78.12,201.32 78.47,200.49 78.82,201.63 79.17,201.99 79.52,201 79.87,200.32 80.22,200.01 80.57,200.38 80.92,199.98 81.27,199.43 81.62,198.61 81.97,199.38 82.32,198.79 82.67,199.39 83.02,200.2 83.37,199.84 83.72,199.83 84.07,199.32 84.42,199.82 84.77,200.89 85.12,199.22 85.47,199.63 85.82,199.31 86.17,199.96 86.52,200.93 86.87,199.96 87.22,200.03 87.57,199.56 87.92,200.6 88.27,199.91 88.62,200.63 88.97,200 89.32,199.59 89.67,200.21 90.02,200.79 90.37,201.54 90.72,201.02 91.07,200.54 91.42,201.06 91.77,201.2 92.12,201.09 92.47,200.92 92.82,200.69 93.17,201.25 93.52,200.56 93.87,199.37 94.22,199.19 94.57,200.15 94.92,199.97 95.27,200.15 95.62,199.23 95.97,199.63 96.32,200.06 96.67,200.75 97.02,201.09 97.37,201.29 97.72,201.38 98.07,201.57 98.42,200.94 98.77,200.58 99.12,201.24 99.47,202.01 99.82,201.47 100.17,201.33 100.52,201.5 100.87,201.09 101.22,201.78 101.57,201.67 101.92,199.67 102.27,196.4 102.62,195.73 102.97,194.92 103.32,194.05 103.67,193.25 104.02,193.96 104.37,192.86 104.72,193.06 105.07,191.5 105.42,192.07 105.77,191.35 106.12,191.23 106.47,191.13 106.82,192.15 107.17,190.96 107.52,191.05 107.87,190.73 108.22,189.29 108.57,190.27 108.92,190.66 109.27,190.47 109.62,190.93 109.97,190.34 110.32,191.51 110.67,191.5 111.02,190.18 111.37,190.52 111.72,191.09 112.07,190.96 112.42,191.79 112.77,191.51 113.12,190.97 113.47,191.93 113.82,192.09 114.17,191.34 114.52,190.02 114.87,190.87 115.22,190.31 115.57,190.52 115.92,190.19 116.27,191.2 116.62,190.46 116.97,190.94 117.32,190.6 117.67,190.37 118.02,190.12 118.37,190.21 118.72,190.57 119.07,190.92 119.42,190.9 119.77,190.11 120.12,190.38 120.47,189.48 120.82,190.4 121.17,190.36 121.52,191.24 121.87,192.01 122.22,192.27 122.57,191.91 122.92,191.45 123.27,191.57 123.62,190.91 123.97,191.59 124.32,191.6 124.67,191.87 125.02,191.51 125.37,190.45 125.72,190.19 126.07,190.63 126.42,190.81 126.77,191.27 127.12,192.02 127.47,191.84 127.82,191.71 128.17,191.87 128.52,191.26 128.87,191.46 129.22,191.82 129.57,191.71 129.92,191.08 130.27,191.98 130.62,190.63 130.97,190.64 131.32,191.27 131.67,190.17 132.02,190.13 132.37,191.12 132.72,191.08 133.07,191.03 133.42,191.22 133.77,190.98 134.12,191.91 134.47,190.99 134.82,192.09 135.17,191.52 135.52,191.5 135.87,191.51 136.22,191.69 136.57,192.36 136.92,191.98 137.27,192.66 137.62,191.39 137.97,191.27 138.32,191.02 138.67,191.44 139.02,191.21 139.37,191.87 139.72,190.49 140.07,191.32 140.42,191.66 140.77,190.73 141.12,191.01 141.47,191.45 141.82,191.62 142.17,191.36 142.52,191.87 142.87,191.72 143.22,190.48 143.57,191.12 143.92,190.5 144.27,191.83 144.62,192.32 144.97,191.81 145.32,191.35 145.67,191.39 146.02,191.77 146.37,191.53 146.72,191.14 147.07,191.04 147.42,191.11 147.77,192.03 148.12,191.3 148.47,191.09 148.82,191.84 149.17,191.33 149.52,192.22 149.87,192.3 150.22,191.82 150.57,191.08 150.92,192.08 151.27,191.03 151.62,191.96 151.97,191.78 152.32,192.34 152.67,191.15 153.02,191.72 153.37,192.09 153.72,192.61 154.07,191.85 154.42,191.84 154.77,191.49 155.12,191.76 155.47,192.07" stroke="#e0522a" stroke-width="1.45" fill="none" stroke-linejoin="round"/>
<path d="M7.2,189.9 7.55,190.38 7.9,189.84 8.25,189.9 8.6,190.02 8.95,189.79 9.3,189.58 9.65,190.14 10,190.63 10.35,189.63 10.7,190.22 11.05,190.74 11.4,189.9 11.75,190.42 12.1,190.18 12.45,190.18 12.8,190.5 13.15,190.08 13.5,189.48 13.85,189.98 14.2,189.5 14.55,189.53 14.9,190.87 15.25,190.2 15.33,190.2 15.41,190.21 15.49,190.23 15.57,190.26 15.65,190.31 15.73,190.36 15.81,190.42 15.89,190.49 15.97,190.57 16.05,190.66 16.13,190.76 16.21,190.86 16.29,190.98 16.37,191.1 16.45,191.22 16.53,191.36 16.61,191.5 16.69,191.64 16.77,191.79 16.85,191.95 16.93,192.11 17.01,192.28 17.09,192.45 17.17,192.62 17.25,192.8 17.33,192.98 17.41,193.16 17.49,193.35 17.57,193.19 17.92,195.07 18.27,195 18.62,195.91 18.97,196.9 19.32,198.79 19.67,198.52 20.02,198.98 20.37,198.91 20.72,199.42 21.07,199.99 21.42,199.2 21.77,199.87 22.12,201.16 22.47,200.54 22.82,201.47 23.17,202.73 23.52,202.12 23.87,201.27 24.22,201.71 24.57,201.22 24.92,201.38 25.27,202.18 25.62,202.42 25.97,202.73 26.32,202.15 26.67,203.54 27.02,202.52 27.37,203.13 27.72,204.63 28.07,204.27 28.42,203.65 28.77,204.74 29.12,205.2 29.47,205.25 29.82,206.58 30.17,206.65 30.52,207.55 30.87,207.44 31.22,207.41 31.57,206.55 31.92,207.14 32.27,207.63 32.62,208.61 32.97,208 33.32,208.88 33.67,208.93 34.02,208.29 34.37,208.63 34.72,207.83 35.07,207.81 35.42,207.31 35.77,207.5 36.12,208.57 36.47,208.94 36.82,207.69 37.17,208.59 37.52,208.38 37.87,208.1 38.22,208.85 38.57,208.07 38.92,209.47 39.27,209.74 39.62,209.05 39.97,208.41 40.32,208.03 40.67,209.21 41.02,209.32 41.37,208.58 41.72,209.27 42.07,208.98 42.42,208.59 42.77,208.21 43.12,209.19 43.47,207.68 43.82,208.2 44.17,208.48 44.52,209.15 44.87,208.7 45.22,208.73 45.57,207.99 45.92,209.46 46.27,208.76 46.62,207.64 46.97,208.44 47.32,208.41 47.67,209.01 48.02,209.56 48.37,209.91 48.72,210.55 49.07,210.3 49.42,211.67 49.77,211.63 50.12,211.31 50.47,211.9 50.82,210.92 51.17,211.7 51.52,212.51 51.87,212.17 52.22,210.88 52.57,211.24 52.92,210.71 53.27,210.89 53.62,211.67 53.97,210.03 54.32,211.14 54.67,211.52 55.02,210.98 55.37,212.04 55.72,212.85 56.07,211.6 56.42,212.57 56.77,211.76 57.12,211.14 57.47,211.43 57.82,212.38 58.17,211.45 58.52,211.68 58.87,212.45 59.22,211.49 59.57,212.56 59.92,211.4 60.27,211.74 60.62,210.3 60.97,209.7 61.32,210.84 61.67,210.54 62.02,209.91 62.37,210.79 62.72,210.16 63.07,209.95 63.42,211.25 63.77,211.92 64.12,210.63 64.47,211.89 64.82,212.32 65.17,211.7 65.52,212.55 65.87,211.33 66.22,211.59 66.57,211.87 66.92,212.66 67.27,212.39 67.62,212.45 67.97,212.65 68.32,212.08 68.67,211.65 69.02,212 69.37,213 69.72,213.2 70.07,212.66 70.42,211.97 70.77,211.63 71.12,211.54 71.47,212.41 71.82,212.04 72.17,211.82 72.52,212.83 72.87,211.58 73.22,211.65 73.57,212.13 73.92,212.35 74.27,211.75 74.62,211.52 74.97,210.01 75.32,209.8 75.67,211.28 76.02,210.56 76.37,211.37 76.72,211.07 77.07,211.5 77.42,211.3 77.77,212.42 78.12,210.82 78.47,212.01 78.82,211.81 79.17,211.36 79.52,211.13 79.87,210.86 80.22,210.9 80.57,210.99 80.92,210.67 81.27,210.49 81.62,209.88 81.97,210.4 82.32,209.93 82.67,210.84 83.02,210.96 83.37,211.08 83.72,210.68 84.07,211.07 84.42,211.08 84.77,209.63 85.12,209.2 85.47,208.94 85.82,209.37 86.17,210.44 86.52,209.05 86.87,209.51 87.22,209.42 87.57,209.25 87.92,210.56 88.27,209.89 88.62,209.79 88.97,209.27 89.32,209.57 89.67,209.22 90.02,208.7 90.37,208.52 90.72,208.78 91.07,209.58 91.42,209.2 91.77,209.71 92.12,209.02 92.47,209.36 92.82,209.44 93.17,209.27 93.52,208.41 93.87,209 94.22,209.37 94.57,207.63 94.92,208.17 95.27,207.85 95.62,207.49 95.97,208.44 96.32,209.3 96.67,209.97 97.02,208.91 97.37,209.79 97.72,209.28 98.07,209.94 98.42,209.79 98.77,209.93 99.12,209.64 99.47,210.88 99.82,211.19 100.17,210.6 100.52,210.32 100.87,207.68 101.22,202.16 101.57,199.31 101.92,198.54 102.27,196.29 102.62,195.92 102.97,195.19 103.32,193.34 103.67,192.88 104.02,192.7 104.37,192.51 104.72,192.18 105.07,192.52 105.42,191.99 105.77,192.68 106.12,192.07 106.47,191.31 106.82,191.76 107.17,192.04 107.52,192.39 107.87,192.02 108.22,193.32 108.57,192.13 108.92,192.17 109.27,193.64 109.62,192.55 109.97,192.97 110.32,192.88 110.67,193.13 111.02,192.63 111.37,192.57 111.72,193.14 112.07,193.49 112.42,193.53 112.77,192.89 113.12,192.43 113.47,192.55 113.82,192.93 114.17,191.8 114.52,191.58 114.87,191.48 115.22,190.16 115.57,190.25 115.92,189.82 116.27,189.31 116.62,189.52 116.97,189.3 117.32,190.44 117.67,190.06 118.02,190.07 118.37,191.04 118.72,191.63 119.07,190.85 119.42,192.12 119.77,191.16 120.12,191.61 120.47,191.07 120.82,190.95 121.17,190.49 121.52,190.98 121.87,191.47 122.22,190.93 122.57,190.39 122.92,190.84 123.27,190.75 123.62,190.29 123.97,190.52 124.32,190.91 124.67,191.37 125.02,190.07 125.37,190.92 125.72,191.12 126.07,190.41 126.42,190.3 126.77,190.63 127.12,190.11 127.47,189.35 127.82,190.74 128.17,190.2 128.52,190.1 128.87,190.32 129.22,190.55 129.57,191.57 129.92,191.39 130.27,191.76 130.62,192.29 130.97,191.98 131.32,191.54 131.67,191.24 132.02,191.78 132.37,191.75 132.72,191.38 133.07,191.52 133.42,192.06 133.77,192.1 134.12,191.41 134.47,191.42 134.82,191.66 135.17,190.92 135.52,191.87 135.87,191.27 136.22,192.17 136.57,191.59 136.92,192.46 137.27,192.43 137.62,192.6 137.97,191.68 138.32,191.7 138.67,190.96 139.02,190.82 139.37,191.45 139.72,190.46 140.07,190.94 140.42,190.86 140.77,189.51 141.12,190.09 141.47,189.43 141.82,188.78 142.17,189.69 142.52,189.76 142.87,189.19 143.22,190.41 143.57,190.01 143.92,190.05 144.27,189.96 144.62,189.85 144.97,190.03 145.32,190.27 145.67,190.69 146.02,190.67 146.37,191.32 146.72,191.38 147.07,191.05 147.42,191.62 147.77,190.71 148.12,191.53 148.47,190.02 148.82,190.78 149.17,190.46 149.52,190.58 149.87,190 150.22,190.62 150.57,190.87 150.92,190.22 151.27,191.11 151.62,190.2 151.97,190.27 152.32,190.65 152.67,190.15 153.02,189.55 153.37,190.57 153.72,189.9 154.07,189.38 154.42,189.82 154.77,189.53 155.12,190.35 155.47,189.53" stroke="#eeac1e" stroke-width="1.45" fill="none" stroke-linejoin="round"/>
<path d="M7.2,190.82 7.55,190.45 7.9,190.19 8.25,190.52 8.6,190.44 8.95,189.79 9.3,189.93 9.65,189.46 10,189.86 10.35,190.7 10.7,189.76 11.05,190.52 11.4,190.58 11.75,190.8 12.1,189.82 12.45,190.06 12.8,189.45 13.15,190.78 13.5,189.48 13.85,189.79 14.2,189.57 14.55,190.75 14.9,190.4 15.25,190.2 15.33,190.2 15.41,190.23 15.49,190.29 15.57,190.38 15.65,190.5 15.73,190.64 15.81,190.81 15.89,191 15.97,191.22 16.05,191.45 16.13,191.71 16.21,191.99 16.29,192.28 16.37,192.59 16.45,192.91 16.53,193.25 16.61,193.59 16.69,193.95 16.77,194.31 16.85,194.69 16.93,195.06 17.01,195.45 17.09,195.83 17.17,196.22 17.25,196.61 17.33,197 17.41,197.38 17.49,197.76 17.57,198.21 17.92,199.12 18.27,201.55 18.62,203.08 18.97,204.78 19.32,206.38 19.67,208.21 20.02,209.48 20.37,210.71 20.72,212.92 21.07,213.51 21.42,214.3 21.77,216.14 22.12,216.99 22.47,217.7 22.82,219.54 23.17,220.18 23.52,221.22 23.87,221.32 24.22,223.63 24.57,224.46 24.92,224.15 25.27,225.03 25.62,225.06 25.97,227.04 26.32,227.39 26.67,227.76 27.02,227.75 27.37,228.34 27.72,229.78 28.07,229.99 28.42,230.01 28.77,229.47 29.12,231.02 29.47,231.44 29.82,232.53 30.17,232.58 30.52,232.83 30.87,233.34 31.22,233.31 31.57,233.79 31.92,234.72 32.27,234.13 32.62,235.68 32.97,235.64 33.32,235.32 33.67,234.82 34.02,235.57 34.37,235.16 34.72,235.6 35.07,235.52 35.42,235.97 35.77,234.73 36.12,234.9 36.47,236.03 36.82,235.21 37.17,235.25 37.52,234.7 37.87,235.27 38.22,235.53 38.57,234.73 38.92,233.55 39.27,233.22 39.62,233.77 39.97,234.92 40.32,234.19 40.67,234.85 41.02,234.06 41.37,234.1 41.72,234.78 42.07,234.81 42.42,234.31 42.77,233.71 43.12,233.67 43.47,233.62 43.82,234.32 44.17,234.73 44.52,234.06 44.87,233.34 45.22,234.46 45.57,233.68 45.92,234.45 46.27,233.68 46.62,234.17 46.97,233.4 47.32,233.02 47.67,233.81 48.02,234.47 48.37,233.4 48.72,233.58 49.07,233.77 49.42,233.61 49.77,232.88 50.12,233.53 50.47,233.01 50.82,232.76 51.17,232.84 51.52,232.79 51.87,232.87 52.22,232.07 52.57,232.97 52.92,231.95 53.27,232.72 53.62,231.91 53.97,231.59 54.32,232.18 54.67,232.76 55.02,232.12 55.37,231.83 55.72,231.51 56.07,232.88 56.42,232.65 56.77,233.22 57.12,233.03 57.47,232.57 57.82,233.07 58.17,233.61 58.52,233.23 58.87,233.35 59.22,232.57 59.57,232.47 59.92,232.35 60.27,231.96 60.62,231.89 60.97,233.27 61.32,232.62 61.67,232.58 62.02,231.45 62.37,232.08 62.72,232.24 63.07,232.14 63.42,231.94 63.77,231.21 64.12,230.88 64.47,231.84 64.82,231.68 65.17,231.42 65.52,232.81 65.87,232.04 66.22,231.32 66.57,231.15 66.92,232.01 67.27,230.75 67.62,230.64 67.97,231.19 68.32,230.81 68.67,232.47 69.02,232.4 69.37,231.84 69.72,232.43 70.07,231.98 70.42,232.77 70.77,231.19 71.12,232.5 71.47,232.35 71.82,230.99 72.17,230.7 72.52,230.71 72.87,232.2 73.22,232.19 73.57,231.87 73.92,231.46 74.27,232.36 74.62,231.2 74.97,231.02 75.32,230.59 75.67,231.44 76.02,230.93 76.37,230.62 76.72,230.91 77.07,231.45 77.42,231.29 77.77,231.11 78.12,230.3 78.47,230.6 78.82,231.02 79.17,229.92 79.52,230.25 79.87,230.18 80.22,230.79 80.57,230.73 80.92,230.61 81.27,231.43 81.62,231.57 81.97,230.93 82.32,231.15 82.67,229.84 83.02,230.81 83.37,230.91 83.72,229.8 84.07,231.02 84.42,229.87 84.77,230.07 85.12,229.98 85.47,229.52 85.82,229.5 86.17,228.8 86.52,229.6 86.87,228.67 87.22,228.11 87.57,229.25 87.92,229.5 88.27,229.43 88.62,228.93 88.97,229.63 89.32,229.11 89.67,228.42 90.02,229.19 90.37,229.11 90.72,228.77 91.07,228.24 91.42,228.3 91.77,227.79 92.12,228.02 92.47,228.86 92.82,229.45 93.17,228.49 93.52,229.39 93.87,229.15 94.22,229.6 94.57,228.49 94.92,229.46 95.27,228.46 95.62,228.41 95.97,228.69 96.32,228.26 96.67,228.64 97.02,227.21 97.37,227.9 97.72,226.93 98.07,227.9 98.42,226.36 98.77,226.75 99.12,226.34 99.47,226.89 99.82,226.64 100.17,226.81 100.52,226.85 100.87,227.12 101.22,227.11 101.57,226.78 101.92,226.11 102.27,225.17 102.62,223.9 102.97,224.22 103.32,223.69 103.67,223.3 104.02,221.69 104.37,220.48 104.72,221.01 105.07,219.44 105.42,219.39 105.77,216.7 106.12,215.96 106.47,214.59 106.82,212.9 107.17,212.09 107.52,210.27 107.87,209.36 108.22,206.91 108.57,205.44 108.92,204.91 109.27,203.19 109.62,201.75 109.97,202.34 110.32,200.28 110.67,199.5 111.02,199.76 111.37,196.98 111.72,196.3 112.07,195.86 112.42,194.8 112.77,195.31 113.12,195.5 113.47,194.4 113.82,194.96 114.17,194.83 114.52,194.81 114.87,194.13 115.22,193.94 115.57,192.95 115.92,193.02 116.27,193.64 116.62,192.03 116.97,191.51 117.32,193.05 117.67,191.82 118.02,191.92 118.37,192.46 118.72,192.23 119.07,191.85 119.42,190.81 119.77,191.13 120.12,191.96 120.47,192.51 120.82,192.74 121.17,193.05 121.52,192.15 121.87,192.52 122.22,192.66 122.57,192.3 122.92,192.28 123.27,191.74 123.62,191.41 123.97,191.42 124.32,191.81 124.67,191.26 125.02,190.98 125.37,192.15 125.72,191.63 126.07,191.29 126.42,192.02 126.77,191.57 127.12,192.57 127.47,192.29 127.82,191.97 128.17,192.61 128.52,192.72 128.87,192.91 129.22,193.07 129.57,191.27 129.92,191.31 130.27,191.47 130.62,191.95 130.97,190.39 131.32,190.52 131.67,191.48 132.02,192.21 132.37,191.58 132.72,190.77 133.07,191.42 133.42,191.03 133.77,190.56 134.12,190.37 134.47,190.34 134.82,190.02 135.17,191.03 135.52,190.6 135.87,191.58 136.22,191.07 136.57,190.68 136.92,191.59 137.27,191.93 137.62,191.51 137.97,190.59 138.32,191.01 138.67,190.56 139.02,190.61 139.37,191.24 139.72,190.33 140.07,190.31 140.42,189.81 140.77,191.37 141.12,191.34 141.47,191.37 141.82,191.17 142.17,190.57 142.52,191.94 142.87,191.64 143.22,191.4 143.57,190.43 143.92,190.87 144.27,189.98 144.62,191.16 144.97,189.69 145.32,189.37 145.67,190.06 146.02,190.18 146.37,190.97 146.72,189.78 147.07,190.29 147.42,190.43 147.77,190.52 148.12,190.2 148.47,189.48 148.82,189.48 149.17,189.37 149.52,189.04 149.87,189.23 150.22,189.35 150.57,190.12 150.92,189.49 151.27,190.78 151.62,190.78 151.97,191.39 152.32,191.52 152.67,190.89 153.02,191.92 153.37,190.98 153.72,192.07 154.07,191.11 154.42,192.56 154.77,192.89 155.12,191.34 155.47,190.88" stroke="#8a2f9f" stroke-width="1.45" fill="none" stroke-linejoin="round"/>
<path d="M7.2,190.47 7.55,190.76 7.9,189.77 8.25,189.7 8.6,190.7 8.95,189.54 9.3,189.6 9.65,190.36 10,189.58 10.35,189.74 10.7,190.55 11.05,190.35 11.4,189.52 11.75,190.87 12.1,190.5 12.45,190.01 12.8,190.61 13.15,189.56 13.5,190.77 13.85,190.96 14.2,189.9 14.55,189.94 14.9,190.21 15.25,190.2 15.33,190.21 15.41,190.29 15.49,190.47 15.57,190.74 15.65,191.08 15.73,191.5 15.81,191.98 15.89,192.51 15.97,193.1 16.05,193.73 16.13,194.4 16.21,195.09 16.29,195.81 16.37,196.54 16.45,197.28 16.53,198.02 16.61,198.75 16.69,199.47 16.77,200.17 16.85,200.84 16.93,201.48 17.01,202.07 17.09,202.66 17.17,203.25 17.25,203.86 17.33,204.48 17.41,205.11 17.49,205.74 17.57,205.74 17.92,208.81 18.27,212.16 18.62,214.17 18.97,217.18 19.32,219.11 19.67,221.31 20.02,222.75 20.37,225.33 20.72,226.53 21.07,227.46 21.42,228.3 21.77,230.02 22.12,230.82 22.47,232.32 22.82,234.11 23.17,233.56 23.52,235.75 23.87,236.04 24.22,237.25 24.57,237.87 24.92,238.35 25.27,238.74 25.62,238.36 25.97,240.68 26.32,240.07 26.67,241.73 27.02,241.85 27.37,241.32 27.72,241.22 28.07,242.72 28.42,243.06 28.77,243.28 29.12,243 29.47,244.32 29.82,243.87 30.17,244.45 30.52,245.51 30.87,245.31 31.22,244.91 31.57,246.09 31.92,244.88 32.27,246.15 32.62,246.51 32.97,245.87 33.32,246.41 33.67,247.49 34.02,248.58 34.37,247.92 34.72,247.47 35.07,247.11 35.42,247.12 35.77,247.06 36.12,248.51 36.47,248.66 36.82,248.32 37.17,247.62 37.52,247.75 37.87,247.64 38.22,248.09 38.57,248.15 38.92,247.03 39.27,246.09 39.62,246.49 39.97,247.29 40.32,247.77 40.67,247.56 41.02,247.1 41.37,247.61 41.72,246.34 42.07,246.81 42.42,246.74 42.77,247.33 43.12,246.85 43.47,246.48 43.82,246.28 44.17,246.84 44.52,246.88 44.87,245.85 45.22,247.52 45.57,246.85 45.92,247.4 46.27,247.07 46.62,246.31 46.97,246.17 47.32,246.32 47.67,245.71 48.02,246.1 48.37,245.9 48.72,246.52 49.07,247.03 49.42,248.06 49.77,247.58 50.12,249.14 50.47,248.33 50.82,247.53 51.17,249.26 51.52,248.2 51.87,247.68 52.22,248.06 52.57,248.15 52.92,246.76 53.27,247.81 53.62,247.08 53.97,248.03 54.32,247.01 54.67,247.63 55.02,247.41 55.37,247.29 55.72,246.78 56.07,247.81 56.42,247.02 56.77,247.77 57.12,246.26 57.47,247.57 57.82,246.86 58.17,246.54 58.52,245.57 58.87,246.34 59.22,244.98 59.57,244.74 59.92,245.56 60.27,246.53 60.62,245.57 60.97,245.45 61.32,246.11 61.67,246.12 62.02,244.9 62.37,245.47 62.72,245.61 63.07,245.84 63.42,244.89 63.77,245.35 64.12,244.24 64.47,244.3 64.82,244.07 65.17,245.31 65.52,245.81 65.87,244.29 66.22,245.41 66.57,245.05 66.92,244.83 67.27,244.01 67.62,244.63 67.97,244.72 68.32,244.34 68.67,244.44 69.02,245.47 69.37,245.03 69.72,245.44 70.07,244.54 70.42,245.81 70.77,246.23 71.12,245.52 71.47,246.42 71.82,245.02 72.17,246.29 72.52,245.17 72.87,245.29 73.22,244.64 73.57,244.56 73.92,244.55 74.27,243.81 74.62,244.43 74.97,244.41 75.32,244.52 75.67,244.42 76.02,244.52 76.37,244.84 76.72,245.02 77.07,244.09 77.42,245.16 77.77,243.51 78.12,245.27 78.47,244.69 78.82,243.84 79.17,244.23 79.52,243.66 79.87,243.91 80.22,244.72 80.57,244.61 80.92,244.76 81.27,245.02 81.62,245.35 81.97,244.39 82.32,245.8 82.67,245 83.02,245.81 83.37,245.61 83.72,245.99 84.07,244.89 84.42,245.25 84.77,245.29 85.12,244.44 85.47,245.92 85.82,245.24 86.17,245.86 86.52,245.36 86.87,245.58 87.22,244.99 87.57,245.78 87.92,244.75 88.27,244.74 88.62,244.93 88.97,244.59 89.32,245.29 89.67,244.75 90.02,244.12 90.37,244.34 90.72,244.66 91.07,244.48 91.42,244.33 91.77,245.12 92.12,244.67 92.47,244.24 92.82,244.35 93.17,245.38 93.52,244.34 93.87,245.04 94.22,245.55 94.57,245.25 94.92,244.83 95.27,244.74 95.62,244.09 95.97,244.91 96.32,245.01 96.67,244.28 97.02,243.47 97.37,243.3 97.72,244.2 98.07,244.08 98.42,244.1 98.77,244.02 99.12,242.91 99.47,243.58 99.82,242.76 100.17,243.44 100.52,243.22 100.87,242.86 101.22,242.2 101.57,242.82 101.92,241.82 102.27,240.98 102.62,240.19 102.97,238.07 103.32,235.78 103.67,234.56 104.02,233.45 104.37,230.43 104.72,228.82 105.07,226.74 105.42,225.08 105.77,223.61 106.12,221.92 106.47,219.21 106.82,217.68 107.17,216.48 107.52,214.34 107.87,213.97 108.22,210.76 108.57,209.19 108.92,209.44 109.27,207.43 109.62,207.5 109.97,205.73 110.32,204.36 110.67,204.07 111.02,202.22 111.37,202.17 111.72,199.91 112.07,199.8 112.42,199.31 112.77,198.78 113.12,198.41 113.47,198.93 113.82,197.67 114.17,196.98 114.52,196.31 114.87,194.44 115.22,194.57 115.57,195.76 115.92,194.44 116.27,193.93 116.62,192.91 116.97,193.81 117.32,192.84 117.67,193.43 118.02,193.13 118.37,192.8 118.72,192.54 119.07,193.15 119.42,192.48 119.77,191.77 120.12,192.19 120.47,192.88 120.82,191.28 121.17,192.01 121.52,191.93 121.87,190.64 122.22,192.12 122.57,192.09 122.92,191.95 123.27,191.53 123.62,192.14 123.97,192.97 124.32,193.78 124.67,192.15 125.02,193.03 125.37,191.75 125.72,192.81 126.07,192.13 126.42,192.4 126.77,191.13 127.12,192.21 127.47,190.98 127.82,190.73 128.17,190.05 128.52,190.74 128.87,190.76 129.22,190.24 129.57,189.72 129.92,190.23 130.27,189.76 130.62,189.23 130.97,189.6 131.32,190.91 131.67,189.08 132.02,190.34 132.37,189.64 132.72,189.71 133.07,190.15 133.42,189.66 133.77,190.04 134.12,190.33 134.47,189.24 134.82,190.18 135.17,191.17 135.52,190.87 135.87,190.63 136.22,190.23 136.57,190.56 136.92,189.91 137.27,190.36 137.62,191.2 137.97,190.75 138.32,190.63 138.67,190.93 139.02,190.49 139.37,192.02 139.72,191.87 140.07,191.85 140.42,190.73 140.77,190.42 141.12,191.39 141.47,191.56 141.82,191.43 142.17,190.84 142.52,190.77 142.87,191.72 143.22,191.09 143.57,190.75 143.92,191.87 144.27,191.87 144.62,190.79 144.97,190.68 145.32,190.52 145.67,190.93 146.02,190.53 146.37,190.78 146.72,190.12 147.07,189.48 147.42,189.49 147.77,190.69 148.12,190.36 148.47,191.05 148.82,191.07 149.17,190.55 149.52,190.12 149.87,191.28 150.22,190.68 150.57,191.62 150.92,191.21 151.27,191.2 151.62,190.67 151.97,190.65 152.32,190.64 152.67,191.04 153.02,191.05 153.37,190.35 153.72,191.13 154.07,191.31 154.42,191.28 154.77,190.11 155.12,190.87 155.47,189.41" stroke="#6aab3b" stroke-width="1.45" fill="none" stroke-linejoin="round"/>
<path d="M7.2,189.83 7.55,189.53 7.9,190.15 8.25,189.95 8.6,190.63 8.95,190.18 9.3,190.5 9.65,190.49 10,189.58 10.35,190.45 10.7,190.04 11.05,190.14 11.4,190.42 11.75,190.07 12.1,189.57 12.45,190.36 12.8,190.43 13.15,190.89 13.5,190.88 13.85,189.51 14.2,190.47 14.55,189.59 14.9,190.53 15.25,190.2 15.33,190.22 15.41,190.4 15.49,190.79 15.57,191.35 15.65,192.07 15.73,192.94 15.81,193.94 15.89,195.05 15.97,196.24 16.05,197.51 16.13,198.84 16.21,200.21 16.29,201.59 16.37,202.98 16.45,204.36 16.53,205.7 16.61,206.99 16.69,208.22 16.77,209.36 16.85,210.39 16.93,211.31 17.01,212.09 17.09,212.8 17.17,213.5 17.25,214.19 17.33,214.86 17.41,215.53 17.49,216.17 17.57,216.82 17.92,219.36 18.27,222.35 18.62,224.83 18.97,226.64 19.32,229.58 19.67,231.22 20.02,233.02 20.37,235.21 20.72,236.67 21.07,238.02 21.42,240 21.77,241.44 22.12,241.71 22.47,243 22.82,244.94 23.17,245.07 23.52,247.12 23.87,248.73 24.22,248.72 24.57,249.87 24.92,252.38 25.27,253.09 25.62,254.5 25.97,255.19 26.32,255.94 26.67,258.03 27.02,258.18 27.37,259.63 27.72,260.61 28.07,261.89 28.42,262.42 28.77,264.9 29.12,265.28 29.47,265.3 29.82,266.96 30.17,267.04 30.52,268.11 30.87,269.44 31.22,268.78 31.57,270.33 31.92,270.9 32.27,270.82 32.62,272.62 32.97,273.13 33.32,273.18 33.67,274.12 34.02,274.52 34.37,276.21 34.72,276.42 35.07,277.14 35.42,277.16 35.77,277.6 36.12,276.72 36.47,277.4 36.82,276.93 37.17,278.02 37.52,278.84 37.87,279.83 38.22,279.59 38.57,280.34 38.92,281.13 39.27,281.22 39.62,281.96 39.97,282.71 40.32,282.68 40.67,282.87 41.02,281.62 41.37,281.42 41.72,282.16 42.07,281.53 42.42,281.38 42.77,280.99 43.12,281.2 43.47,280.87 43.82,280.6 44.17,280.74 44.52,281.34 44.87,281.49 45.22,281.07 45.57,281.05 45.92,280.73 46.27,280.51 46.62,279.54 46.97,279.99 47.32,279.29 47.67,279.58 48.02,279.79 48.37,279.65 48.72,280.25 49.07,278.87 49.42,279.23 49.77,279.22 50.12,278.67 50.47,277.88 50.82,278.28 51.17,278.11 51.52,276.7 51.87,276.54 52.22,276.07 52.57,275.56 52.92,275.42 53.27,276.5 53.62,275.55 53.97,275.76 54.32,275.23 54.67,274.44 55.02,274.31 55.37,274.2 55.72,273.71 56.07,272.99 56.42,272.65 56.77,273.63 57.12,272.42 57.47,273.67 57.82,273.33 58.17,272.96 58.52,271.66 58.87,270.83 59.22,271.63 59.57,271.9 59.92,270.97 60.27,271.74 60.62,271.34 60.97,272.06 61.32,271.96 61.67,270.65 62.02,271.18 62.37,271.56 62.72,270.2 63.07,269.85 63.42,269.82 63.77,269.22 64.12,269 64.47,268.08 64.82,267.67 65.17,267.5 65.52,267.38 65.87,267.45 66.22,267.48 66.57,267.99 66.92,267.79 67.27,266.53 67.62,266.68 67.97,267.04 68.32,267.1 68.67,265.94 69.02,266.04 69.37,266.06 69.72,265.57 70.07,265.04 70.42,265.25 70.77,265.96 71.12,264.6 71.47,265.78 71.82,264.24 72.17,264.63 72.52,264.9 72.87,265.2 73.22,263.95 73.57,263.5 73.92,263.82 74.27,263.78 74.62,263.92 74.97,262.68 75.32,263.6 75.67,262.72 76.02,262.62 76.37,262.64 76.72,262.23 77.07,261.22 77.42,262.25 77.77,261.41 78.12,260.46 78.47,260.18 78.82,259.81 79.17,260.49 79.52,259.84 79.87,260.75 80.22,260.31 80.57,259.57 80.92,259.09 81.27,259.52 81.62,258.49 81.97,258.35 82.32,258.59 82.67,258.2 83.02,257.87 83.37,258.25 83.72,257.66 84.07,257.04 84.42,256.84 84.77,255.29 85.12,255.3 85.47,254.47 85.82,254.56 86.17,253.98 86.52,253.09 86.87,253.65 87.22,252.69 87.57,253.39 87.92,252.11 88.27,251.49 88.62,251.33 88.97,251.88 89.32,251.73 89.67,250.86 90.02,251.79 90.37,250.73 90.72,250.33 91.07,251.83 91.42,250.48 91.77,251.7 92.12,250.82 92.47,251.49 92.82,250.83 93.17,249.75 93.52,249.53 93.87,249.85 94.22,249.52 94.57,249.51 94.92,249.4 95.27,248.4 95.62,248.03 95.97,247.77 96.32,247.39 96.67,247.07 97.02,247.36 97.37,246.65 97.72,246.61 98.07,245.76 98.42,246.49 98.77,246.15 99.12,244.63 99.47,244.26 99.82,244.53 100.17,243.68 100.52,244.1 100.87,244.04 101.22,244.26 101.57,243.83 101.92,242.88 102.27,242.97 102.62,241.92 102.97,240.57 103.32,239.93 103.67,238.56 104.02,238.23 104.37,237.52 104.72,236.2 105.07,234.59 105.42,233.14 105.77,230.99 106.12,229.04 106.47,225.88 106.82,223.21 107.17,220.35 107.52,218.31 107.87,216.34 108.22,214.65 108.57,212.87 108.92,211.91 109.27,209.31 109.62,208.6 109.97,206.35 110.32,205.59 110.67,204.1 111.02,203.9 111.37,201.59 111.72,201.05 112.07,201.49 112.42,199.8 112.77,199.66 113.12,198.95 113.47,199.23 113.82,198.56 114.17,197.91 114.52,196.99 114.87,196.81 115.22,195.17 115.57,195.64 115.92,195.58 116.27,194.58 116.62,193.71 116.97,192.83 117.32,193.05 117.67,194.11 118.02,193.02 118.37,193.11 118.72,193.13 119.07,192.18 119.42,193.28 119.77,192.81 120.12,192.48 120.47,192.24 120.82,192.61 121.17,191.7 121.52,191.98 121.87,190.86 122.22,190.64 122.57,191.8 122.92,191.11 123.27,191.67 123.62,190.8 123.97,192.15 124.32,192.1 124.67,191 125.02,192.06 125.37,191.58 125.72,191.21 126.07,192.14 126.42,190.87 126.77,190.79 127.12,191.28 127.47,190.06 127.82,190.54 128.17,191.24 128.52,189.82 128.87,189.14 129.22,189.97 129.57,189.24 129.92,190.08 130.27,190.19 130.62,189.81 130.97,190.42 131.32,190.43 131.67,190.36 132.02,190.71 132.37,191.05 132.72,190.57 133.07,190.97 133.42,191.22 133.77,191.87 134.12,191.49 134.47,190.89 134.82,191.85 135.17,191.44 135.52,191.3 135.87,190.17 136.22,190.94 136.57,189.66 136.92,190.49 137.27,189.89 137.62,190.21 137.97,190.36 138.32,189.82 138.67,190.47 139.02,190 139.37,190.27 139.72,191.38 140.07,191.24 140.42,191.27 140.77,191.08 141.12,190.31 141.47,190.26 141.82,190.76 142.17,191.17 142.52,191.3 142.87,191.51 143.22,190.72 143.57,189.95 143.92,189.29 144.27,190.76 144.62,191.73 144.97,191.88 145.32,192.38 145.67,192.03 146.02,190.2 146.37,190.93 146.72,190.23 147.07,190.17 147.42,190.67 147.77,190.97 148.12,190.16 148.47,189.9 148.82,190.4 149.17,189.79 149.52,190.59 149.87,189.81 150.22,189.55 150.57,191.37 150.92,191.17 151.27,190.76 151.62,190.94 151.97,189.94 152.32,190.1 152.67,189.49 153.02,189.47 153.37,189.11 153.72,189.54 154.07,190.05 154.42,189.87 154.77,190.15 155.12,190.36 155.47,189.28" stroke="#3db5e6" stroke-width="1.45" fill="none" stroke-linejoin="round"/>
<path d="M7.2,190.49 7.55,190.07 7.9,190.14 8.25,190.1 8.6,190.29 8.95,190.51 9.3,189.98 9.65,190 10,189.96 10.35,190.49 10.7,190.02 11.05,189.9 11.4,189.92 11.75,190.09 12.1,190.37 12.45,189.91 12.8,190.31 13.15,190.47 13.5,190.07 13.85,190.37 14.2,190.22 14.55,190.3 14.9,190.42 15.25,190.2 15.33,190.22 15.41,190.41 15.49,190.8 15.57,191.39 15.65,192.15 15.73,193.07 15.81,194.13 15.89,195.31 15.97,196.6 16.05,197.99 16.13,199.46 16.21,200.98 16.29,202.56 16.37,204.16 16.45,205.78 16.53,207.39 16.61,208.99 16.69,210.55 16.77,212.07 16.85,213.52 16.93,214.88 17.01,216.15 17.09,217.39 17.17,218.63 17.25,219.88 17.33,221.13 17.41,222.39 17.49,223.65 17.57,224.59 17.92,230.16 18.27,236.13 18.62,241.4 18.97,247.5 19.32,252.39 19.67,257.88 20.02,263.6 20.37,268.62 20.72,274.02 21.07,279.42 21.42,284.07 21.77,287.07 22.12,289.89 22.47,291.82 22.82,293.36 23.17,295.27 23.52,296.82 23.87,297.93 24.22,299.07 24.57,300.44 24.92,301.82 25.27,302.33 25.62,303.74 25.97,304.36 26.32,305.6 26.67,306.17 27.02,307.25 27.37,307.32 27.72,307.96 28.07,308.42 28.42,308.76 28.77,309.31 29.12,310.15 29.47,310.47 29.82,310.55 30.17,310.9 30.52,311.45 30.87,311.08 31.22,311.29 31.57,310.87 31.92,310.46 32.27,310.4 32.62,310.68 32.97,310.26 33.32,309.45 33.67,309.35 34.02,309.17 34.37,308.47 34.72,307.61 35.07,307.65 35.42,306.97 35.77,305.99 36.12,305.62 36.47,304.31 36.82,303.69 37.17,303 37.52,302.31 37.87,301.49 38.22,300.75 38.57,299.94 38.92,299.26 39.27,297.77 39.62,297.53 39.97,296.51 40.32,295.43 40.67,294.47 41.02,293.72 41.37,293.04 41.72,291.95 42.07,291.62 42.42,290.72 42.77,289.88 43.12,288.62 43.47,287.83 43.82,286.55 44.17,285.95 44.52,284.38 44.87,284.01 45.22,283.01 45.57,281.77 45.92,280.61 46.27,280.04 46.62,278.56 46.97,277.89 47.32,276.83 47.67,275.7 48.02,274.46 48.37,273.36 48.72,272.46 49.07,271.24 49.42,270.19 49.77,268.94 50.12,267.73 50.47,266.45 50.82,265.99 51.17,265.08 51.52,263.78 51.87,263.6 52.22,262.57 52.57,262.12 52.92,261.02 53.27,260.38 53.62,259.61 53.97,259.15 54.32,258.39 54.67,257.57 55.02,256.66 55.37,256.32 55.72,255.97 56.07,255.19 56.42,254.74 56.77,254.1 57.12,253.25 57.47,253.13 57.82,252.14 58.17,251.49 58.52,251.33 58.87,251.34 59.22,250.48 59.57,249.72 59.92,249.71 60.27,249.32 60.62,248.92 60.97,248.51 61.32,247.61 61.67,247.24 62.02,247.23 62.37,246.46 62.72,246.1 63.07,245.9 63.42,245.35 63.77,245.1 64.12,244.9 64.47,244.33 64.82,244.48 65.17,243.61 65.52,243.52 65.87,243.1 66.22,242.71 66.57,242.9 66.92,242.6 67.27,242.16 67.62,241.91 67.97,241.96 68.32,241.53 68.67,241.9 69.02,241.05 69.37,241.42 69.72,240.9 70.07,241.06 70.42,240.37 70.77,240.06 71.12,239.88 71.47,240.22 71.82,239.61 72.17,239.28 72.52,239.52 72.87,239.34 73.22,239.25 73.57,239.12 73.92,239.07 74.27,239.44 74.62,238.85 74.97,238.64 75.32,238.94 75.67,238.64 76.02,239.02 76.37,238.98 76.72,238.83 77.07,238.15 77.42,238.33 77.77,238.1 78.12,238.75 78.47,238.38 78.82,238.5 79.17,238.42 79.52,237.99 79.87,237.86 80.22,238.28 80.57,238.05 80.92,237.75 81.27,238.16 81.62,238.04 81.97,237.52 82.32,237.88 82.67,237.15 83.02,237.5 83.37,237.04 83.72,237.09 84.07,237.53 84.42,237.33 84.77,237.34 85.12,236.9 85.47,236.8 85.82,237.06 86.17,236.9 86.52,236.61 86.87,236.54 87.22,236.74 87.57,236.18 87.92,236.14 88.27,235.91 88.62,235.87 88.97,236 89.32,236.05 89.67,235.68 90.02,235.87 90.37,235.83 90.72,235.86 91.07,235.88 91.42,235.86 91.77,235.41 92.12,235.78 92.47,235.51 92.82,235.94 93.17,235.89 93.52,235.29 93.87,235.41 94.22,235.09 94.57,235.47 94.92,234.94 95.27,234.97 95.62,234.95 95.97,235.42 96.32,235.44 96.67,235.47 97.02,235.41 97.37,235.42 97.72,235.1 98.07,235.35 98.42,235.32 98.77,235.04 99.12,235.18 99.47,234.89 99.82,234.84 100.17,235.11 100.52,234.7 100.87,234.53 101.22,234.09 101.57,234.1 101.92,234.3 102.27,233.59 102.62,233.82 102.97,233.46 103.32,232.86 103.67,232.44 104.02,232.28 104.37,231.39 104.72,230.81 105.07,230.15 105.42,229.37 105.77,228.58 106.12,228.21 106.47,227.44 106.82,226.17 107.17,225.47 107.52,224.18 107.87,222.88 108.22,221.99 108.57,220.53 108.92,219.44 109.27,218.53 109.62,217.35 109.97,216.48 110.32,214.82 110.67,213.83 111.02,212.91 111.37,211.73 111.72,210.86 112.07,209.8 112.42,208.56 112.77,207.52 113.12,206.68 113.47,205.73 113.82,205.04 114.17,204.04 114.52,203.73 114.87,203.03 115.22,201.88 115.57,201.07 115.92,200.55 116.27,200.31 116.62,199.76 116.97,198.67 117.32,198.11 117.67,197.95 118.02,197.68 118.37,197.16 118.72,197 119.07,196.18 119.42,195.91 119.77,195.62 120.12,194.91 120.47,194.65 120.82,194.59 121.17,194.49 121.52,194.43 121.87,193.57 122.22,193.52 122.57,193.48 122.92,192.78 123.27,193.06 123.62,192.47 123.97,192.41 124.32,192.54 124.67,192.63 125.02,192.44 125.37,192.44 125.72,192.22 126.07,192.29 126.42,191.99 126.77,191.89 127.12,191.82 127.47,191.87 127.82,191.95 128.17,191.6 128.52,191.25 128.87,191.72 129.22,191.61 129.57,191.37 129.92,191.37 130.27,191.58 130.62,191.83 130.97,191.71 131.32,191.13 131.67,191.23 132.02,191.64 132.37,191.27 132.72,190.92 133.07,191.53 133.42,191.64 133.77,191.37 134.12,191.67 134.47,191.32 134.82,191.23 135.17,191.72 135.52,191.57 135.87,191.46 136.22,191.41 136.57,191.31 136.92,191.33 137.27,191.47 137.62,191.52 137.97,191.24 138.32,191.7 138.67,191.65 139.02,191.48 139.37,191.3 139.72,191.12 140.07,191.6 140.42,191.52 140.77,191.57 141.12,191.5 141.47,191.2 141.82,191.23 142.17,191.4 142.52,191.91 142.87,191.51 143.22,192.08 143.57,192.03 143.92,192.04 144.27,191.96 144.62,191.4 144.97,191.91 145.32,191.57 145.67,191.7 146.02,191.56 146.37,191.68 146.72,191.53 147.07,191.58 147.42,191.7 147.77,191.38 148.12,191.79 148.47,191.73 148.82,191.49 149.17,191.19 149.52,191.17 149.87,191.6 150.22,191.76 150.57,191.27 150.92,191.24 151.27,191.17 151.62,191.36 151.97,190.98 152.32,191.4 152.67,190.98 153.02,191.53 153.37,191.04 153.72,191.17 154.07,191.05 154.42,191.54 154.77,191.22 155.12,191.55 155.47,191.25" stroke="#a3182f" stroke-width="1.35" fill="none" stroke-linejoin="round"/>
<line x1="15.5" y1="186" x2="15.5" y2="196" stroke="#6aab3b" stroke-width="0.6"/>
<line x1="15.5" y1="184" x2="15.5" y2="196" stroke="#3db5e6" stroke-width="0.5"/>
<line x1="131.9" y1="205.5" x2="143.3" y2="205.5" stroke="#1c6fbe" stroke-width="1.1" stroke-opacity="0.85"/>
<text x="146.8" y="208.45" transform="matrix(0.93 0 0 1 10.28 0)">0.04 µM</text>
<line x1="131.9" y1="213.5" x2="143.3" y2="213.5" stroke="#e0522a" stroke-width="1.1" stroke-opacity="0.85"/>
<text x="146.8" y="216.37" transform="matrix(0.93 0 0 1 10.28 0)">0.12 µM</text>
<line x1="131.9" y1="221.5" x2="143.3" y2="221.5" stroke="#eeac1e" stroke-width="1.1" stroke-opacity="0.85"/>
<text x="146.8" y="224.29" transform="matrix(0.93 0 0 1 10.28 0)">0.37 µM</text>
<line x1="131.9" y1="229.5" x2="143.3" y2="229.5" stroke="#8a2f9f" stroke-width="1.1" stroke-opacity="0.85"/>
<text x="146.8" y="232.21" transform="matrix(0.93 0 0 1 10.28 0)">1.1 µM</text>
<line x1="131.9" y1="236.5" x2="143.3" y2="236.5" stroke="#6aab3b" stroke-width="1.1" stroke-opacity="0.85"/>
<text x="146.8" y="240.13" transform="matrix(0.93 0 0 1 10.28 0)">3.3 µM</text>
<line x1="131.9" y1="244.5" x2="143.3" y2="244.5" stroke="#3db5e6" stroke-width="1.1" stroke-opacity="0.85"/>
<text x="146.8" y="248.05" transform="matrix(0.93 0 0 1 10.28 0)">10 µM</text>
<line x1="131.9" y1="252.5" x2="143.3" y2="252.5" stroke="#a3182f" stroke-width="1.1" stroke-opacity="0.85"/>
<text x="146.8" y="255.97" transform="matrix(0.93 0 0 1 10.28 0)">30 µM</text>
<line x1="134.5" y1="277" x2="134.5" y2="294.3" stroke="#231f20" stroke-width="0.8"/>
<line x1="134.1" y1="294.5" x2="155.7" y2="294.5" stroke="#231f20" stroke-width="0.8"/>
<text x="131.4" y="289.35" text-anchor="end" transform="matrix(0.93 0 0 1 9.2 0)">250 pA</text>
<text x="145.6" y="303.65" text-anchor="middle" transform="matrix(0.93 0 0 1 10.19 0)">10 s</text>
<text x="192.4" y="177" font-weight="bold" font-size="9.4" stroke="#231f20" stroke-width="0.25" transform="matrix(1.2 0 0 1 -38.48 0)">g</text>
<text x="256.6" y="179.05" text-anchor="middle" transform="matrix(0.93 0 0 1 17.96 0)">ACh</text>
<line x1="206.1" y1="182.5" x2="307.7" y2="182.5" stroke="#333" stroke-width="0.8"/>
<path d="M308.81,191.12 309.16,191.58 309.51,191.97 309.86,191.35 310.21,191.61" stroke="#1c6fbe" stroke-width="0.95" fill="none" stroke-linejoin="round" stroke-opacity="0.85"/>
<path d="M194.9,191.17 195.25,191.17 195.6,191.17 195.95,190.46 196.3,191.01 196.65,191.24 197,190.87 197.35,191.26 197.7,190.26 198.05,190.96 198.4,190.31 198.75,190.9 199.1,190.74 199.45,190.92 199.8,191.27 200.15,191.26 200.5,191.14 200.85,190.54 201.2,190.8 201.55,190.35 201.9,191.21 202.25,191.05 202.6,190.67 202.95,191.22 203.3,191.01 203.65,190.82 204,191.1 204.35,190.94 204.7,190.46 205.05,190.76 205.4,190.26 205.75,191.39 206.1,190.59 206.45,190.9 206.8,191.16 207.15,190.49 207.5,190.8 207.58,190.8 207.66,190.8 207.74,190.8 207.82,190.8 207.9,190.8 207.98,190.81 208.06,190.81 208.14,190.81 208.22,190.82 208.3,190.82 208.38,190.82 208.46,190.83 208.54,190.83 208.62,190.84 208.7,190.84 208.78,190.85 208.86,190.85 208.94,190.86 209.02,190.86 209.1,190.87 209.18,190.88 209.26,190.88 209.34,190.89 209.42,190.9 209.5,190.9 209.58,190.91 209.66,190.92 209.74,190.93 209.82,190.93 209.9,190.94 209.98,190.95 210.06,190.96 210.14,190.97 210.22,190.98 210.3,190.98 210.38,190.99 210.46,191 210.54,191.01 210.62,191.02 210.7,191.03 210.78,191.04 210.86,191.05 210.94,191.06 211.02,191.07 211.1,191.08 211.18,191.09 211.26,191.1 211.34,191.1 211.42,191.11 211.5,191.12 211.58,191.13 211.66,191.14 211.74,191.15 211.82,191.16 211.9,191.17 211.98,191.18 212.06,191.19 212.14,191.2 212.22,191.21 212.3,191.22 212.38,191.22 212.46,191.23 212.54,191.24 212.62,191.25 212.7,191.26 212.78,191.27 212.86,191.27 212.94,191.28 213.02,191.29 213.1,191.3 213.18,191.3 213.26,191.31 213.34,191.32 213.42,191.33 213.5,191.33 213.58,191.34 213.66,191.34 213.74,191.35 213.82,191.35 213.9,191.36 213.98,191.37 214.06,191.37 214.14,191.37 214.22,191.38 214.3,191.38 214.38,191.39 214.46,191.39 214.54,191.39 214.62,191.39 214.7,191.4 214.78,191.4 214.86,191.4 214.94,191.4 215.02,191.4 215.1,191.4 215.18,191.4 215.26,191.4 215.34,191.4 215.42,191.4 215.5,191.4 215.58,191.4 215.66,191.4 215.74,191.4 215.82,191.41 215.9,191.41 215.98,191.41 216.06,191.13 216.41,191.23 216.76,190.59 217.11,190.87 217.46,191.57 217.81,191 218.16,190.85 218.51,191.46 218.86,191.16 219.21,190.97 219.56,190.86 219.91,190.68 220.26,191.06 220.61,191.12 220.96,190.67 221.31,190.65 221.66,190.94 222.01,192.32 222.36,191.53 222.71,192.27 223.06,191.94 223.41,191.63 223.76,192.04 224.11,191.77 224.46,191.32 224.81,192.44 225.16,192.26 225.51,192.62 225.86,192.5 226.21,192 226.56,192.54 226.91,192.57 227.26,192.52 227.61,191.74 227.96,192.01 228.31,192.35 228.66,191.5 229.01,191.64 229.36,192.14 229.71,192.11 230.06,192.43 230.41,191.31 230.76,192.32 231.11,192.07 231.46,191.51 231.81,191.6 232.16,191.74 232.51,192.11 232.86,192.01 233.21,191.85 233.56,191.91 233.91,191.93 234.26,191.4 234.61,192.15 234.96,191.85 235.31,191.34 235.66,192.18 236.01,191.81 236.36,192.04 236.71,191.62 237.06,191.28 237.41,192 237.76,191.17 238.11,191.85 238.46,192.08 238.81,192.13 239.16,191.39 239.51,192.36 239.86,191.67 240.21,192.34 240.56,191.32 240.91,192.1 241.26,191.77 241.61,191.71 241.96,191.21 242.31,191.67 242.66,192.5 243.01,192.12 243.36,191.94 243.71,191.9 244.06,192.34 244.41,192.05 244.76,191.95 245.11,192.36 245.46,191.66 245.81,191.89 246.16,192.23 246.51,192.26 246.86,191.53 247.21,191.61 247.56,191.67 247.91,191.45 248.26,191.8 248.61,191.83 248.96,191.67 249.31,192.12 249.66,190.94 250.01,191.5 250.36,190.78 250.71,191.62 251.06,191.07 251.41,191.96 251.76,191.43 252.11,191.29 252.46,191.66 252.81,191.84 253.16,191.07 253.51,191.91 253.86,191.43 254.21,191.81 254.56,191.42 254.91,191.15 255.26,190.74 255.61,191.1 255.96,191.39 256.31,191.03 256.66,190.87 257.01,190.65 257.36,191.36 257.71,190.58 258.06,191 258.41,191.6 258.76,191.87 259.11,190.85 259.46,190.8 259.81,190.79 260.16,192.05 260.51,191.31 260.86,191.91 261.21,191.3 261.56,192.04 261.91,191.44 262.26,192.34 262.61,191.56 262.96,192.43 263.31,192.57 263.66,191.52 264.01,191.69 264.36,191.44 264.71,191.52 265.06,192.14 265.41,191.97 265.76,191.24 266.11,191.68 266.46,190.82 266.81,191.11 267.16,191.23 267.51,191.56 267.86,191.27 268.21,191.57 268.56,191.37 268.91,191.38 269.26,191.93 269.61,191.84 269.96,192.03 270.31,191.65 270.66,191.65 271.01,190.97 271.36,191.02 271.71,190.71 272.06,190.93 272.41,191.87 272.76,191.82 273.11,192.03 273.46,191.77 273.81,191.39 274.16,191.07 274.51,191.59 274.86,192.09 275.21,191.2 275.56,190.85 275.91,191.1 276.26,191.32 276.61,191.8 276.96,192.09 277.31,192.27 277.66,191.98 278.01,192.15 278.36,191.47 278.71,192.13 279.06,191.61 279.41,192.07 279.76,191.69 280.11,190.91 280.46,191.85 280.81,191.97 281.16,191.1 281.51,191.07 281.86,191.29 282.21,191.55 282.56,191.43 282.91,191.06 283.26,191.72 283.61,190.89 283.96,191.31 284.31,191.88 284.66,191.91 285.01,191.88 285.36,191.19 285.71,191.37 286.06,191.74 286.41,191.35 286.76,191.15 287.11,190.98 287.46,191.98 287.81,192.06 288.16,191.73 288.51,191.55 288.86,191.92 289.21,191.45 289.56,192.16 289.91,192 290.26,191.89 290.61,191.93 290.96,192.03 291.31,192.24 291.66,191.56 292.01,192.34 292.36,192.45 292.71,191.6 293.06,192.26 293.41,191.95 293.76,191.61 294.11,192.27 294.46,191.59 294.81,191.85 295.16,192.44 295.51,192.11 295.86,192.24 296.21,192.52 296.56,192.22 296.91,192.16 297.26,191.6 297.61,191.72 297.96,192 298.31,192.38 298.66,192.56 299.01,191.73 299.36,192.13 299.71,192.39 300.06,192.12 300.41,191.69 300.76,191.79 301.11,191.39 301.46,191.92 301.81,191.18 302.16,192.17 302.51,192.44 302.86,191.51 303.21,191.32 303.56,191.43 303.91,191.17 304.26,191.24 304.61,191.54 304.96,191.59 305.31,191.19 305.66,191.33 306.01,191.4 306.36,192.31 306.71,192.38 307.06,191.76 307.41,191.79 307.76,192.3 308.11,191.33 308.46,191.62 308.81,191.12" stroke="#1c6fbe" stroke-width="1.45" fill="none" stroke-linejoin="round"/>
<path d="M310.21,191.61 310.56,190.79 310.91,191.78 311.26,191.14 311.61,191.1 311.96,191.52 312.31,191.64 312.66,191.44 313.01,191.33 313.36,191.42 313.71,191.07 314.06,191.14 314.41,191.82 314.76,191.43 315.11,191.52 315.46,190.91 315.81,191.36 316.16,190.52 316.51,191.24 316.86,190.71 317.21,191.46 317.56,190.3 317.91,191.4 318.26,191.26 318.61,191.26 318.96,191.05 319.31,190.25 319.66,191.07 320.01,190.65 320.36,191.8 320.71,190.85 321.06,191.2 321.41,191.61 321.76,191.12 322.11,190.34 322.46,190.22 322.81,190.95 323.16,190.61 323.51,190.39 323.86,190.96 324.21,190.55 324.56,191.04 324.91,190.85 325.26,190.86 325.61,190.99 325.96,191.21 326.31,191.42 326.66,190.68 327.01,190.97 327.36,191.62 327.71,190.6 328.06,191.35 328.41,191.02 328.76,190.38 329.11,191.13 329.46,190.22 329.81,190.02 330.16,190.57 330.51,190.94 330.86,191.12 331.21,191.14 331.56,190.67 331.91,190.99 332.26,190.36 332.61,190.67 332.96,190.57 333.31,190.17 333.66,191.04 334.01,190.95 334.36,190.69 334.71,190.64 335.06,191.39 335.41,191.14 335.76,190.87 336.11,190.63 336.46,190.38 336.81,190.39 337.16,191.16 337.51,191 337.86,190.42 338.21,190.69 338.56,191.2 338.91,191.15 339.26,190.7 339.61,190.78 339.96,191.63 340.31,191.14 340.66,190.83 341.01,190.67 341.36,190.52 341.71,190.83 342.06,190.46 342.41,190.13 342.76,190.08 343.11,190.38 343.46,190.35" stroke="#1c6fbe" stroke-width="1.45" fill="none" stroke-linejoin="round"/>
<path d="M308.81,191.99 309.16,191.5 309.51,192.24 309.86,191.48 310.21,191.4" stroke="#ec7040" stroke-width="0.95" fill="none" stroke-linejoin="round" stroke-opacity="0.85"/>
<path d="M194.9,191.21 195.25,190.71 195.6,191.32 195.95,190.26 196.3,190.76 196.65,190.52 197,190.84 197.35,190.92 197.7,191.38 198.05,190.82 198.4,190.71 198.75,191.15 199.1,190.49 199.45,191.03 199.8,190.52 200.15,190.79 200.5,191.15 200.85,190.76 201.2,190.46 201.55,190.56 201.9,190.43 202.25,190.31 202.6,190.53 202.95,190.79 203.3,190.99 203.65,190.55 204,191.34 204.35,190.39 204.7,190.61 205.05,190.57 205.4,191.28 205.75,191.33 206.1,190.25 206.45,190.92 206.8,191.34 207.15,191.29 207.5,190.8 207.58,190.8 207.66,190.8 207.74,190.8 207.82,190.81 207.9,190.81 207.98,190.81 208.06,190.82 208.14,190.82 208.22,190.83 208.3,190.83 208.38,190.84 208.46,190.84 208.54,190.85 208.62,190.86 208.7,190.87 208.78,190.88 208.86,190.89 208.94,190.9 209.02,190.91 209.1,190.92 209.18,190.93 209.26,190.94 209.34,190.95 209.42,190.96 209.5,190.97 209.58,190.99 209.66,191 209.74,191.01 209.82,191.02 209.9,191.04 209.98,191.05 210.06,191.07 210.14,191.08 210.22,191.1 210.3,191.11 210.38,191.12 210.46,191.14 210.54,191.16 210.62,191.17 210.7,191.19 210.78,191.2 210.86,191.22 210.94,191.23 211.02,191.25 211.1,191.26 211.18,191.28 211.26,191.3 211.34,191.31 211.42,191.33 211.5,191.34 211.58,191.36 211.66,191.38 211.74,191.39 211.82,191.41 211.9,191.42 211.98,191.44 212.06,191.45 212.14,191.47 212.22,191.48 212.3,191.5 212.38,191.51 212.46,191.53 212.54,191.54 212.62,191.55 212.7,191.57 212.78,191.58 212.86,191.6 212.94,191.61 213.02,191.62 213.1,191.63 213.18,191.65 213.26,191.66 213.34,191.67 213.42,191.68 213.5,191.69 213.58,191.7 213.66,191.71 213.74,191.72 213.82,191.73 213.9,191.74 213.98,191.74 214.06,191.75 214.14,191.76 214.22,191.77 214.3,191.77 214.38,191.78 214.46,191.78 214.54,191.79 214.62,191.79 214.7,191.79 214.78,191.8 214.86,191.8 214.94,191.8 215.02,191.8 215.1,191.8 215.18,191.8 215.26,191.8 215.34,191.8 215.42,191.8 215.5,191.8 215.58,191.8 215.66,191.8 215.74,191.8 215.82,191.81 215.9,191.81 215.98,191.81 216.06,191.56 216.41,192.11 216.76,191.7 217.11,191.39 217.46,191.53 217.81,191.93 218.16,191.63 218.51,191.93 218.86,191.23 219.21,192.23 219.56,191.69 219.91,190.66 220.26,191.15 220.61,191.26 220.96,191.31 221.31,191.39 221.66,191.91 222.01,190.93 222.36,191.22 222.71,190.86 223.06,191.06 223.41,191.36 223.76,191.87 224.11,191.42 224.46,192.09 224.81,192.37 225.16,192.26 225.51,191.73 225.86,191.78 226.21,192.07 226.56,191.77 226.91,191.65 227.26,191.75 227.61,191.62 227.96,191.67 228.31,191.03 228.66,191.32 229.01,191.1 229.36,191.84 229.71,192.22 230.06,191.78 230.41,192.06 230.76,192.49 231.11,191.46 231.46,192.24 231.81,191.59 232.16,191.55 232.51,191.76 232.86,191.33 233.21,192.33 233.56,191.71 233.91,192.22 234.26,191.53 234.61,192.06 234.96,192.14 235.31,191.45 235.66,191.61 236.01,191.65 236.36,191.81 236.71,191.82 237.06,191.66 237.41,191.07 237.76,191.5 238.11,191.37 238.46,191.88 238.81,191.37 239.16,192.1 239.51,191.57 239.86,192.34 240.21,191.83 240.56,191.49 240.91,192.46 241.26,191.75 241.61,192.35 241.96,192.52 242.31,192.38 242.66,191.93 243.01,191.84 243.36,192.78 243.71,191.94 244.06,192.3 244.41,191.65 244.76,191.62 245.11,192.09 245.46,192.08 245.81,191.41 246.16,191.74 246.51,191.99 246.86,192.25 247.21,191.49 247.56,191.09 247.91,190.85 248.26,191.84 248.61,190.84 248.96,190.83 249.31,191.17 249.66,191.32 250.01,190.96 250.36,191.03 250.71,191.51 251.06,191.43 251.41,191.22 251.76,191.08 252.11,191.23 252.46,191.18 252.81,191.4 253.16,192.1 253.51,192.29 253.86,192.34 254.21,192.74 254.56,192.81 254.91,192.5 255.26,192.11 255.61,191.49 255.96,192.19 256.31,192.02 256.66,191.59 257.01,191.47 257.36,192.03 257.71,192.32 258.06,191.83 258.41,191.82 258.76,192.4 259.11,192.34 259.46,191.23 259.81,191.74 260.16,192.11 260.51,192.53 260.86,192.09 261.21,192.45 261.56,191.76 261.91,191.06 262.26,191.2 262.61,192.35 262.96,191.46 263.31,191.76 263.66,191.49 264.01,191.73 264.36,191.8 264.71,191.23 265.06,191.49 265.41,191.29 265.76,191.47 266.11,191.79 266.46,191.29 266.81,191.54 267.16,191.76 267.51,191.75 267.86,192.51 268.21,192.1 268.56,192.32 268.91,192.11 269.26,192.08 269.61,191.47 269.96,191.6 270.31,191.18 270.66,191.28 271.01,191.7 271.36,191.22 271.71,191.47 272.06,191.27 272.41,191.75 272.76,191.57 273.11,191.68 273.46,191.26 273.81,191.24 274.16,191.6 274.51,191.4 274.86,192.1 275.21,192.08 275.56,191.47 275.91,191.64 276.26,191.58 276.61,191.89 276.96,191.7 277.31,192.28 277.66,192.08 278.01,192.39 278.36,192.45 278.71,191.87 279.06,192.37 279.41,192.65 279.76,192.8 280.11,192.71 280.46,192.12 280.81,192.59 281.16,191.33 281.51,191.81 281.86,192.14 282.21,191.65 282.56,191.62 282.91,191.48 283.26,191.6 283.61,191.52 283.96,191.86 284.31,192.31 284.66,192.3 285.01,192.29 285.36,191.88 285.71,192.68 286.06,192.22 286.41,192.28 286.76,192.19 287.11,191.6 287.46,191.73 287.81,191.71 288.16,192.19 288.51,191.53 288.86,192.11 289.21,191.92 289.56,192.03 289.91,192.54 290.26,191.3 290.61,191.24 290.96,191.53 291.31,192.35 291.66,191.22 292.01,191.55 292.36,191.63 292.71,191.09 293.06,191.31 293.41,191.68 293.76,191.24 294.11,191.44 294.46,192.04 294.81,192.25 295.16,191.5 295.51,192.05 295.86,191.55 296.21,191.84 296.56,192.35 296.91,192.42 297.26,191.84 297.61,192.25 297.96,192.08 298.31,192.25 298.66,191.59 299.01,191.25 299.36,191.15 299.71,191.82 300.06,191.85 300.41,191.3 300.76,191.33 301.11,191.82 301.46,192.35 301.81,191.79 302.16,192.13 302.51,192.92 302.86,192.96 303.21,192.16 303.56,192.85 303.91,192.96 304.26,192.57 304.61,192.45 304.96,192.05 305.31,191.88 305.66,192.12 306.01,192.03 306.36,192.52 306.71,192.72 307.06,192.45 307.41,192.73 307.76,191.64 308.11,192.46 308.46,192.76 308.81,191.99" stroke="#ec7040" stroke-width="1.45" fill="none" stroke-linejoin="round"/>
<path d="M310.21,191.4 310.56,191.75 310.91,191.53 311.26,191.18 311.61,191.22 311.96,191.83 312.31,191.43 312.66,191.57 313.01,190.67 313.36,191.68 313.71,191.05 314.06,190.62 314.41,191.67 314.76,190.9 315.11,191.23 315.46,191.04 315.81,191.12 316.16,191.43 316.51,191.64 316.86,191.09 317.21,190.66 317.56,191.04 317.91,191.29 318.26,190.42 318.61,191.41 318.96,190.58 319.31,190.23 319.66,191.32 320.01,190.39 320.36,191.36 320.71,191.36 321.06,190.12 321.41,191.26 321.76,190.74 322.11,190.84 322.46,191.22 322.81,191.35 323.16,190.95 323.51,191.18 323.86,190.06 324.21,190.86 324.56,191.28 324.91,191.19 325.26,190.27 325.61,191.25 325.96,190.46 326.31,190.25 326.66,190.66 327.01,191.07 327.36,190.79 327.71,190.57 328.06,189.93 328.41,190.46 328.76,190.57 329.11,190.3 329.46,191 329.81,190.94 330.16,190.33 330.51,190.56 330.86,191 331.21,191.09 331.56,191.51 331.91,191.18 332.26,191.3 332.61,190.73 332.96,191.65 333.31,191.6 333.66,190.94 334.01,190.86 334.36,190.95 334.71,190.34 335.06,190.32 335.41,190.01 335.76,191.19 336.11,190.33 336.46,190.48 336.81,190.04 337.16,190.83 337.51,190.25 337.86,190.4 338.21,190.68 338.56,190.69 338.91,191.08 339.26,190.75 339.61,191.05 339.96,190.84 340.31,191.28 340.66,190.68 341.01,190.32 341.36,190.2 341.71,190.21 342.06,190.47 342.41,191.34 342.76,190.48 343.11,190.04 343.46,190.04" stroke="#ec7040" stroke-width="1.45" fill="none" stroke-linejoin="round"/>
<path d="M308.81,193.11 309.16,191.91 309.51,192.18 309.86,190.68 310.21,190.72" stroke="#f0b020" stroke-width="0.95" fill="none" stroke-linejoin="round" stroke-opacity="0.85"/>
<path d="M194.9,190.92 195.25,190.98 195.6,190.37 195.95,191.05 196.3,190.17 196.65,191.31 197,191.21 197.35,190.81 197.7,191.39 198.05,190.88 198.4,190.85 198.75,190.2 199.1,191.42 199.45,190.93 199.8,191.07 200.15,190.28 200.5,191.44 200.85,190.28 201.2,190.69 201.55,190.41 201.9,191.43 202.25,190.75 202.6,190.76 202.95,191.16 203.3,190.47 203.65,190.6 204,190.43 204.35,190.98 204.7,190.74 205.05,190.71 205.4,191.36 205.75,191.39 206.1,191.01 206.45,190.96 206.8,190.27 207.15,190.9 207.5,190.8 207.58,190.8 207.66,190.8 207.74,190.8 207.82,190.81 207.9,190.81 207.98,190.82 208.06,190.82 208.14,190.83 208.22,190.84 208.3,190.85 208.38,190.86 208.46,190.87 208.54,190.88 208.62,190.89 208.7,190.9 208.78,190.91 208.86,190.93 208.94,190.94 209.02,190.96 209.1,190.97 209.18,190.99 209.26,191 209.34,191.02 209.42,191.04 209.5,191.06 209.58,191.08 209.66,191.09 209.74,191.11 209.82,191.13 209.9,191.15 209.98,191.17 210.06,191.2 210.14,191.22 210.22,191.24 210.3,191.26 210.38,191.28 210.46,191.3 210.54,191.33 210.62,191.35 210.7,191.37 210.78,191.4 210.86,191.42 210.94,191.44 211.02,191.47 211.1,191.49 211.18,191.51 211.26,191.54 211.34,191.56 211.42,191.58 211.5,191.61 211.58,191.63 211.66,191.66 211.74,191.68 211.82,191.7 211.9,191.73 211.98,191.75 212.06,191.77 212.14,191.79 212.22,191.82 212.3,191.84 212.38,191.86 212.46,191.88 212.54,191.9 212.62,191.92 212.7,191.94 212.78,191.97 212.86,191.99 212.94,192 213.02,192.02 213.1,192.04 213.18,192.06 213.26,192.08 213.34,192.1 213.42,192.11 213.5,192.13 213.58,192.14 213.66,192.16 213.74,192.17 213.82,192.19 213.9,192.2 213.98,192.21 214.06,192.22 214.14,192.23 214.22,192.24 214.3,192.25 214.38,192.26 214.46,192.27 214.54,192.28 214.62,192.28 214.7,192.29 214.78,192.29 214.86,192.3 214.94,192.3 215.02,192.3 215.1,192.3 215.18,192.3 215.26,192.3 215.34,192.31 215.42,192.31 215.5,192.31 215.58,192.31 215.66,192.31 215.74,192.31 215.82,192.31 215.9,192.31 215.98,192.32 216.06,193.06 216.41,193.09 216.76,192.36 217.11,192.3 217.46,192.41 217.81,192.69 218.16,192.79 218.51,192.95 218.86,191.69 219.21,192.07 219.56,192.09 219.91,192.53 220.26,192.53 220.61,192.19 220.96,191.39 221.31,192.27 221.66,191.15 222.01,191.8 222.36,192 222.71,191.99 223.06,191.7 223.41,192.03 223.76,192.1 224.11,191.65 224.46,192.31 224.81,192.22 225.16,192.93 225.51,192.26 225.86,192.95 226.21,192.53 226.56,192.72 226.91,193.09 227.26,192.64 227.61,192.59 227.96,192.68 228.31,191.86 228.66,192.49 229.01,193.1 229.36,192.15 229.71,193.14 230.06,192.58 230.41,192.43 230.76,192.42 231.11,192.01 231.46,193.29 231.81,192.59 232.16,192.33 232.51,192.38 232.86,192.73 233.21,192.35 233.56,192.93 233.91,192.68 234.26,192.54 234.61,193.07 234.96,192.55 235.31,193.35 235.66,192.91 236.01,193.2 236.36,193.14 236.71,192.35 237.06,192.7 237.41,192.95 237.76,193.34 238.11,193.31 238.46,192.77 238.81,192.5 239.16,192.74 239.51,193.04 239.86,192.61 240.21,192.29 240.56,192.79 240.91,192.29 241.26,192.8 241.61,192.02 241.96,192.6 242.31,192.08 242.66,192.28 243.01,192.92 243.36,192.31 243.71,192.27 244.06,192.34 244.41,192.18 244.76,192.6 245.11,191.83 245.46,191.94 245.81,192.22 246.16,191.79 246.51,192.09 246.86,192.47 247.21,191.81 247.56,192.34 247.91,193.06 248.26,192.19 248.61,192.5 248.96,192.88 249.31,193.02 249.66,193.48 250.01,193.09 250.36,192.17 250.71,192.44 251.06,192.44 251.41,193.03 251.76,192.04 252.11,192.39 252.46,192.76 252.81,193.07 253.16,192.07 253.51,192.38 253.86,193.3 254.21,193.03 254.56,192.71 254.91,192.21 255.26,192.58 255.61,192.52 255.96,192.36 256.31,193.56 256.66,193.56 257.01,192.97 257.36,193.49 257.71,192.98 258.06,193.02 258.41,193.36 258.76,193.17 259.11,193.49 259.46,193.18 259.81,193.3 260.16,193.82 260.51,193.77 260.86,192.9 261.21,193.71 261.56,193.24 261.91,192.57 262.26,192.52 262.61,193.11 262.96,192.52 263.31,192.9 263.66,193.75 264.01,192.86 264.36,192.82 264.71,193.28 265.06,192.71 265.41,192.98 265.76,193.46 266.11,192.83 266.46,193.62 266.81,193.47 267.16,193.18 267.51,193.02 267.86,193.16 268.21,193.26 268.56,193.17 268.91,193.4 269.26,193.25 269.61,192.81 269.96,192.93 270.31,193.2 270.66,192.34 271.01,193.08 271.36,192.8 271.71,193.11 272.06,192.33 272.41,193.3 272.76,193.36 273.11,193.13 273.46,192.78 273.81,193.29 274.16,193.97 274.51,193.83 274.86,193.5 275.21,193.05 275.56,193.23 275.91,193.23 276.26,192.69 276.61,192.89 276.96,193.42 277.31,193.52 277.66,193.83 278.01,193.34 278.36,193.34 278.71,192.83 279.06,192.65 279.41,192.54 279.76,193.22 280.11,193.13 280.46,193.86 280.81,193.19 281.16,192.79 281.51,192.68 281.86,193.22 282.21,193.71 282.56,192.76 282.91,192.7 283.26,193.13 283.61,193.25 283.96,193.3 284.31,192.93 284.66,192.73 285.01,193.63 285.36,192.39 285.71,193.31 286.06,192.45 286.41,193.6 286.76,192.95 287.11,192.51 287.46,192.91 287.81,192 288.16,192.74 288.51,192.03 288.86,192.73 289.21,192.63 289.56,192.19 289.91,192.45 290.26,192.08 290.61,191.65 290.96,192.01 291.31,191.73 291.66,192.74 292.01,192.62 292.36,192.62 292.71,193.08 293.06,192.21 293.41,192.93 293.76,191.9 294.11,192.01 294.46,192.36 294.81,192.23 295.16,191.86 295.51,191.7 295.86,192.5 296.21,193.2 296.56,193.11 296.91,192.66 297.26,193.15 297.61,192.68 297.96,192.68 298.31,192.66 298.66,192.47 299.01,192.37 299.36,193.41 299.71,192.79 300.06,192.84 300.41,193.13 300.76,192.36 301.11,193.04 301.46,192.36 301.81,193.02 302.16,192.97 302.51,192.47 302.86,192.1 303.21,192.47 303.56,193.34 303.91,193.1 304.26,192.17 304.61,193.22 304.96,192.59 305.31,193.76 305.66,193.02 306.01,192.77 306.36,192.44 306.71,192.61 307.06,192.44 307.41,193.02 307.76,193.15 308.11,192.97 308.46,192.72 308.81,193.11" stroke="#f0b020" stroke-width="1.45" fill="none" stroke-linejoin="round"/>
<path d="M310.21,190.72 310.56,191.34 310.91,191.41 311.26,191.35 311.61,190.89 311.96,190.99 312.31,190.9 312.66,191.03 313.01,190.49 313.36,190.31 313.71,190.02 314.06,190.68 314.41,191.09 314.76,190.7 315.11,191.39 315.46,191.05 315.81,190.85 316.16,190.96 316.51,190.59 316.86,190.18 317.21,190.62 317.56,190.86 317.91,191.22 318.26,190.53 318.61,190.91 318.96,190.56 319.31,190.01 319.66,191.21 320.01,191.25 320.36,191.39 320.71,191.51 321.06,191.04 321.41,191.49 321.76,191.44 322.11,191.07 322.46,191.59 322.81,191.5 323.16,190.73 323.51,191.97 323.86,191.16 324.21,191.9 324.56,191.31 324.91,191.27 325.26,191.74 325.61,191.33 325.96,191.14 326.31,190.83 326.66,191.79 327.01,191.83 327.36,191.29 327.71,191.03 328.06,191.54 328.41,190.78 328.76,190.85 329.11,190.88 329.46,190.33 329.81,190.25 330.16,190.51 330.51,191.23 330.86,190.77 331.21,190.61 331.56,190.97 331.91,190.41 332.26,191.11 332.61,190.84 332.96,190.53 333.31,189.87 333.66,190.94 334.01,190.14 334.36,189.66 334.71,190.54 335.06,190.99 335.41,190.18 335.76,191.02 336.11,190.01 336.46,191.25 336.81,191.13 337.16,190.35 337.51,190.91 337.86,190.06 338.21,191.18 338.56,191.12 338.91,191.2 339.26,191.09 339.61,190.93 339.96,190.53 340.31,191.15 340.66,191.06 341.01,190.22 341.36,191.23 341.71,191.65 342.06,191.31 342.41,191.61 342.76,190.93 343.11,190.87 343.46,190.72" stroke="#f0b020" stroke-width="1.45" fill="none" stroke-linejoin="round"/>
<path d="M308.81,193.95 309.16,193.04 309.51,191.4 309.86,190.46 310.21,189.67" stroke="#8a2f9f" stroke-width="0.95" fill="none" stroke-linejoin="round" stroke-opacity="0.85"/>
<path d="M194.9,190.97 195.25,191.16 195.6,191.32 195.95,190.95 196.3,191.22 196.65,191.49 197,191.19 197.35,191.19 197.7,190.58 198.05,190.82 198.4,191.4 198.75,191.27 199.1,190.4 199.45,191.2 199.8,191.37 200.15,191.09 200.5,190.3 200.85,191.01 201.2,190.91 201.55,190.77 201.9,190.94 202.25,191.41 202.6,190.76 202.95,191.11 203.3,191.59 203.65,190.48 204,191.53 204.35,190.36 204.7,190.5 205.05,190.49 205.4,190.63 205.75,191.11 206.1,190.91 206.45,191.48 206.8,190.54 207.15,190.23 207.5,190.8 207.58,190.8 207.66,190.8 207.74,190.81 207.82,190.81 207.9,190.81 207.98,190.82 208.06,190.83 208.14,190.84 208.22,190.85 208.3,190.86 208.38,190.87 208.46,190.88 208.54,190.9 208.62,190.91 208.7,190.93 208.78,190.94 208.86,190.96 208.94,190.98 209.02,191 209.1,191.02 209.18,191.04 209.26,191.06 209.34,191.08 209.42,191.1 209.5,191.12 209.58,191.15 209.66,191.17 209.74,191.2 209.82,191.22 209.9,191.25 209.98,191.28 210.06,191.3 210.14,191.33 210.22,191.36 210.3,191.39 210.38,191.42 210.46,191.45 210.54,191.48 210.62,191.51 210.7,191.54 210.78,191.57 210.86,191.6 210.94,191.63 211.02,191.66 211.1,191.69 211.18,191.72 211.26,191.76 211.34,191.79 211.42,191.82 211.5,191.85 211.58,191.89 211.66,191.92 211.74,191.95 211.82,191.98 211.9,192.01 211.98,192.05 212.06,192.08 212.14,192.11 212.22,192.14 212.3,192.18 212.38,192.21 212.46,192.24 212.54,192.27 212.62,192.3 212.7,192.33 212.78,192.36 212.86,192.39 212.94,192.42 213.02,192.45 213.1,192.48 213.18,192.51 213.26,192.54 213.34,192.57 213.42,192.59 213.5,192.62 213.58,192.65 213.66,192.67 213.74,192.7 213.82,192.72 213.9,192.75 213.98,192.77 214.06,192.79 214.14,192.81 214.22,192.83 214.3,192.86 214.38,192.88 214.46,192.89 214.54,192.91 214.62,192.93 214.7,192.95 214.78,192.96 214.86,192.98 214.94,192.99 215.02,193 215.1,193.02 215.18,193.03 215.26,193.04 215.34,193.05 215.42,193.07 215.5,193.08 215.58,193.09 215.66,193.1 215.74,193.11 215.82,193.13 215.9,193.14 215.98,193.15 216.06,191.94 216.41,191.7 216.76,192.98 217.11,192.08 217.46,191.98 217.81,192.18 218.16,192.69 218.51,192.93 218.86,192.59 219.21,193.7 219.56,193.56 219.91,192.8 220.26,193.79 220.61,193.72 220.96,194.37 221.31,193.01 221.66,193.48 222.01,192.9 222.36,193.52 222.71,193.47 223.06,194.86 223.41,195.15 223.76,194.79 224.11,194.16 224.46,194.38 224.81,194.07 225.16,194.54 225.51,194.84 225.86,194.83 226.21,194.52 226.56,193.63 226.91,193.39 227.26,194.11 227.61,194.91 227.96,193.34 228.31,194.72 228.66,194.15 229.01,194.56 229.36,193.09 229.71,193.34 230.06,193.9 230.41,194.55 230.76,193.91 231.11,195.38 231.46,193.76 231.81,194.34 232.16,194.84 232.51,195.04 232.86,194.43 233.21,195.18 233.56,194.68 233.91,195.93 234.26,195.19 234.61,194.74 234.96,195.55 235.31,194.21 235.66,194.05 236.01,193.99 236.36,194.44 236.71,194.41 237.06,193.78 237.41,194.96 237.76,194.59 238.11,194.48 238.46,194.89 238.81,194.49 239.16,193.8 239.51,194.25 239.86,194.47 240.21,194.97 240.56,196.1 240.91,196.23 241.26,195.19 241.61,195.51 241.96,194.66 242.31,194.4 242.66,194.78 243.01,196 243.36,196.09 243.71,195.91 244.06,195.92 244.41,196.28 244.76,195.69 245.11,196.65 245.46,196.03 245.81,196.57 246.16,196.83 246.51,195.6 246.86,196.59 247.21,196.26 247.56,196.63 247.91,196.56 248.26,195.45 248.61,195.82 248.96,195.65 249.31,195.99 249.66,194.63 250.01,195.54 250.36,195.1 250.71,195.36 251.06,196.86 251.41,196.03 251.76,197.45 252.11,197.6 252.46,197.06 252.81,196.49 253.16,196.4 253.51,195.7 253.86,196.31 254.21,196.3 254.56,195.4 254.91,196.44 255.26,196.69 255.61,196.99 255.96,197.01 256.31,197.47 256.66,196.79 257.01,196.27 257.36,196.67 257.71,196.22 258.06,197.38 258.41,195.89 258.76,196.62 259.11,197.71 259.46,196.68 259.81,195.95 260.16,196.2 260.51,195.7 260.86,196.42 261.21,196.59 261.56,196.33 261.91,196.63 262.26,195.35 262.61,195.47 262.96,195.98 263.31,194.85 263.66,195.35 264.01,194.79 264.36,195.83 264.71,195.32 265.06,195.3 265.41,195.59 265.76,195.08 266.11,194.61 266.46,195.97 266.81,195.79 267.16,194.53 267.51,194.95 267.86,194.78 268.21,195.47 268.56,194.73 268.91,194.26 269.26,194.6 269.61,195.73 269.96,196.09 270.31,194.7 270.66,194.68 271.01,195.61 271.36,195.21 271.71,195.37 272.06,195.17 272.41,195 272.76,195.85 273.11,196.02 273.46,195.92 273.81,195.38 274.16,196.17 274.51,196.56 274.86,195.84 275.21,195.71 275.56,195.9 275.91,195.58 276.26,195.93 276.61,196.26 276.96,195.68 277.31,196.71 277.66,195.84 278.01,196.18 278.36,195.22 278.71,194.99 279.06,196.63 279.41,195.16 279.76,194.94 280.11,195.15 280.46,194.75 280.81,194.71 281.16,195.57 281.51,195.63 281.86,195.22 282.21,195.47 282.56,195.74 282.91,196.22 283.26,195.42 283.61,196.75 283.96,195.98 284.31,196.96 284.66,197.4 285.01,195.71 285.36,195.57 285.71,195.46 286.06,196.29 286.41,196.32 286.76,196.43 287.11,196.96 287.46,195.89 287.81,195.95 288.16,196.53 288.51,196.09 288.86,195.95 289.21,196.11 289.56,196.7 289.91,196.95 290.26,196.65 290.61,195.89 290.96,195.87 291.31,196.17 291.66,195.99 292.01,196.58 292.36,197.02 292.71,196.29 293.06,197.03 293.41,197.66 293.76,196.78 294.11,197.15 294.46,196.38 294.81,196.84 295.16,196.07 295.51,196.23 295.86,196.85 296.21,196.05 296.56,195.51 296.91,196.45 297.26,195.22 297.61,195.77 297.96,195.86 298.31,196.28 298.66,195.07 299.01,195.47 299.36,195.34 299.71,196.9 300.06,196.91 300.41,195.59 300.76,195.96 301.11,195.38 301.46,196.44 301.81,196.39 302.16,195.11 302.51,196.28 302.86,196.45 303.21,196.66 303.56,196.99 303.91,196.38 304.26,195.55 304.61,195.22 304.96,195.78 305.31,195.24 305.66,194.53 306.01,194.89 306.36,193.95 306.71,193.87 307.06,193.74 307.41,194.3 307.76,194.42 308.11,194.52 308.46,193.77 308.81,193.95" stroke="#8a2f9f" stroke-width="1.45" fill="none" stroke-linejoin="round"/>
<path d="M310.21,189.67 310.56,189.93 310.91,189.83 311.26,189.15 311.61,190.44 311.96,189.58 312.31,190.09 312.66,189.5 313.01,190.34 313.36,190.5 313.71,189.17 314.06,189.92 314.41,189.95 314.76,188.96 315.11,189.61 315.46,189.27 315.81,189.1 316.16,188.53 316.51,189.54 316.86,189.54 317.21,189.34 317.56,188.32 317.91,189.52 318.26,188.8 318.61,189.73 318.96,189.5 319.31,189.42 319.66,190.48 320.01,189.54 320.36,188.67 320.71,189.32 321.06,189.64 321.41,190.88 321.76,191.15 322.11,191.01 322.46,191.65 322.81,191 323.16,190.31 323.51,191.58 323.86,190.42 324.21,189.61 324.56,190.81 324.91,189.81 325.26,189.84 325.61,190.44 325.96,190.24 326.31,189.49 326.66,190 327.01,189.94 327.36,190.4 327.71,190.74 328.06,189.99 328.41,189.47 328.76,189.95 329.11,190.17 329.46,190.11 329.81,189.16 330.16,189.57 330.51,190.88 330.86,189.76 331.21,189.84 331.56,189.87 331.91,190.55 332.26,190.3 332.61,191.71 332.96,190.8 333.31,191.67 333.66,190.72 334.01,190.86 334.36,191.98 334.71,191.99 335.06,191.13 335.41,191 335.76,190.76 336.11,190.75 336.46,190.73 336.81,191.36 337.16,191.96 337.51,191.1 337.86,190.69 338.21,190.73 338.56,190.69 338.91,189.43 339.26,189.86 339.61,189.83 339.96,189.45 340.31,190.13 340.66,189.3 341.01,190.59 341.36,189.57 341.71,190.07 342.06,191.18 342.41,189.38 342.76,189.56 343.11,190.68 343.46,189.57" stroke="#8a2f9f" stroke-width="1.45" fill="none" stroke-linejoin="round"/>
<path d="M308.81,221.41 309.16,210.86 309.51,203.89 309.86,198.25 310.21,194.37" stroke="#6aab3b" stroke-width="0.95" fill="none" stroke-linejoin="round" stroke-opacity="0.85"/>
<path d="M194.9,191.43 195.25,190.41 195.6,189.91 195.95,191.59 196.3,190.67 196.65,191.68 197,191.06 197.35,190.1 197.7,189.88 198.05,189.85 198.4,191.06 198.75,190.38 199.1,190.04 199.45,191.38 199.8,189.95 200.15,190.28 200.5,190.78 200.85,191.13 201.2,190.9 201.55,190.86 201.9,191.71 202.25,191.62 202.6,190.6 202.95,191.56 203.3,190.45 203.65,191.55 204,190.36 204.35,190.77 204.7,190.56 205.05,191.72 205.4,190.71 205.75,190.85 206.1,191.33 206.45,190.83 206.8,190.3 207.15,190.27 207.5,190.8 207.58,190.8 207.66,190.81 207.74,190.82 207.82,190.84 207.9,190.85 207.98,190.88 208.06,190.9 208.14,190.93 208.22,190.96 208.3,190.99 208.38,191.03 208.46,191.07 208.54,191.11 208.62,191.15 208.7,191.19 208.78,191.23 208.86,191.27 208.94,191.31 209.02,191.36 209.1,191.4 209.18,191.44 209.26,191.48 209.34,191.52 209.42,191.56 209.5,191.6 209.58,191.65 209.66,191.69 209.74,191.74 209.82,191.79 209.9,191.84 209.98,191.89 210.06,191.94 210.14,191.99 210.22,192.05 210.3,192.1 210.38,192.16 210.46,192.22 210.54,192.28 210.62,192.34 210.7,192.4 210.78,192.46 210.86,192.52 210.94,192.59 211.02,192.65 211.1,192.72 211.18,192.78 211.26,192.85 211.34,192.92 211.42,192.99 211.5,193.06 211.58,193.13 211.66,193.2 211.74,193.27 211.82,193.34 211.9,193.42 211.98,193.49 212.06,193.56 212.14,193.64 212.22,193.71 212.3,193.79 212.38,193.86 212.46,193.94 212.54,194.01 212.62,194.09 212.7,194.17 212.78,194.24 212.86,194.32 212.94,194.4 213.02,194.47 213.1,194.55 213.18,194.63 213.26,194.71 213.34,194.78 213.42,194.86 213.5,194.94 213.58,195.02 213.66,195.09 213.74,195.17 213.82,195.25 213.9,195.33 213.98,195.4 214.06,195.48 214.14,195.56 214.22,195.63 214.3,195.71 214.38,195.78 214.46,195.86 214.54,195.93 214.62,196.01 214.7,196.08 214.78,196.15 214.86,196.22 214.94,196.3 215.02,196.37 215.1,196.44 215.18,196.51 215.26,196.58 215.34,196.65 215.42,196.71 215.5,196.78 215.58,196.85 215.66,196.91 215.74,196.98 215.82,197.04 215.9,197.1 215.98,197.16 216.06,199.1 216.41,199.31 216.76,198.03 217.11,198.99 217.46,199.53 217.81,199.56 218.16,200.07 218.51,199.51 218.86,199.79 219.21,200.86 219.56,200.84 219.91,200.88 220.26,201.23 220.61,200.89 220.96,201.91 221.31,201.55 221.66,201.23 222.01,201.46 222.36,201.84 222.71,202.94 223.06,201.99 223.41,201.83 223.76,202.76 224.11,202.64 224.46,202.82 224.81,204.08 225.16,203.3 225.51,203.48 225.86,203.35 226.21,204.19 226.56,202.98 226.91,203.99 227.26,204.72 227.61,205.19 227.96,204.53 228.31,203.56 228.66,204.99 229.01,204.45 229.36,205.21 229.71,205.24 230.06,205.06 230.41,206.33 230.76,206.11 231.11,204.9 231.46,205.05 231.81,206.75 232.16,205.14 232.51,206.93 232.86,207.18 233.21,207.74 233.56,206.85 233.91,207.01 234.26,207.27 234.61,207.67 234.96,206.1 235.31,206.85 235.66,207.33 236.01,207.92 236.36,208.1 236.71,208.47 237.06,207.78 237.41,207.74 237.76,208.35 238.11,207.82 238.46,208.37 238.81,209.35 239.16,208.87 239.51,207.84 239.86,206.89 240.21,208.22 240.56,209.25 240.91,208.34 241.26,208.14 241.61,209.14 241.96,209.55 242.31,210.17 242.66,209.53 243.01,209.93 243.36,209.26 243.71,210.36 244.06,209.79 244.41,210.8 244.76,209.56 245.11,211.16 245.46,210.04 245.81,211.25 246.16,210.15 246.51,210.95 246.86,211.02 247.21,209.11 247.56,209.86 247.91,210.92 248.26,210.91 248.61,209.5 248.96,211.66 249.31,210.92 249.66,211.04 250.01,211.29 250.36,211.33 250.71,212.25 251.06,211.61 251.41,211.17 251.76,211.58 252.11,212.76 252.46,212.75 252.81,213.52 253.16,213.47 253.51,213.53 253.86,214.42 254.21,212.63 254.56,214.41 254.91,213.39 255.26,212.83 255.61,213.35 255.96,213.55 256.31,214.44 256.66,213.93 257.01,213.85 257.36,214.72 257.71,213.88 258.06,214.49 258.41,215.84 258.76,215.01 259.11,215.22 259.46,216.39 259.81,217.27 260.16,217.04 260.51,216.56 260.86,216.44 261.21,217.14 261.56,216.41 261.91,216.66 262.26,216.25 262.61,217.16 262.96,217.69 263.31,216.86 263.66,216.87 264.01,217.93 264.36,218.21 264.71,218.15 265.06,218.08 265.41,219.84 265.76,219.84 266.11,219.23 266.46,218.31 266.81,219.03 267.16,217.97 267.51,218.99 267.86,218.28 268.21,218.99 268.56,219.66 268.91,218.44 269.26,219.8 269.61,219.81 269.96,218.79 270.31,219.6 270.66,217.8 271.01,217.95 271.36,217.6 271.71,218.16 272.06,219.06 272.41,217.73 272.76,218.1 273.11,220.33 273.46,219.96 273.81,220.93 274.16,219.52 274.51,219.3 274.86,221.47 275.21,219.6 275.56,220.01 275.91,219.71 276.26,220.51 276.61,220.01 276.96,220.4 277.31,221.23 277.66,219.79 278.01,220.45 278.36,220.7 278.71,219.89 279.06,221.03 279.41,220.06 279.76,220.44 280.11,220.99 280.46,220.2 280.81,220.26 281.16,221.48 281.51,221.27 281.86,219.73 282.21,220.21 282.56,220.95 282.91,219.68 283.26,221.15 283.61,219.53 283.96,220.64 284.31,221.47 284.66,222.14 285.01,221.38 285.36,222.52 285.71,222.21 286.06,221.23 286.41,220.96 286.76,220.68 287.11,221.45 287.46,221.12 287.81,222.34 288.16,221.27 288.51,222.53 288.86,221.99 289.21,220.18 289.56,220.97 289.91,220.19 290.26,221.21 290.61,222.28 290.96,221.6 291.31,222.28 291.66,222.95 292.01,222.6 292.36,221.64 292.71,222.1 293.06,223.16 293.41,223.5 293.76,223.47 294.11,222.88 294.46,221.87 294.81,221.77 295.16,221.31 295.51,221.82 295.86,222.06 296.21,222.23 296.56,223.52 296.91,223.35 297.26,223.17 297.61,225.2 297.96,224.55 298.31,225.33 298.66,224.83 299.01,226.13 299.36,225.31 299.71,226.08 300.06,224.2 300.41,225.31 300.76,224.66 301.11,224.77 301.46,224.99 301.81,224.62 302.16,225.26 302.51,224.97 302.86,224.5 303.21,224.38 303.56,223.47 303.91,223.37 304.26,224.69 304.61,223.21 304.96,224.01 305.31,222.65 305.66,224.13 306.01,223.83 306.36,223.71 306.71,221.9 307.06,221.98 307.41,221.11 307.76,222.87 308.11,222.43 308.46,221.5 308.81,221.41" stroke="#6aab3b" stroke-width="1.45" fill="none" stroke-linejoin="round"/>
<path d="M310.21,194.37 310.56,194.02 310.91,192.3 311.26,193.41 311.61,192.54 311.96,190.47 312.31,190.76 312.66,190.83 313.01,191.96 313.36,190.7 313.71,190.3 314.06,190.3 314.41,191.31 314.76,191.43 315.11,190.4 315.46,191.16 315.81,191.22 316.16,191.51 316.51,191.29 316.86,190.73 317.21,191.84 317.56,190.71 317.91,191.05 318.26,190.85 318.61,192.22 318.96,191.63 319.31,192.12 319.66,191.65 320.01,192.07 320.36,193.09 320.71,191.58 321.06,191.66 321.41,191.47 321.76,191.42 322.11,191.11 322.46,191.33 322.81,190.51 323.16,190.58 323.51,191.93 323.86,190.39 324.21,190.48 324.56,191.68 324.91,190.92 325.26,189.75 325.61,191.46 325.96,191.53 326.31,189.6 326.66,190.45 327.01,190.23 327.36,190.01 327.71,189.14 328.06,189.51 328.41,190.43 328.76,190.07 329.11,189.26 329.46,189.39 329.81,190.11 330.16,190.17 330.51,190.84 330.86,189.55 331.21,189.54 331.56,191.07 331.91,189.82 332.26,189.64 332.61,189.69 332.96,191.32 333.31,190.74 333.66,190.88 334.01,191.5 334.36,191.69 334.71,191.69 335.06,190.22 335.41,190.64 335.76,191.3 336.11,190.7 336.46,189.66 336.81,190.51 337.16,191.34 337.51,190.2 337.86,191.54 338.21,190.08 338.56,191.47 338.91,191.3 339.26,191.77 339.61,192.25 339.96,191.8 340.31,191.26 340.66,189.9 341.01,190.09 341.36,191.06 341.71,190.61 342.06,191.42 342.41,192.14 342.76,191.65 343.11,190.35 343.46,191.53" stroke="#6aab3b" stroke-width="1.45" fill="none" stroke-linejoin="round"/>
<path d="M308.81,257.35 309.16,236.39 309.51,217.77 309.86,207.32 310.21,200.68" stroke="#3db5e6" stroke-width="0.95" fill="none" stroke-linejoin="round" stroke-opacity="0.85"/>
<path d="M194.9,190.09 195.25,190.15 195.6,191.57 195.95,191.65 196.3,189.84 196.65,191.77 197,191.56 197.35,190.65 197.7,190.24 198.05,190.61 198.4,190.57 198.75,190.87 199.1,190.45 199.45,191.79 199.8,191.73 200.15,190.05 200.5,190.82 200.85,189.84 201.2,191.79 201.55,191.21 201.9,190.92 202.25,190.18 202.6,191.51 202.95,190.58 203.3,191.36 203.65,190.77 204,190.03 204.35,190.01 204.7,190.65 205.05,191.76 205.4,190.66 205.75,190.88 206.1,190.88 206.45,191.64 206.8,191.12 207.15,190.11 207.5,190.8 207.58,190.82 207.66,190.89 207.74,191 207.82,191.15 207.9,191.34 207.98,191.56 208.06,191.8 208.14,192.08 208.22,192.37 208.3,192.69 208.38,193.02 208.46,193.37 208.54,193.72 208.62,194.08 208.7,194.45 208.78,194.82 208.86,195.18 208.94,195.54 209.02,195.89 209.1,196.23 209.18,196.55 209.26,196.86 209.34,197.14 209.42,197.43 209.5,197.71 209.58,198 209.66,198.29 209.74,198.58 209.82,198.87 209.9,199.16 209.98,199.45 210.06,199.75 210.14,200.04 210.22,200.34 210.3,200.64 210.38,200.93 210.46,201.23 210.54,201.53 210.62,201.83 210.7,202.13 210.78,202.44 210.86,202.74 210.94,203.04 211.02,203.34 211.1,203.65 211.18,203.95 211.26,204.25 211.34,204.56 211.42,204.86 211.5,205.16 211.58,205.47 211.66,205.77 211.74,206.08 211.82,206.38 211.9,206.68 211.98,206.98 212.06,207.29 212.14,207.59 212.22,207.89 212.3,208.19 212.38,208.49 212.46,208.79 212.54,209.09 212.62,209.39 212.7,209.68 212.78,209.98 212.86,210.27 212.94,210.57 213.02,210.86 213.1,211.15 213.18,211.44 213.26,211.73 213.34,212.02 213.42,212.31 213.5,212.59 213.58,212.87 213.66,213.16 213.74,213.44 213.82,213.71 213.9,213.99 213.98,214.26 214.06,214.54 214.14,214.81 214.22,215.08 214.3,215.34 214.38,215.61 214.46,215.87 214.54,216.13 214.62,216.39 214.7,216.65 214.78,216.91 214.86,217.18 214.94,217.44 215.02,217.7 215.1,217.97 215.18,218.23 215.26,218.5 215.34,218.76 215.42,219.03 215.5,219.29 215.58,219.56 215.66,219.82 215.74,220.08 215.82,220.35 215.9,220.61 215.98,220.87 216.06,219.76 216.41,221.71 216.76,222.96 217.11,224.22 217.46,224.55 217.81,226.33 218.16,227.63 218.51,229.42 218.86,228.76 219.21,230.25 219.56,231.1 219.91,231.25 220.26,231.02 220.61,232.61 220.96,233.6 221.31,234.16 221.66,234.01 222.01,234.34 222.36,236.67 222.71,237.48 223.06,238.5 223.41,237.64 223.76,239.09 224.11,238.24 224.46,238.96 224.81,239.39 225.16,239.29 225.51,239.98 225.86,240.56 226.21,241.59 226.56,242.49 226.91,241.33 227.26,243.04 227.61,241.92 227.96,241.47 228.31,242.43 228.66,243.26 229.01,242.34 229.36,242.71 229.71,244.35 230.06,243.54 230.41,244.51 230.76,244.51 231.11,245.4 231.46,244.94 231.81,246.72 232.16,246.51 232.51,247.64 232.86,247.51 233.21,247.05 233.56,247.02 233.91,247.83 234.26,248.83 234.61,247.38 234.96,248.64 235.31,249.96 235.66,249.84 236.01,251.39 236.36,250.59 236.71,251.94 237.06,253.02 237.41,251.6 237.76,252.98 238.11,252.69 238.46,253.09 238.81,254.46 239.16,253.55 239.51,254.49 239.86,254.41 240.21,254.16 240.56,255.32 240.91,254.88 241.26,254.26 241.61,255 241.96,254.57 242.31,254.78 242.66,255.38 243.01,255.44 243.36,255.75 243.71,255.31 244.06,256.31 244.41,256.33 244.76,256.9 245.11,255.59 245.46,256.82 245.81,257.35 246.16,257.45 246.51,257.35 246.86,257.92 247.21,256.49 247.56,256.88 247.91,256.38 248.26,257.97 248.61,258.47 248.96,257.38 249.31,257.39 249.66,258.2 250.01,258.52 250.36,257.64 250.71,258.35 251.06,257.77 251.41,260.08 251.76,259.92 252.11,259.99 252.46,259.07 252.81,259.37 253.16,260.82 253.51,260.51 253.86,260.58 254.21,259.72 254.56,259.87 254.91,259.61 255.26,260.38 255.61,261 255.96,260.16 256.31,260.66 256.66,260.19 257.01,260.1 257.36,259.55 257.71,259.83 258.06,260.46 258.41,261.73 258.76,259.73 259.11,260.41 259.46,259.38 259.81,260.07 260.16,259.11 260.51,258.96 260.86,259.09 261.21,259.71 261.56,258.02 261.91,258.61 262.26,259.35 262.61,257.78 262.96,257.37 263.31,259.05 263.66,257.82 264.01,258.67 264.36,257.78 264.71,257.62 265.06,258.16 265.41,258.4 265.76,257.91 266.11,259 266.46,257.99 266.81,257.65 267.16,257.48 267.51,258.1 267.86,258.93 268.21,257.14 268.56,256.6 268.91,257.3 269.26,258.09 269.61,257.79 269.96,257.58 270.31,257.95 270.66,256.26 271.01,256.38 271.36,257.17 271.71,256.72 272.06,256.6 272.41,257.13 272.76,256.63 273.11,256.38 273.46,257.77 273.81,256.89 274.16,257.86 274.51,256.78 274.86,256.52 275.21,256.6 275.56,256.56 275.91,256.68 276.26,257.33 276.61,256.49 276.96,255.93 277.31,256.29 277.66,257.11 278.01,257.05 278.36,256.04 278.71,255.49 279.06,256.37 279.41,257.24 279.76,255.71 280.11,257.32 280.46,257.55 280.81,256.34 281.16,255.61 281.51,256.96 281.86,255.69 282.21,256.82 282.56,256.37 282.91,255.61 283.26,256.07 283.61,255.98 283.96,256.02 284.31,255.75 284.66,256.5 285.01,254.45 285.36,254.3 285.71,254.59 286.06,255.67 286.41,254.69 286.76,255.63 287.11,254.69 287.46,256.69 287.81,256.85 288.16,256 288.51,255.98 288.86,256.58 289.21,257.87 289.56,257.53 289.91,257.32 290.26,256.24 290.61,256.84 290.96,255.83 291.31,256.34 291.66,255.52 292.01,256.64 292.36,256.81 292.71,254.8 293.06,255.8 293.41,256.58 293.76,255.47 294.11,255.81 294.46,256.9 294.81,256.02 295.16,255.87 295.51,256.98 295.86,255.28 296.21,256.94 296.56,257.43 296.91,256.7 297.26,256.68 297.61,257.32 297.96,255.55 298.31,255.77 298.66,255.77 299.01,255.91 299.36,256.56 299.71,257.16 300.06,256.12 300.41,256.82 300.76,257 301.11,255.27 301.46,255.71 301.81,256.34 302.16,255.23 302.51,254.57 302.86,254.58 303.21,256.04 303.56,254.41 303.91,255.39 304.26,255.35 304.61,256.56 304.96,256.75 305.31,256.77 305.66,255.91 306.01,255.61 306.36,256.66 306.71,257.11 307.06,257.28 307.41,255.66 307.76,255.39 308.11,256.44 308.46,257.06 308.81,257.35" stroke="#3db5e6" stroke-width="1.45" fill="none" stroke-linejoin="round"/>
<path d="M310.21,200.68 310.56,197.48 310.91,196.6 311.26,192.87 311.61,193.35 311.96,190.67 312.31,191.64 312.66,191.74 313.01,191.07 313.36,191.48 313.71,191.05 314.06,192.2 314.41,191.92 314.76,190.53 315.11,191.13 315.46,190.23 315.81,189.23 316.16,190.95 316.51,189.23 316.86,189.22 317.21,190.08 317.56,189.51 317.91,189.77 318.26,191.22 318.61,191.62 318.96,191.55 319.31,190.68 319.66,190.84 320.01,191.29 320.36,190.58 320.71,189.79 321.06,190.28 321.41,189.22 321.76,189.83 322.11,190.39 322.46,189.9 322.81,188.51 323.16,189.43 323.51,188.5 323.86,188.46 324.21,190 324.56,188.49 324.91,189.24 325.26,189.31 325.61,189.83 325.96,190.42 326.31,189.91 326.66,191.01 327.01,189.55 327.36,190.25 327.71,190.95 328.06,190.1 328.41,190.47 328.76,190.17 329.11,190.76 329.46,190.78 329.81,190.53 330.16,191.22 330.51,191.72 330.86,189.89 331.21,190.58 331.56,190.61 331.91,191.53 332.26,191.1 332.61,191.66 332.96,190.24 333.31,191.35 333.66,190.78 334.01,190.48 334.36,190.49 334.71,190.07 335.06,189.26 335.41,190.93 335.76,190.36 336.11,190.6 336.46,191.15 336.81,191.08 337.16,190.19 337.51,189.53 337.86,190.78 338.21,190.14 338.56,189.96 338.91,190.37 339.26,190.63 339.61,190.8 339.96,189.74 340.31,191.06 340.66,190.6 341.01,191.05 341.36,190.19 341.71,190.71 342.06,190.4 342.41,192.17 342.76,192.12 343.11,190.45 343.46,191.47" stroke="#3db5e6" stroke-width="1.45" fill="none" stroke-linejoin="round"/>
<path d="M207.5,190.8 207.58,190.98 207.66,191.52 207.74,192.37 207.82,193.51 207.9,194.91 207.98,196.54 208.06,198.37 208.14,200.37 208.22,202.51 208.3,204.76 208.38,207.09 208.46,209.47 208.54,211.88 208.62,214.27 208.7,216.62 208.78,218.9 208.86,221.09 208.94,223.14 209.02,225.04 209.1,226.75 209.18,228.24 209.26,229.48 209.34,230.48 209.42,231.42 209.5,232.34 209.58,233.23 209.66,234.1 209.74,234.95 209.82,235.78 209.9,236.59 209.98,237.38 210.06,238.15 210.14,238.9 210.22,239.63 210.3,240.35 210.38,241.05 210.46,241.73 210.54,242.4 210.62,243.05 210.7,243.69 210.78,244.31 210.86,244.93 210.94,245.53 211.02,246.11 211.1,246.69 211.18,247.26 211.26,247.82 211.34,248.36 211.42,248.9 211.5,249.43 211.58,249.96 211.66,250.48 211.74,250.99 211.82,251.49 211.9,251.99 211.98,252.49 212.06,252.99 212.14,253.48 212.22,253.97 212.3,254.45 212.38,254.94 212.46,255.42 212.54,255.91 212.62,256.4 212.7,256.89 212.78,257.38 212.86,257.87 212.94,258.37 213.02,258.87 213.1,259.38 213.18,259.89 213.26,260.41 213.34,260.93 213.42,261.46 213.5,262" stroke="#a3182f" stroke-width="0.95" fill="none" stroke-linejoin="round" stroke-opacity="0.85"/>
<path d="M308.81,265.46 309.16,242.95 309.51,220.42 309.86,209.96 310.21,200.62" stroke="#a3182f" stroke-width="0.95" fill="none" stroke-linejoin="round" stroke-opacity="0.85"/>
<path d="M194.9,190.81 195.25,191.05 195.6,191.29 195.95,191.3 196.3,190.19 196.65,190.11 197,190.8 197.35,191.51 197.7,190.89 198.05,190.4 198.4,191.54 198.75,190.83 199.1,190.73 199.45,191.3 199.8,191.14 200.15,190.54 200.5,190.19 200.85,190.11 201.2,190.89 201.55,190.23 201.9,190.74 202.25,190.25 202.6,190.92 202.95,191.25 203.3,190.07 203.65,190.27 204,190.57 204.35,190.93 204.7,190.92 205.05,191.1 205.4,191.34 205.75,190.06 206.1,191.35 206.45,191.39 206.8,191.12 207.15,190.95 207.5,190.8" stroke="#a3182f" stroke-width="1.6" fill="none" stroke-linejoin="round"/>
<path d="M213.5,262 213.58,262.54 213.66,263.09 213.74,263.64 213.82,264.2 213.9,264.75 213.98,265.31 214.06,265.87 214.14,266.43 214.22,267 214.3,267.56 214.38,268.12 214.46,268.69 214.54,269.25 214.62,269.82 214.7,270.38 214.78,270.94 214.86,271.5 214.94,272.06 215.02,272.62 215.1,273.18 215.18,273.73 215.26,274.29 215.34,274.83 215.42,275.38 215.5,275.92 215.58,276.46 215.66,276.99 215.74,277.52 215.82,278.05 215.9,278.57 215.98,279.09 216.06,278.76 216.41,281.85 216.76,283.86 217.11,286.02 217.46,287.26 217.81,290.05 218.16,291.14 218.51,292.23 218.86,291.99 219.21,293.29 219.56,295.38 219.91,294.96 220.26,295.5 220.61,296.77 220.96,297.7 221.31,298.52 221.66,298.14 222.01,298.77 222.36,299.38 222.71,300.79 223.06,300.61 223.41,300.32 223.76,300.63 224.11,300.74 224.46,301.35 224.81,302.19 225.16,303.6 225.51,302.62 225.86,303.9 226.21,303.26 226.56,304.58 226.91,303.79 227.26,305.2 227.61,305.18 227.96,304.83 228.31,303.3 228.66,302.93 229.01,302.81 229.36,302.69 229.71,303.63 230.06,303 230.41,303.21 230.76,302.51 231.11,303.41 231.46,302.29 231.81,302.29 232.16,301.44 232.51,301.18 232.86,299.98 233.21,300.71 233.56,299.91 233.91,298.38 234.26,299.36 234.61,298.94 234.96,298.3 235.31,298.43 235.66,297.63 236.01,297.26 236.36,296.21 236.71,296.5 237.06,296.78 237.41,296.24 237.76,295.66 238.11,295.16 238.46,296.21 238.81,295.22 239.16,294.35 239.51,295.08 239.86,292.78 240.21,293.3 240.56,291.76 240.91,290.83 241.26,290.64 241.61,290.17 241.96,289.36 242.31,289.56 242.66,289.1 243.01,288.55 243.36,288.11 243.71,288.89 244.06,288.79 244.41,286.67 244.76,286.78 245.11,287.1 245.46,286.23 245.81,285.59 246.16,285.72 246.51,285.04 246.86,284.3 247.21,285.02 247.56,284.86 247.91,283.68 248.26,283.8 248.61,282.01 248.96,282.46 249.31,281.79 249.66,282.41 250.01,282.02 250.36,280.96 250.71,280.76 251.06,280.28 251.41,280.18 251.76,279.94 252.11,279.03 252.46,278.59 252.81,279.63 253.16,278.03 253.51,276.91 253.86,277.75 254.21,276.86 254.56,275.9 254.91,275.63 255.26,276.85 255.61,275.8 255.96,276.48 256.31,275.54 256.66,275.11 257.01,275.52 257.36,275.68 257.71,275.07 258.06,274.69 258.41,275.36 258.76,273.56 259.11,273.31 259.46,273.69 259.81,274.26 260.16,273.99 260.51,274.9 260.86,274.64 261.21,274.72 261.56,273.5 261.91,273.4 262.26,273.63 262.61,272.86 262.96,273.07 263.31,272.77 263.66,272.97 264.01,273.36 264.36,272.24 264.71,272.3 265.06,272.65 265.41,271.6 265.76,270.99 266.11,270.95 266.46,271.18 266.81,271.08 267.16,272.03 267.51,270.23 267.86,270.05 268.21,271.08 268.56,270.55 268.91,269.35 269.26,270.91 269.61,270.22 269.96,269.33 270.31,268.8 270.66,270.3 271.01,269.18 271.36,270.95 271.71,270.46 272.06,269.96 272.41,269.1 272.76,269.09 273.11,269.83 273.46,270.32 273.81,269.62 274.16,270.67 274.51,269.6 274.86,269.77 275.21,270.16 275.56,270.7 275.91,269.28 276.26,269.23 276.61,269.53 276.96,270.8 277.31,270.95 277.66,270.63 278.01,269.59 278.36,269.78 278.71,269.77 279.06,269.14 279.41,269.38 279.76,268.58 280.11,268.85 280.46,269.27 280.81,268.72 281.16,268.22 281.51,268.81 281.86,268.02 282.21,269.26 282.56,268.86 282.91,269.11 283.26,268.24 283.61,268.9 283.96,268.97 284.31,269.34 284.66,268.49 285.01,269.5 285.36,269.5 285.71,269.84 286.06,268.9 286.41,268.43 286.76,268.68 287.11,269.16 287.46,268.52 287.81,267.96 288.16,269.3 288.51,269.79 288.86,268.82 289.21,269.85 289.56,270.04 289.91,269.85 290.26,269.02 290.61,269.07 290.96,269.21 291.31,269.5 291.66,269.15 292.01,269.47 292.36,267.65 292.71,267.77 293.06,267.65 293.41,267.75 293.76,268.48 294.11,268.4 294.46,267.56 294.81,267.98 295.16,267.43 295.51,267.83 295.86,267.88 296.21,267.33 296.56,268.18 296.91,267.82 297.26,269.57 297.61,269.09 297.96,268.56 298.31,268.18 298.66,268.68 299.01,267.03 299.36,267.15 299.71,268.27 300.06,267.07 300.41,267.4 300.76,266.89 301.11,267.39 301.46,266.11 301.81,267.56 302.16,267.2 302.51,267.87 302.86,266.82 303.21,267.22 303.56,267.46 303.91,267.61 304.26,267.16 304.61,267.85 304.96,267.41 305.31,267.57 305.66,266.45 306.01,265.76 306.36,265.23 306.71,264.89 307.06,265.07 307.41,265.85 307.76,265.93 308.11,266.75 308.46,267.12 308.81,265.46" stroke="#a3182f" stroke-width="1.6" fill="none" stroke-linejoin="round"/>
<path d="M310.21,200.62 310.56,198.33 310.91,195.88 311.26,192.38 311.61,191.81 311.96,190.57 312.31,190.5 312.66,190.61 313.01,190.45 313.36,189.96 313.71,190.52 314.06,189.77 314.41,189.48 314.76,189.78 315.11,189.24 315.46,189.41 315.81,188.96 316.16,188.95 316.51,189.67 316.86,189.69 317.21,189.69 317.56,191.17 317.91,190.69 318.26,190.37 318.61,190.24 318.96,191.34 319.31,191.38 319.66,190.37 320.01,190.94 320.36,191.2 320.71,191.39 321.06,191.45 321.41,190.87 321.76,190.15 322.11,190.99 322.46,191.38 322.81,190.43 323.16,191.72 323.51,190.64 323.86,191.61 324.21,191.47 324.56,191.67 324.91,191.8 325.26,191.61 325.61,191.12 325.96,190.77 326.31,190.64 326.66,191.63 327.01,192.35 327.36,191.2 327.71,191.15 328.06,192.31 328.41,191.35 328.76,191.98 329.11,191.46 329.46,192.49 329.81,190.61 330.16,190.75 330.51,191.98 330.86,191.71 331.21,190.56 331.56,190.85 331.91,192.02 332.26,190.65 332.61,190.69 332.96,190.92 333.31,190.39 333.66,189.15 334.01,189.56 334.36,190.75 334.71,190.07 335.06,189.97 335.41,190.33 335.76,190.96 336.11,189.97 336.46,190.6 336.81,190.96 337.16,190.19 337.51,190.76 337.86,191.25 338.21,190.37 338.56,190.92 338.91,190.23 339.26,190.76 339.61,191.2 339.96,189.3 340.31,190.99 340.66,189.62 341.01,189.83 341.36,191 341.71,189.61 342.06,190.43 342.41,190.91 342.76,190.56 343.11,190.18 343.46,189.5" stroke="#a3182f" stroke-width="1.6" fill="none" stroke-linejoin="round"/>
<line x1="205.5" y1="191" x2="205.5" y2="242" stroke="#f2a68a" stroke-width="0.7"/>
<line x1="206.5" y1="178" x2="206.5" y2="192" stroke="#9fd8f2" stroke-width="0.8"/>
<line x1="308.5" y1="178" x2="308.5" y2="192" stroke="#c79ad6" stroke-width="0.8"/>
<line x1="258.5" y1="192" x2="258.5" y2="196.5" stroke="#1c6fbe" stroke-width="0.6"/>
<line x1="294.5" y1="192" x2="294.5" y2="201.5" stroke="#1c6fbe" stroke-width="0.6"/>
<line x1="327" y1="205.5" x2="339" y2="205.5" stroke="#1c6fbe" stroke-width="1.1" stroke-opacity="0.85"/>
<text x="342.6" y="208.65" transform="matrix(0.93 0 0 1 23.98 0)">1 µM</text>
<line x1="327" y1="213.5" x2="339" y2="213.5" stroke="#ec7040" stroke-width="1.1" stroke-opacity="0.85"/>
<text x="342.6" y="216.68" transform="matrix(0.93 0 0 1 23.98 0)">4 µM</text>
<line x1="327" y1="221.5" x2="339" y2="221.5" stroke="#f0b020" stroke-width="1.1" stroke-opacity="0.85"/>
<text x="342.6" y="224.71" transform="matrix(0.93 0 0 1 23.98 0)">12 µM</text>
<line x1="327" y1="229.5" x2="339" y2="229.5" stroke="#8a2f9f" stroke-width="1.1" stroke-opacity="0.85"/>
<text x="342.6" y="232.74" transform="matrix(0.93 0 0 1 23.98 0)">37 µM</text>
<line x1="327" y1="237.5" x2="339" y2="237.5" stroke="#6aab3b" stroke-width="1.1" stroke-opacity="0.85"/>
<text x="342.6" y="240.77" transform="matrix(0.93 0 0 1 23.98 0)">111 µM</text>
<line x1="327" y1="245.5" x2="339" y2="245.5" stroke="#3db5e6" stroke-width="1.1" stroke-opacity="0.85"/>
<text x="342.6" y="248.8" transform="matrix(0.93 0 0 1 23.98 0)">333 µM</text>
<line x1="327" y1="253.5" x2="339" y2="253.5" stroke="#a3182f" stroke-width="1.1" stroke-opacity="0.85"/>
<text x="342.6" y="256.83" transform="matrix(0.93 0 0 1 23.98 0)">1,000 µM</text>
<line x1="333.5" y1="278.8" x2="333.5" y2="294.2" stroke="#231f20" stroke-width="0.8"/>
<line x1="333.4" y1="294.5" x2="350.5" y2="294.5" stroke="#231f20" stroke-width="0.8"/>
<text x="330.2" y="289.45" text-anchor="end" transform="matrix(0.93 0 0 1 23.11 0)">100 pA</text>
<text x="341.3" y="303.65" text-anchor="middle" transform="matrix(0.93 0 0 1 23.89 0)">10 s</text>
<text x="392.6" y="177.8" font-weight="bold" font-size="9.4" stroke="#231f20" stroke-width="0.25" transform="matrix(1.2 0 0 1 -78.52 0)">h</text>
<line x1="420.5" y1="191.8" x2="420.5" y2="285.8" stroke="#a8a8a8" stroke-width="0.7"/>
<line x1="420.9" y1="192.5" x2="423" y2="192.5" stroke="#a8a8a8" stroke-width="0.6"/>
<text x="416.5" y="195.15" text-anchor="end" transform="matrix(0.93 0 0 1 29.15 0)">1.0</text>
<line x1="420.9" y1="210.5" x2="423" y2="210.5" stroke="#a8a8a8" stroke-width="0.6"/>
<text x="416.5" y="213.91" text-anchor="end" transform="matrix(0.93 0 0 1 29.15 0)">0.8</text>
<line x1="420.9" y1="229.5" x2="423" y2="229.5" stroke="#a8a8a8" stroke-width="0.6"/>
<text x="416.5" y="232.67" text-anchor="end" transform="matrix(0.93 0 0 1 29.15 0)">0.6</text>
<line x1="420.9" y1="248.5" x2="423" y2="248.5" stroke="#a8a8a8" stroke-width="0.6"/>
<text x="416.5" y="251.43" text-anchor="end" transform="matrix(0.93 0 0 1 29.15 0)">0.4</text>
<line x1="420.9" y1="267.5" x2="423" y2="267.5" stroke="#a8a8a8" stroke-width="0.6"/>
<text x="416.5" y="270.19" text-anchor="end" transform="matrix(0.93 0 0 1 29.15 0)">0.2</text>
<line x1="420.9" y1="285.5" x2="423" y2="285.5" stroke="#a8a8a8" stroke-width="0.6"/>
<text x="416.5" y="288.95" text-anchor="end" transform="matrix(0.93 0 0 1 29.15 0)">0</text>
<line x1="420.9" y1="285.5" x2="511" y2="285.5" stroke="#a8a8a8" stroke-width="0.7"/>
<line x1="420.5" y1="285.8" x2="420.5" y2="283.6" stroke="#a8a8a8" stroke-width="0.5"/>
<line x1="429.5" y1="285.8" x2="429.5" y2="284.3" stroke="#a8a8a8" stroke-width="0.5"/>
<line x1="434.5" y1="285.8" x2="434.5" y2="284.3" stroke="#a8a8a8" stroke-width="0.5"/>
<line x1="438.5" y1="285.8" x2="438.5" y2="284.3" stroke="#a8a8a8" stroke-width="0.5"/>
<line x1="441.5" y1="285.8" x2="441.5" y2="284.3" stroke="#a8a8a8" stroke-width="0.5"/>
<line x1="443.5" y1="285.8" x2="443.5" y2="284.3" stroke="#a8a8a8" stroke-width="0.5"/>
<line x1="445.5" y1="285.8" x2="445.5" y2="284.3" stroke="#a8a8a8" stroke-width="0.5"/>
<line x1="447.5" y1="285.8" x2="447.5" y2="284.3" stroke="#a8a8a8" stroke-width="0.5"/>
<line x1="449.5" y1="285.8" x2="449.5" y2="284.3" stroke="#a8a8a8" stroke-width="0.5"/>
<line x1="450.5" y1="285.8" x2="450.5" y2="283.6" stroke="#a8a8a8" stroke-width="0.5"/>
<line x1="459.5" y1="285.8" x2="459.5" y2="284.3" stroke="#a8a8a8" stroke-width="0.5"/>
<line x1="464.5" y1="285.8" x2="464.5" y2="284.3" stroke="#a8a8a8" stroke-width="0.5"/>
<line x1="468.5" y1="285.8" x2="468.5" y2="284.3" stroke="#a8a8a8" stroke-width="0.5"/>
<line x1="471.5" y1="285.8" x2="471.5" y2="284.3" stroke="#a8a8a8" stroke-width="0.5"/>
<line x1="473.5" y1="285.8" x2="473.5" y2="284.3" stroke="#a8a8a8" stroke-width="0.5"/>
<line x1="475.5" y1="285.8" x2="475.5" y2="284.3" stroke="#a8a8a8" stroke-width="0.5"/>
<line x1="477.5" y1="285.8" x2="477.5" y2="284.3" stroke="#a8a8a8" stroke-width="0.5"/>
<line x1="478.5" y1="285.8" x2="478.5" y2="284.3" stroke="#a8a8a8" stroke-width="0.5"/>
<line x1="480.5" y1="285.8" x2="480.5" y2="283.6" stroke="#a8a8a8" stroke-width="0.5"/>
<line x1="489.5" y1="285.8" x2="489.5" y2="284.3" stroke="#a8a8a8" stroke-width="0.5"/>
<line x1="494.5" y1="285.8" x2="494.5" y2="284.3" stroke="#a8a8a8" stroke-width="0.5"/>
<line x1="498.5" y1="285.8" x2="498.5" y2="284.3" stroke="#a8a8a8" stroke-width="0.5"/>
<line x1="501.5" y1="285.8" x2="501.5" y2="284.3" stroke="#a8a8a8" stroke-width="0.5"/>
<line x1="503.5" y1="285.8" x2="503.5" y2="284.3" stroke="#a8a8a8" stroke-width="0.5"/>
<line x1="505.5" y1="285.8" x2="505.5" y2="284.3" stroke="#a8a8a8" stroke-width="0.5"/>
<line x1="507.5" y1="285.8" x2="507.5" y2="284.3" stroke="#a8a8a8" stroke-width="0.5"/>
<line x1="508.5" y1="285.8" x2="508.5" y2="284.3" stroke="#a8a8a8" stroke-width="0.5"/>
<line x1="510.5" y1="285.8" x2="510.5" y2="283.6" stroke="#a8a8a8" stroke-width="0.5"/>
<text x="420.6" y="296.55" text-anchor="middle" transform="matrix(0.93 0 0 1 29.44 0)">0.1</text>
<text x="450.4" y="296.55" text-anchor="middle" transform="matrix(0.93 0 0 1 31.53 0)">1</text>
<text x="480.2" y="296.55" text-anchor="middle" transform="matrix(0.93 0 0 1 33.61 0)">10</text>
<text x="510" y="296.55" text-anchor="middle" transform="matrix(0.93 0 0 1 35.7 0)">100</text>
<text x="465.7" y="307.75" text-anchor="middle" transform="matrix(0.93 0 0 1 32.6 0)">Cocaine (µM)</text>
<text x="395.2" y="242.25" text-anchor="middle" transform="rotate(-90 395.2 239.1) matrix(0.93 0 0 1 27.66 0)">Normalized response</text>
<rect x="432.82" y="277.9" width="7.2" height="7.2" fill="#f1c07a" stroke="#6a5a48" stroke-width="0.6"/>
<line x1="436.5" y1="279.9" x2="436.5" y2="283.1" stroke="#222" stroke-width="0.6"/>
<line x1="435.42" y1="279.5" x2="437.42" y2="279.5" stroke="#222" stroke-width="0.6"/>
<line x1="435.42" y1="283.5" x2="437.42" y2="283.5" stroke="#222" stroke-width="0.6"/>
<rect x="448.4" y="278.6" width="7.2" height="7.2" fill="#f1c07a" stroke="#6a5a48" stroke-width="0.6"/>
<line x1="452.5" y1="281.6" x2="452.5" y2="282.8" stroke="#222" stroke-width="0.6"/>
<line x1="451" y1="281.5" x2="453" y2="281.5" stroke="#222" stroke-width="0.6"/>
<line x1="451" y1="282.5" x2="453" y2="282.5" stroke="#222" stroke-width="0.6"/>
<rect x="462.62" y="279.6" width="7.2" height="7.2" fill="#f1c07a" stroke="#6a5a48" stroke-width="0.6"/>
<line x1="466.5" y1="282.2" x2="466.5" y2="284.2" stroke="#222" stroke-width="0.6"/>
<line x1="465.22" y1="282.5" x2="467.22" y2="282.5" stroke="#222" stroke-width="0.6"/>
<line x1="465.22" y1="284.5" x2="467.22" y2="284.5" stroke="#222" stroke-width="0.6"/>
<rect x="478.2" y="278.9" width="7.2" height="7.2" fill="#f1c07a" stroke="#6a5a48" stroke-width="0.6"/>
<line x1="481.5" y1="281.9" x2="481.5" y2="283.1" stroke="#222" stroke-width="0.6"/>
<line x1="480.8" y1="281.5" x2="482.8" y2="281.5" stroke="#222" stroke-width="0.6"/>
<line x1="480.8" y1="283.5" x2="482.8" y2="283.5" stroke="#222" stroke-width="0.6"/>
<rect x="492.42" y="278.2" width="7.2" height="7.2" fill="#f1c07a" stroke="#6a5a48" stroke-width="0.6"/>
<line x1="496.5" y1="281" x2="496.5" y2="282.6" stroke="#222" stroke-width="0.6"/>
<line x1="495.02" y1="281.5" x2="497.02" y2="281.5" stroke="#222" stroke-width="0.6"/>
<line x1="495.02" y1="282.5" x2="497.02" y2="282.5" stroke="#222" stroke-width="0.6"/>
<rect x="508" y="276" width="7.2" height="7.2" fill="#f1c07a" stroke="#6a5a48" stroke-width="0.6"/>
<line x1="511.5" y1="278.2" x2="511.5" y2="281" stroke="#222" stroke-width="0.6"/>
<line x1="510.6" y1="278.5" x2="512.6" y2="278.5" stroke="#222" stroke-width="0.6"/>
<line x1="510.6" y1="281.5" x2="512.6" y2="281.5" stroke="#222" stroke-width="0.6"/>
<path d="M420.6,281.87 421.11,281.79 421.62,281.7 422.12,281.6 422.63,281.5 423.14,281.39 423.65,281.27 424.15,281.14 424.66,281.01 425.17,280.86 425.68,280.71 426.18,280.54 426.69,280.36 427.2,280.17 427.71,279.97 428.21,279.75 428.72,279.51 429.23,279.26 429.74,279 430.24,278.71 430.75,278.41 431.26,278.08 431.77,277.73 432.27,277.36 432.78,276.97 433.29,276.55 433.8,276.11 434.31,275.63 434.81,275.13 435.32,274.59 435.83,274.02 436.34,273.42 436.84,272.79 437.35,272.12 437.86,271.41 438.37,270.66 438.87,269.87 439.38,269.04 439.89,268.17 440.4,267.25 440.9,266.29 441.41,265.29 441.92,264.24 442.43,263.15 442.93,262.01 443.44,260.83 443.95,259.61 444.46,258.35 444.96,257.04 445.47,255.7 445.98,254.31 446.49,252.9 446.99,251.45 447.5,249.97 448.01,248.46 448.52,246.93 449.03,245.38 449.53,243.81 450.04,242.24 450.55,240.65 451.06,239.06 451.56,237.47 452.07,235.88 452.58,234.31 453.09,232.74 453.59,231.19 454.1,229.66 454.61,228.16 455.12,226.68 455.62,225.24 456.13,223.82 456.64,222.44 457.15,221.1 457.65,219.8 458.16,218.54 458.67,217.32 459.18,216.14 459.68,215.01 460.19,213.93 460.7,212.88 461.21,211.88 461.72,210.93 462.22,210.02 462.73,209.15 463.24,208.32 463.75,207.54 464.25,206.79 464.76,206.09 465.27,205.42 465.78,204.79 466.28,204.19 466.79,203.62 467.3,203.09 467.81,202.59 468.31,202.12 468.82,201.68 469.33,201.26 469.84,200.87 470.34,200.5 470.85,200.16 471.36,199.83 471.87,199.53 472.37,199.25 472.88,198.98 473.39,198.73 473.9,198.5 474.4,198.28 474.91,198.08 475.42,197.89 475.93,197.71 476.44,197.55 476.94,197.39 477.45,197.25 477.96,197.11 478.47,196.99 478.97,196.87 479.48,196.76 479.99,196.66 480.5,196.56 481,196.48 481.51,196.39 482.02,196.32 482.53,196.24 483.03,196.18 483.54,196.12 484.05,196.06 484.56,196 485.06,195.95 485.57,195.91 486.08,195.86 486.59,195.82 487.09,195.79 487.6,195.75 488.11,195.72 488.62,195.69 489.13,195.66 489.63,195.63 490.14,195.61 490.65,195.59 491.16,195.57 491.66,195.55 492.17,195.53 492.68,195.51 493.19,195.49 493.69,195.48 494.2,195.47 494.71,195.45 495.22,195.44" stroke="#111" stroke-width="1" fill="none" stroke-linejoin="round"/>
<circle cx="420.6" cy="281.7" r="3.5" fill="#000" stroke="none" stroke-width="0.7"/>
<circle cx="434.82" cy="275.4" r="3.5" fill="#000" stroke="none" stroke-width="0.7"/>
<circle cx="450.4" cy="239.6" r="3.5" fill="#000" stroke="none" stroke-width="0.7"/>
<circle cx="464.62" cy="204.3" r="3.5" fill="#000" stroke="none" stroke-width="0.7"/>
<circle cx="480.2" cy="193.5" r="3.5" fill="#000" stroke="none" stroke-width="0.7"/>
<circle cx="494.42" cy="196.7" r="3.5" fill="#000" stroke="none" stroke-width="0.7"/>
<line x1="450.9" y1="236" x2="451.4" y2="232.5" stroke="#000" stroke-width="0.6"/>
<line x1="539.5" y1="191.8" x2="539.5" y2="285.9" stroke="#a8a8a8" stroke-width="0.7"/>
<line x1="539" y1="192.5" x2="541.1" y2="192.5" stroke="#a8a8a8" stroke-width="0.6"/>
<text x="534.4" y="195.15" text-anchor="end" transform="matrix(0.93 0 0 1 37.41 0)">1.0</text>
<line x1="539" y1="210.5" x2="541.1" y2="210.5" stroke="#a8a8a8" stroke-width="0.6"/>
<text x="534.4" y="213.91" text-anchor="end" transform="matrix(0.93 0 0 1 37.41 0)">0.8</text>
<line x1="539" y1="229.5" x2="541.1" y2="229.5" stroke="#a8a8a8" stroke-width="0.6"/>
<text x="534.4" y="232.67" text-anchor="end" transform="matrix(0.93 0 0 1 37.41 0)">0.6</text>
<line x1="539" y1="248.5" x2="541.1" y2="248.5" stroke="#a8a8a8" stroke-width="0.6"/>
<text x="534.4" y="251.43" text-anchor="end" transform="matrix(0.93 0 0 1 37.41 0)">0.4</text>
<line x1="539" y1="267.5" x2="541.1" y2="267.5" stroke="#a8a8a8" stroke-width="0.6"/>
<text x="534.4" y="270.19" text-anchor="end" transform="matrix(0.93 0 0 1 37.41 0)">0.2</text>
<line x1="539" y1="285.5" x2="541.1" y2="285.5" stroke="#a8a8a8" stroke-width="0.6"/>
<text x="534.4" y="288.95" text-anchor="end" transform="matrix(0.93 0 0 1 37.41 0)">0</text>
<line x1="539" y1="285.5" x2="629" y2="285.5" stroke="#a8a8a8" stroke-width="0.7"/>
<line x1="551.5" y1="285.9" x2="551.5" y2="283.7" stroke="#a8a8a8" stroke-width="0.6"/>
<line x1="577.5" y1="285.9" x2="577.5" y2="283.7" stroke="#a8a8a8" stroke-width="0.6"/>
<line x1="603.5" y1="285.9" x2="603.5" y2="283.7" stroke="#a8a8a8" stroke-width="0.6"/>
<line x1="628.5" y1="285.9" x2="628.5" y2="283.7" stroke="#a8a8a8" stroke-width="0.6"/>
<text x="551.5" y="296.45" text-anchor="middle" transform="matrix(0.93 0 0 1 38.6 0)">1</text>
<text x="577.3" y="296.45" text-anchor="middle" transform="matrix(0.93 0 0 1 40.41 0)">10</text>
<text x="603.1" y="296.45" text-anchor="middle" transform="matrix(0.93 0 0 1 42.22 0)">100</text>
<text x="628.9" y="296.45" text-anchor="middle" transform="matrix(0.93 0 0 1 44.02 0)">1,000</text>
<text x="583.6" y="308.15" text-anchor="middle" transform="matrix(0.93 0 0 1 40.85 0)">ACh (µM)</text>
<rect x="539.1" y="267.4" width="7.2" height="7.2" fill="#f1c07a" stroke="#6a5a48" stroke-width="0.6"/>
<line x1="542.5" y1="266" x2="542.5" y2="276" stroke="#222" stroke-width="0.6"/>
<line x1="541.7" y1="266.5" x2="543.7" y2="266.5" stroke="#222" stroke-width="0.6"/>
<line x1="541.7" y1="276.5" x2="543.7" y2="276.5" stroke="#222" stroke-width="0.6"/>
<rect x="551.2" y="266.5" width="7.2" height="7.2" fill="#f1c07a" stroke="#6a5a48" stroke-width="0.6"/>
<line x1="554.5" y1="264.9" x2="554.5" y2="275.3" stroke="#222" stroke-width="0.6"/>
<line x1="553.8" y1="264.5" x2="555.8" y2="264.5" stroke="#222" stroke-width="0.6"/>
<line x1="553.8" y1="275.5" x2="555.8" y2="275.5" stroke="#222" stroke-width="0.6"/>
<rect x="563.3" y="249.5" width="7.2" height="7.2" fill="#f1c07a" stroke="#6a5a48" stroke-width="0.6"/>
<line x1="566.5" y1="251.1" x2="566.5" y2="255.1" stroke="#222" stroke-width="0.6"/>
<line x1="565.9" y1="251.5" x2="567.9" y2="251.5" stroke="#222" stroke-width="0.6"/>
<line x1="565.9" y1="255.5" x2="567.9" y2="255.5" stroke="#222" stroke-width="0.6"/>
<rect x="575.1" y="215.4" width="7.2" height="7.2" fill="#f1c07a" stroke="#6a5a48" stroke-width="0.6"/>
<line x1="578.5" y1="214.5" x2="578.5" y2="223.5" stroke="#222" stroke-width="0.6"/>
<line x1="577.7" y1="214.5" x2="579.7" y2="214.5" stroke="#222" stroke-width="0.6"/>
<line x1="577.7" y1="223.5" x2="579.7" y2="223.5" stroke="#222" stroke-width="0.6"/>
<rect x="587.4" y="192" width="7.2" height="7.2" fill="#f1c07a" stroke="#6a5a48" stroke-width="0.6"/>
<line x1="591.5" y1="193.1" x2="591.5" y2="198.1" stroke="#222" stroke-width="0.6"/>
<line x1="590" y1="193.5" x2="592" y2="193.5" stroke="#222" stroke-width="0.6"/>
<line x1="590" y1="198.5" x2="592" y2="198.5" stroke="#222" stroke-width="0.6"/>
<rect x="599.1" y="188.9" width="7.2" height="7.2" fill="#f1c07a" stroke="#6a5a48" stroke-width="0.6"/>
<path d="M542.3,270.48 542.74,270.46 543.18,270.43 543.62,270.4 544.06,270.37 544.5,270.33 544.94,270.3 545.38,270.26 545.82,270.21 546.26,270.17 546.7,270.12 547.14,270.06 547.57,270 548.01,269.94 548.45,269.87 548.89,269.8 549.33,269.71 549.77,269.63 550.21,269.53 550.65,269.43 551.09,269.33 551.53,269.21 551.97,269.08 552.41,268.95 552.85,268.8 553.29,268.64 553.73,268.47 554.17,268.29 554.61,268.09 555.05,267.88 555.48,267.65 555.92,267.4 556.36,267.14 556.8,266.86 557.24,266.55 557.68,266.23 558.12,265.88 558.56,265.5 559,265.1 559.44,264.67 559.88,264.22 560.32,263.73 560.76,263.21 561.2,262.65 561.64,262.06 562.08,261.43 562.52,260.77 562.96,260.06 563.4,259.31 563.83,258.52 564.27,257.68 564.71,256.81 565.15,255.88 565.59,254.91 566.03,253.89 566.47,252.83 566.91,251.71 567.35,250.56 567.79,249.36 568.23,248.11 568.67,246.82 569.11,245.49 569.55,244.13 569.99,242.73 570.43,241.29 570.87,239.83 571.31,238.35 571.74,236.84 572.18,235.32 572.62,233.78 573.06,232.24 573.5,230.7 573.94,229.15 574.38,227.62 574.82,226.09 575.26,224.58 575.7,223.1 576.14,221.63 576.58,220.2 577.02,218.79 577.46,217.42 577.9,216.09 578.34,214.8 578.78,213.55 579.22,212.34 579.66,211.18 580.09,210.07 580.53,209 580.97,207.98 581.41,207 581.85,206.07 582.29,205.19 582.73,204.35 583.17,203.55 583.61,202.8 584.05,202.09 584.49,201.42 584.93,200.79 585.37,200.19 585.81,199.64 586.25,199.11 586.69,198.62 587.13,198.16 587.57,197.73 588,197.33 588.44,196.95 588.88,196.6 589.32,196.27 589.76,195.96 590.2,195.68 590.64,195.41 591.08,195.17 591.52,194.94 591.96,194.72 592.4,194.52 592.84,194.34 593.28,194.17 593.72,194.01 594.16,193.86 594.6,193.72 595.04,193.6 595.48,193.48 595.92,193.37 596.35,193.27 596.79,193.17 597.23,193.08 597.67,193 598.11,192.93 598.55,192.86 598.99,192.8 599.43,192.74 599.87,192.68 600.31,192.63 600.75,192.58 601.19,192.54 601.63,192.5 602.07,192.46 602.51,192.43 602.95,192.39 603.39,192.37 603.83,192.34 604.26,192.31" stroke="#111" stroke-width="1" fill="none" stroke-linejoin="round"/>
<path d="M566.16,277.7 566.6,277.62 567.04,277.55 567.48,277.46 567.92,277.38 568.36,277.28 568.8,277.18 569.24,277.07 569.68,276.96 570.11,276.84 570.55,276.71 570.99,276.57 571.43,276.42 571.87,276.27 572.31,276.1 572.75,275.92 573.19,275.73 573.63,275.53 574.07,275.32 574.51,275.09 574.95,274.85 575.39,274.59 575.83,274.32 576.27,274.03 576.71,273.72 577.15,273.4 577.59,273.05 578.03,272.69 578.46,272.3 578.9,271.89 579.34,271.46 579.78,271 580.22,270.52 580.66,270.01 581.1,269.47 581.54,268.91 581.98,268.31 582.42,267.68 582.86,267.03 583.3,266.34 583.74,265.61 584.18,264.86 584.62,264.06 585.06,263.24 585.5,262.37 585.94,261.47 586.37,260.54 586.81,259.57 587.25,258.56 587.69,257.52 588.13,256.44 588.57,255.33 589.01,254.19 589.45,253.01 589.89,251.8 590.33,250.56 590.77,249.3 591.21,248 591.65,246.69 592.09,245.35 592.53,244 592.97,242.63 593.41,241.24 593.85,239.85 594.29,238.45 594.72,237.04 595.16,235.63 595.6,234.23 596.04,232.83 596.48,231.44 596.92,230.06 597.36,228.69 597.8,227.34 598.24,226.01 598.68,224.7 599.12,223.42 599.56,222.16 600,220.93 600.44,219.73 600.88,218.57 601.32,217.43 601.76,216.33 602.2,215.26 602.63,214.23 603.07,213.24 603.51,212.28 603.95,211.35 604.39,210.46 604.83,209.61 605.27,208.8 605.71,208.02 606.15,207.27 606.59,206.56 607.03,205.88 607.47,205.23 607.91,204.61 608.35,204.03 608.79,203.47 609.23,202.94 609.67,202.44 610.11,201.96 610.55,201.51 610.98,201.09 611.42,200.69 611.86,200.31 612.3,199.95 612.74,199.61 613.18,199.29 613.62,198.99 614.06,198.7 614.5,198.44 614.94,198.18 615.38,197.95 615.82,197.72 616.26,197.51 616.7,197.32 617.14,197.13 617.58,196.96 618.02,196.79 618.46,196.64 618.89,196.5 619.33,196.36 619.77,196.23 620.21,196.11 620.65,196 621.09,195.9 621.53,195.8 621.97,195.71 622.41,195.62 622.85,195.54 623.29,195.46 623.73,195.39 624.17,195.33 624.61,195.26 625.05,195.2 625.49,195.15 625.93,195.1 626.37,195.05 626.81,195 627.24,194.96 627.68,194.92 628.12,194.89 628.56,194.85" stroke="#111" stroke-width="1" fill="none" stroke-linejoin="round"/>
<circle cx="567.03" cy="277.8" r="3.5" fill="#000" stroke="none" stroke-width="0.7"/>
<line x1="579.5" y1="265.7" x2="579.5" y2="276.7" stroke="#000" stroke-width="0.6"/>
<line x1="578.34" y1="265.5" x2="580.34" y2="265.5" stroke="#000" stroke-width="0.6"/>
<line x1="578.34" y1="276.5" x2="580.34" y2="276.5" stroke="#000" stroke-width="0.6"/>
<circle cx="579.34" cy="271.2" r="3.5" fill="#000" stroke="none" stroke-width="0.7"/>
<line x1="591.5" y1="241.4" x2="591.5" y2="253" stroke="#000" stroke-width="0.6"/>
<line x1="590.96" y1="241.5" x2="592.96" y2="241.5" stroke="#000" stroke-width="0.6"/>
<line x1="590.96" y1="253.5" x2="592.96" y2="253.5" stroke="#000" stroke-width="0.6"/>
<circle cx="591.96" cy="247.2" r="3.5" fill="#000" stroke="none" stroke-width="0.7"/>
<line x1="604.5" y1="213.3" x2="604.5" y2="225.3" stroke="#000" stroke-width="0.6"/>
<line x1="603.27" y1="213.5" x2="605.27" y2="213.5" stroke="#000" stroke-width="0.6"/>
<line x1="603.27" y1="225.5" x2="605.27" y2="225.5" stroke="#000" stroke-width="0.6"/>
<circle cx="604.27" cy="219.3" r="3.5" fill="#000" stroke="none" stroke-width="0.7"/>
<circle cx="616.58" cy="194.1" r="3.5" fill="#000" stroke="none" stroke-width="0.7"/>
<circle cx="628.9" cy="198" r="3.5" fill="#000" stroke="none" stroke-width="0.7"/>
<rect x="631.7" y="248.2" width="7.6" height="7.6" fill="#f1c07a" stroke="#6a5a48" stroke-width="0.6"/>
<text x="643.1" y="254.45" transform="matrix(0.93 0 0 1 45.02 0)">α7–GlyR</text>
<circle cx="635.5" cy="265.2" r="3.75" fill="#000" stroke="none" stroke-width="0.7"/>
<text x="643" y="268.05" transform="matrix(0.93 0 0 1 45.01 0)">Coca-GlyR</text>
<text x="3.2" y="332.1" font-weight="bold" font-size="9.4" stroke="#231f20" stroke-width="0.25" transform="matrix(1.2 0 0 1 -0.64 0)">i</text>
<text x="32.8" y="340.35" transform="matrix(0.93 0 0 1 2.3 0)">No cocaine</text>
<text x="123.5" y="340.55" transform="matrix(0.93 0 0 1 8.64 0)">Cocaine (10 µM)</text>
<path d="M11.3,443.4 14,443.18 17,443.02 20,443.17 23,443.01 26,443.11 28.6,443.17 29.3,442.8 29.6,430 29.8,426.5 30,400 30.2,340.1 30.55,392 30.85,417.3 31.1,420.3 31.46,415.8 32.25,416.1 32.6,400 32.8,345.2 33.15,392 33.45,415.5 33.7,418.5 34.06,414.1 34.85,414.3 35.2,400 35.4,347.1 35.75,392 36.05,413.8 36.3,416.8 36.78,413.1 37.85,412.6 38.2,400 38.4,349.7 38.75,392 39.05,412.8 39.3,415.8 39.81,412.3 40.95,411.6 41.3,400 41.5,352.2 41.85,392 42.15,412 42.4,415 43,411.7 44.35,410.8 44.7,400 44.9,353.6 45.25,392 45.55,411.4 45.8,414.4 46.61,411.3 48.45,410.2 48.8,400 49,354.3 49.35,392 49.65,411 49.9,414 50.71,411.1 52.55,409.8 52.9,400 53.1,354.6 53.45,392 53.75,410.8 54,413.8 54.93,411.1 57.05,409.6 57.4,400 57.6,355 57.95,392 58.25,410.8 58.5,413.8 59.4,410.9 61.45,409.6 61.8,400 62,356 62.35,392 62.65,410.6 62.9,413.6 63.8,410.8 65.85,409.4 66.2,400 66.4,356.5 66.75,392 67.05,410.5 67.3,413.5 68,411.8 69,410.8 70.6,411 71.1,414.5 71.5,424 71.9,433 72.5,438 73.5,440.5 75,441.7 77.5,442.6 82,443.2 87,443.6 93.5,443.8" stroke="#1e1e1e" stroke-width="1.3" fill="none" stroke-linejoin="round"/>
<path d="M12.2,462.7 29.1,462.7 29.1,451.5 71.5,451.5 71.5,462.7 92.7,462.7" stroke="#1e1e1e" stroke-width="0.9" fill="none" stroke-linejoin="round"/>
<text x="28.4" y="438.65" text-anchor="end" transform="matrix(0.93 0 0 1 1.99 0)">–64 mV</text>
<text x="28.4" y="461.15" text-anchor="end" transform="matrix(0.93 0 0 1 1.99 0)">120 pA</text>
<line x1="102.5" y1="392.2" x2="102.5" y2="414" stroke="#1e1e1e" stroke-width="0.8"/>
<line x1="102.1" y1="414.5" x2="113.4" y2="414.5" stroke="#1e1e1e" stroke-width="0.8"/>
<text x="99.8" y="405.35" text-anchor="end" transform="matrix(0.93 0 0 1 6.99 0)">20 mV</text>
<text x="107.8" y="423.45" text-anchor="middle" transform="matrix(0.93 0 0 1 7.55 0)">0.1 s</text>
<path d="M116,442.8 119,442.96 122,442.78 125,442.92 128,442.77 131,442.76 134,442.86 134.6,441.6 135.3,440.1 137,439.5 145,438.3 155,437.1 165,436.2 172,435.6 177.1,435.1 177.8,436.5 178.4,437.6 180,438.2 185,438.8 190,439.2 196,439.6 202.8,439.9" stroke="#1e1e1e" stroke-width="1.4" fill="none" stroke-linejoin="round"/>
<path d="M117.3,463 134.8,463 134.8,451.3 178.7,451.3 178.7,463 202.8,463" stroke="#1e1e1e" stroke-width="0.9" fill="none" stroke-linejoin="round"/>
<text x="137.4" y="438.45" text-anchor="end" transform="matrix(0.93 0 0 1 9.62 0)">–64 mV</text>
<text x="133.8" y="460.85" text-anchor="end" transform="matrix(0.93 0 0 1 9.37 0)">120 pA</text>
<text x="208.8" y="332.6" font-weight="bold" font-size="9.4" stroke="#231f20" stroke-width="0.25" transform="matrix(1.2 0 0 1 -41.76 0)">j</text>
<circle cx="249.1" cy="340.5" r="3.4" fill="#000" stroke="none" stroke-width="0.7"/>
<text x="257.6" y="343.65" transform="matrix(0.93 0 0 1 18.03 0)">Coca-GlyR</text>
<circle cx="313.3" cy="340.3" r="3.1" fill="#fff" stroke="#000" stroke-width="0.8"/>
<text x="321.7" y="343.45" transform="matrix(0.93 0 0 1 22.52 0)">Control</text>
<line x1="238.5" y1="346.8" x2="238.5" y2="444.9" stroke="#777" stroke-width="0.7"/>
<line x1="238.5" y1="444.5" x2="240.6" y2="444.5" stroke="#777" stroke-width="0.6"/>
<text x="236.2" y="447.85" text-anchor="end" transform="matrix(0.93 0 0 1 16.53 0)">0</text>
<line x1="238.5" y1="428.5" x2="240.6" y2="428.5" stroke="#777" stroke-width="0.6"/>
<text x="236.2" y="431.6" text-anchor="end" transform="matrix(0.93 0 0 1 16.53 0)">20</text>
<line x1="238.5" y1="412.5" x2="240.6" y2="412.5" stroke="#777" stroke-width="0.6"/>
<text x="236.2" y="415.35" text-anchor="end" transform="matrix(0.93 0 0 1 16.53 0)">40</text>
<line x1="238.5" y1="395.5" x2="240.6" y2="395.5" stroke="#777" stroke-width="0.6"/>
<text x="236.2" y="399.1" text-anchor="end" transform="matrix(0.93 0 0 1 16.53 0)">60</text>
<line x1="238.5" y1="379.5" x2="240.6" y2="379.5" stroke="#777" stroke-width="0.6"/>
<text x="236.2" y="382.85" text-anchor="end" transform="matrix(0.93 0 0 1 16.53 0)">80</text>
<line x1="238.5" y1="363.5" x2="240.6" y2="363.5" stroke="#777" stroke-width="0.6"/>
<text x="236.2" y="366.6" text-anchor="end" transform="matrix(0.93 0 0 1 16.53 0)">100</text>
<line x1="238.5" y1="347.5" x2="240.6" y2="347.5" stroke="#777" stroke-width="0.6"/>
<text x="236.2" y="350.35" text-anchor="end" transform="matrix(0.93 0 0 1 16.53 0)">120</text>
<line x1="242.3" y1="445.5" x2="327" y2="445.5" stroke="#777" stroke-width="0.7"/>
<line x1="246.5" y1="445.2" x2="246.5" y2="443" stroke="#777" stroke-width="0.5"/>
<line x1="251.5" y1="445.2" x2="251.5" y2="443" stroke="#777" stroke-width="0.5"/>
<line x1="255.5" y1="445.2" x2="255.5" y2="443" stroke="#777" stroke-width="0.5"/>
<line x1="258.5" y1="445.2" x2="258.5" y2="443" stroke="#777" stroke-width="0.5"/>
<line x1="261.5" y1="445.2" x2="261.5" y2="443" stroke="#777" stroke-width="0.5"/>
<line x1="263.5" y1="445.2" x2="263.5" y2="443" stroke="#777" stroke-width="0.5"/>
<line x1="265.5" y1="445.2" x2="265.5" y2="443" stroke="#777" stroke-width="0.5"/>
<line x1="267.5" y1="445.2" x2="267.5" y2="443" stroke="#777" stroke-width="0.5"/>
<line x1="279.5" y1="445.2" x2="279.5" y2="443" stroke="#777" stroke-width="0.5"/>
<line x1="285.5" y1="445.2" x2="285.5" y2="443" stroke="#777" stroke-width="0.5"/>
<line x1="290.5" y1="445.2" x2="290.5" y2="443" stroke="#777" stroke-width="0.5"/>
<line x1="294.5" y1="445.2" x2="294.5" y2="443" stroke="#777" stroke-width="0.5"/>
<line x1="297.5" y1="445.2" x2="297.5" y2="443" stroke="#777" stroke-width="0.5"/>
<line x1="300.5" y1="445.2" x2="300.5" y2="443" stroke="#777" stroke-width="0.5"/>
<line x1="302.5" y1="445.2" x2="302.5" y2="443" stroke="#777" stroke-width="0.5"/>
<line x1="304.5" y1="445.2" x2="304.5" y2="443" stroke="#777" stroke-width="0.5"/>
<line x1="306.5" y1="445.2" x2="306.5" y2="443" stroke="#777" stroke-width="0.5"/>
<line x1="318.5" y1="445.2" x2="318.5" y2="443" stroke="#777" stroke-width="0.5"/>
<line x1="325.5" y1="445.2" x2="325.5" y2="443" stroke="#777" stroke-width="0.5"/>
<text x="246.65" y="456.05" text-anchor="middle" transform="matrix(0.93 0 0 1 17.27 0)">0.3</text>
<text x="267.2" y="456.05" text-anchor="middle" transform="matrix(0.93 0 0 1 18.7 0)">1</text>
<text x="285.95" y="456.05" text-anchor="middle" transform="matrix(0.93 0 0 1 20.02 0)">3</text>
<text x="306.5" y="456.05" text-anchor="middle" transform="matrix(0.93 0 0 1 21.45 0)">10</text>
<text x="325.25" y="456.05" text-anchor="middle" transform="matrix(0.93 0 0 1 22.77 0)">30</text>
<text x="344.6" y="456.05" text-anchor="middle" transform="matrix(0.93 0 0 1 24.12 0)">WASH</text>
<text x="285.8" y="466.85" text-anchor="middle" transform="matrix(0.93 0 0 1 20.01 0)">Cocaine (µM)</text>
<text x="213" y="399.15" text-anchor="middle" transform="rotate(-90 213 396) matrix(0.93 0 0 1 14.91 0)">Input resistance (%)</text>
<path d="M244.8,361.8 267.2,361.6 285.95,361 306.5,360.1 325.25,361.6 347,364.8" stroke="#111" stroke-width="1.3" fill="none" stroke-linejoin="round"/>
<path d="M249.7,361.5 267.2,378.4 285.95,408.7 306.5,426.7 325.25,435.4 346.1,361" stroke="#111" stroke-width="1.3" fill="none" stroke-linejoin="round"/>
<circle cx="244.8" cy="361.8" r="3.4" fill="#fff" stroke="#000" stroke-width="0.85"/>
<line x1="244.5" y1="359.1" x2="244.5" y2="364.5" stroke="#000" stroke-width="0.5"/>
<line x1="244.8" y1="359.5" x2="244.8" y2="359.5" stroke="#000" stroke-width="0.5"/>
<line x1="244.8" y1="364.5" x2="244.8" y2="364.5" stroke="#000" stroke-width="0.5"/>
<line x1="242.4" y1="361.5" x2="247.2" y2="361.5" stroke="#000" stroke-width="0.5"/>
<circle cx="267.2" cy="361.6" r="3.4" fill="#fff" stroke="#000" stroke-width="0.85"/>
<line x1="267.5" y1="359.1" x2="267.5" y2="364.1" stroke="#000" stroke-width="0.5"/>
<line x1="267.2" y1="359.5" x2="267.2" y2="359.5" stroke="#000" stroke-width="0.5"/>
<line x1="267.2" y1="364.5" x2="267.2" y2="364.5" stroke="#000" stroke-width="0.5"/>
<line x1="264.8" y1="361.5" x2="269.6" y2="361.5" stroke="#000" stroke-width="0.5"/>
<circle cx="285.95" cy="361" r="3.4" fill="#fff" stroke="#000" stroke-width="0.85"/>
<line x1="285.5" y1="358.1" x2="285.5" y2="363.9" stroke="#000" stroke-width="0.5"/>
<line x1="285.95" y1="358.5" x2="285.95" y2="358.5" stroke="#000" stroke-width="0.5"/>
<line x1="285.95" y1="363.5" x2="285.95" y2="363.5" stroke="#000" stroke-width="0.5"/>
<line x1="283.55" y1="361.5" x2="288.35" y2="361.5" stroke="#000" stroke-width="0.5"/>
<circle cx="306.5" cy="360.1" r="3.4" fill="#fff" stroke="#000" stroke-width="0.85"/>
<line x1="306.5" y1="356" x2="306.5" y2="364.2" stroke="#000" stroke-width="0.5"/>
<line x1="306.5" y1="356.5" x2="306.5" y2="356.5" stroke="#000" stroke-width="0.5"/>
<line x1="306.5" y1="364.5" x2="306.5" y2="364.5" stroke="#000" stroke-width="0.5"/>
<line x1="304.1" y1="360.5" x2="308.9" y2="360.5" stroke="#000" stroke-width="0.5"/>
<circle cx="325.25" cy="361.6" r="3.4" fill="#fff" stroke="#000" stroke-width="0.85"/>
<line x1="325.5" y1="358.7" x2="325.5" y2="364.5" stroke="#000" stroke-width="0.5"/>
<line x1="325.25" y1="358.5" x2="325.25" y2="358.5" stroke="#000" stroke-width="0.5"/>
<line x1="325.25" y1="364.5" x2="325.25" y2="364.5" stroke="#000" stroke-width="0.5"/>
<line x1="322.85" y1="361.5" x2="327.65" y2="361.5" stroke="#000" stroke-width="0.5"/>
<circle cx="347" cy="364.8" r="3.4" fill="#fff" stroke="#000" stroke-width="0.85"/>
<line x1="347.5" y1="361.8" x2="347.5" y2="367.8" stroke="#000" stroke-width="0.5"/>
<line x1="347" y1="361.5" x2="347" y2="361.5" stroke="#000" stroke-width="0.5"/>
<line x1="347" y1="367.5" x2="347" y2="367.5" stroke="#000" stroke-width="0.5"/>
<line x1="344.6" y1="364.5" x2="349.4" y2="364.5" stroke="#000" stroke-width="0.5"/>
<circle cx="249.7" cy="361.5" r="3.6" fill="#000" stroke="none" stroke-width="0.7"/>
<line x1="267.5" y1="371.2" x2="267.5" y2="385.4" stroke="#000" stroke-width="0.6"/>
<line x1="266.2" y1="371.5" x2="268.2" y2="371.5" stroke="#000" stroke-width="0.6"/>
<line x1="266.2" y1="385.5" x2="268.2" y2="385.5" stroke="#000" stroke-width="0.6"/>
<circle cx="267.2" cy="378.4" r="3.6" fill="#000" stroke="none" stroke-width="0.7"/>
<line x1="285.5" y1="399.4" x2="285.5" y2="418" stroke="#000" stroke-width="0.6"/>
<line x1="284.95" y1="399.5" x2="286.95" y2="399.5" stroke="#000" stroke-width="0.6"/>
<line x1="284.95" y1="418.5" x2="286.95" y2="418.5" stroke="#000" stroke-width="0.6"/>
<circle cx="285.95" cy="408.7" r="3.6" fill="#000" stroke="none" stroke-width="0.7"/>
<circle cx="306.5" cy="426.7" r="3.6" fill="#000" stroke="none" stroke-width="0.7"/>
<circle cx="325.25" cy="435.4" r="3.6" fill="#000" stroke="none" stroke-width="0.7"/>
<line x1="346.5" y1="354.2" x2="346.5" y2="367" stroke="#000" stroke-width="0.6"/>
<line x1="345.1" y1="354.5" x2="347.1" y2="354.5" stroke="#000" stroke-width="0.6"/>
<line x1="345.1" y1="367.5" x2="347.1" y2="367.5" stroke="#000" stroke-width="0.6"/>
<circle cx="346.1" cy="361" r="3.6" fill="#000" stroke="none" stroke-width="0.7"/>
<text x="361.4" y="332.8" font-weight="bold" font-size="9.4" stroke="#231f20" stroke-width="0.25" transform="matrix(1.2 0 0 1 -72.28 0)">k</text>
<line x1="384.5" y1="346.3" x2="384.5" y2="443.4" stroke="#8a8a8a" stroke-width="0.7"/>
<line x1="384.8" y1="443.5" x2="386.9" y2="443.5" stroke="#8a8a8a" stroke-width="0.6"/>
<text x="380.5" y="446.55" text-anchor="end" transform="matrix(0.93 0 0 1 26.63 0)">0</text>
<line x1="384.8" y1="424.5" x2="386.9" y2="424.5" stroke="#8a8a8a" stroke-width="0.6"/>
<text x="380.5" y="427.15" text-anchor="end" transform="matrix(0.93 0 0 1 26.63 0)">1</text>
<line x1="384.8" y1="404.5" x2="386.9" y2="404.5" stroke="#8a8a8a" stroke-width="0.6"/>
<text x="380.5" y="407.75" text-anchor="end" transform="matrix(0.93 0 0 1 26.63 0)">2</text>
<line x1="384.8" y1="385.5" x2="386.9" y2="385.5" stroke="#8a8a8a" stroke-width="0.6"/>
<text x="380.5" y="388.35" text-anchor="end" transform="matrix(0.93 0 0 1 26.63 0)">3</text>
<line x1="384.8" y1="365.5" x2="386.9" y2="365.5" stroke="#8a8a8a" stroke-width="0.6"/>
<text x="380.5" y="368.95" text-anchor="end" transform="matrix(0.93 0 0 1 26.63 0)">4</text>
<line x1="384.8" y1="346.5" x2="386.9" y2="346.5" stroke="#8a8a8a" stroke-width="0.6"/>
<text x="380.5" y="349.55" text-anchor="end" transform="matrix(0.93 0 0 1 26.63 0)">5</text>
<line x1="384.8" y1="443.5" x2="478.4" y2="443.5" stroke="#8a8a8a" stroke-width="0.7"/>
<text x="365" y="397.25" text-anchor="middle" transform="rotate(-90 365 394.1) matrix(0.93 0 0 1 25.55 0)">Rheobase (fold change)</text>
<line x1="402.5" y1="399.4" x2="402.5" y2="406.2" stroke="#000" stroke-width="0.8"/>
<line x1="400.7" y1="399.5" x2="403.5" y2="399.5" stroke="#000" stroke-width="0.8"/>
<line x1="400.7" y1="406.5" x2="403.5" y2="406.5" stroke="#000" stroke-width="0.8"/>
<rect x="394.2" y="406.2" width="15.8" height="37.2" fill="#000" stroke="none" stroke-width="0.7"/>
<line x1="420.5" y1="419.5" x2="420.5" y2="421.9" stroke="#000" stroke-width="0.8"/>
<line x1="418.6" y1="419.5" x2="421.4" y2="419.5" stroke="#000" stroke-width="0.8"/>
<line x1="418.6" y1="421.5" x2="421.4" y2="421.5" stroke="#000" stroke-width="0.8"/>
<rect x="412.8" y="422.2" width="14.6" height="21" fill="#fff" stroke="#000" stroke-width="0.9"/>
<line x1="451.5" y1="406.2" x2="451.5" y2="411" stroke="#000" stroke-width="0.8"/>
<line x1="449.6" y1="406.5" x2="452.4" y2="406.5" stroke="#000" stroke-width="0.8"/>
<line x1="449.6" y1="411.5" x2="452.4" y2="411.5" stroke="#000" stroke-width="0.8"/>
<rect x="443.1" y="411" width="15.9" height="32.4" fill="#000" stroke="none" stroke-width="0.7"/>
<line x1="468.5" y1="426" x2="468.5" y2="428.2" stroke="#000" stroke-width="0.8"/>
<line x1="467.1" y1="426.5" x2="469.9" y2="426.5" stroke="#000" stroke-width="0.8"/>
<line x1="467.1" y1="428.5" x2="469.9" y2="428.5" stroke="#000" stroke-width="0.8"/>
<rect x="461.4" y="428.5" width="14.3" height="14.9" fill="#fff" stroke="#000" stroke-width="0.9"/>
<circle cx="401.8" cy="346.6" r="2.1" fill="#000" stroke="none" stroke-width="0.7"/>
<circle cx="401.8" cy="387.9" r="2.1" fill="#000" stroke="none" stroke-width="0.7"/>
<circle cx="451.2" cy="387.9" r="2.1" fill="#000" stroke="none" stroke-width="0.7"/>
<circle cx="400" cy="408.2" r="1.7" fill="none" stroke="#fff" stroke-width="0.7"/>
<circle cx="401.9" cy="408.2" r="1.7" fill="none" stroke="#fff" stroke-width="0.7"/>
<circle cx="403.9" cy="408.2" r="1.7" fill="none" stroke="#fff" stroke-width="0.7"/>
<circle cx="401.9" cy="411.4" r="1.7" fill="none" stroke="#fff" stroke-width="0.7"/>
<circle cx="396.1" cy="419.3" r="1.7" fill="none" stroke="#fff" stroke-width="0.7"/>
<circle cx="398.9" cy="419.3" r="1.7" fill="none" stroke="#fff" stroke-width="0.7"/>
<circle cx="401.6" cy="419.3" r="1.7" fill="none" stroke="#fff" stroke-width="0.7"/>
<circle cx="404.4" cy="419.3" r="1.7" fill="none" stroke="#fff" stroke-width="0.7"/>
<circle cx="407.2" cy="419.3" r="1.7" fill="none" stroke="#fff" stroke-width="0.7"/>
<circle cx="400.5" cy="422" r="1.7" fill="none" stroke="#fff" stroke-width="0.7"/>
<circle cx="403.5" cy="422" r="1.7" fill="none" stroke="#fff" stroke-width="0.7"/>
<circle cx="401.9" cy="424.8" r="1.7" fill="none" stroke="#fff" stroke-width="0.7"/>
<circle cx="449.5" cy="411.4" r="1.7" fill="none" stroke="#fff" stroke-width="0.7"/>
<circle cx="452.3" cy="411.4" r="1.7" fill="none" stroke="#fff" stroke-width="0.7"/>
<circle cx="448.1" cy="419.7" r="1.7" fill="none" stroke="#fff" stroke-width="0.7"/>
<circle cx="450.9" cy="419.7" r="1.7" fill="none" stroke="#fff" stroke-width="0.7"/>
<circle cx="453.7" cy="419.7" r="1.7" fill="none" stroke="#fff" stroke-width="0.7"/>
<circle cx="419.7" cy="413.7" r="1.8" fill="#fff" stroke="#000" stroke-width="0.7"/>
<circle cx="419.7" cy="416.5" r="1.8" fill="#fff" stroke="#000" stroke-width="0.7"/>
<circle cx="419.7" cy="419.3" r="1.8" fill="#fff" stroke="#000" stroke-width="0.7"/>
<circle cx="419.7" cy="424.1" r="1.8" fill="#fff" stroke="#000" stroke-width="0.7"/>
<circle cx="419.7" cy="431.3" r="1.8" fill="#fff" stroke="#000" stroke-width="0.7"/>
<circle cx="468.2" cy="421.4" r="1.8" fill="#fff" stroke="#000" stroke-width="0.7"/>
<circle cx="464" cy="424.1" r="1.8" fill="#fff" stroke="#000" stroke-width="0.7"/>
<circle cx="468.2" cy="424.1" r="1.8" fill="#fff" stroke="#000" stroke-width="0.7"/>
<circle cx="472.4" cy="424.1" r="1.8" fill="#fff" stroke="#000" stroke-width="0.7"/>
<circle cx="468.2" cy="428.3" r="1.8" fill="#fff" stroke="#000" stroke-width="0.7"/>
<circle cx="468.2" cy="431.8" r="1.8" fill="#fff" stroke="#000" stroke-width="0.7"/>
<circle cx="468.2" cy="435.2" r="1.8" fill="#fff" stroke="#000" stroke-width="0.7"/>
<circle cx="468.2" cy="439.7" r="1.8" fill="#fff" stroke="#000" stroke-width="0.7"/>
<text x="406.9" y="453.65" text-anchor="middle" transform="matrix(0.93 0 0 1 28.48 0)">3 µM</text>
<text x="461" y="453.65" text-anchor="middle" transform="matrix(0.93 0 0 1 32.27 0)">10 µM</text>
<line x1="396.7" y1="457.5" x2="470.9" y2="457.5" stroke="#231f20" stroke-width="0.7"/>
<text x="433.5" y="467.55" text-anchor="middle" transform="matrix(0.93 0 0 1 30.34 0)">Cocaine</text>
<rect x="444.4" y="331.5" width="16.2" height="4" fill="#000" stroke="none" stroke-width="0.7"/>
<text x="464.5" y="333.35" transform="matrix(0.93 0 0 1 32.51 0)">Coca-</text>
<text x="464.5" y="342.95" transform="matrix(0.93 0 0 1 32.51 0)">GlyR</text>
<rect x="444.8" y="348.8" width="15.6" height="3.7" fill="#fff" stroke="#000" stroke-width="0.8"/>
<text x="464.5" y="353.85" transform="matrix(0.93 0 0 1 32.51 0)">Control</text>
<path d="M441.4,333.4 H437.5 V350.4 H441.4" stroke="#231f20" stroke-width="0.8" fill="none"/>
<text x="404.9" y="344.65" transform="matrix(0.93 0 0 1 28.34 0)"><tspan font-style="italic">P</tspan> = 0.02</text>
<text x="498" y="332.6" font-weight="bold" font-size="9.4" stroke="#231f20" stroke-width="0.25" transform="matrix(1.2 0 0 1 -99.6 0)">l</text>
<rect x="550.4" y="330.9" width="5.3" height="12.2" fill="#fff" stroke="#000" stroke-width="0.8"/>
<text x="559" y="340.25" transform="matrix(0.93 0 0 1 39.13 0)">Control</text>
<rect x="590.1" y="330.6" width="6" height="12.8" fill="#000" stroke="none" stroke-width="0.7"/>
<text x="600" y="335.45" transform="matrix(0.93 0 0 1 42 0)">Coca-</text>
<text x="600" y="344.55" transform="matrix(0.93 0 0 1 42 0)">5HT3</text>
<rect x="627.7" y="330.6" width="6" height="12.8" fill="#999" stroke="none" stroke-width="0.7"/>
<text x="636.8" y="335.45" transform="matrix(0.93 0 0 1 44.58 0)">Coca-</text>
<text x="636.8" y="344.55" transform="matrix(0.93 0 0 1 44.58 0)">GlyR</text>
<line x1="525.5" y1="360" x2="525.5" y2="450" stroke="#8a8a8a" stroke-width="0.7"/>
<line x1="525.8" y1="450.5" x2="527.9" y2="450.5" stroke="#8a8a8a" stroke-width="0.6"/>
<text x="522" y="453.15" text-anchor="end" transform="matrix(0.93 0 0 1 36.54 0)">0</text>
<line x1="525.8" y1="437.5" x2="527.9" y2="437.5" stroke="#8a8a8a" stroke-width="0.6"/>
<text x="522" y="440.34" text-anchor="end" transform="matrix(0.93 0 0 1 36.54 0)">20</text>
<line x1="525.8" y1="424.5" x2="527.9" y2="424.5" stroke="#8a8a8a" stroke-width="0.6"/>
<text x="522" y="427.53" text-anchor="end" transform="matrix(0.93 0 0 1 36.54 0)">40</text>
<line x1="525.8" y1="411.5" x2="527.9" y2="411.5" stroke="#8a8a8a" stroke-width="0.6"/>
<text x="522" y="414.71" text-anchor="end" transform="matrix(0.93 0 0 1 36.54 0)">60</text>
<line x1="525.8" y1="398.5" x2="527.9" y2="398.5" stroke="#8a8a8a" stroke-width="0.6"/>
<text x="522" y="401.9" text-anchor="end" transform="matrix(0.93 0 0 1 36.54 0)">80</text>
<line x1="525.8" y1="385.5" x2="527.9" y2="385.5" stroke="#8a8a8a" stroke-width="0.6"/>
<text x="522" y="389.08" text-anchor="end" transform="matrix(0.93 0 0 1 36.54 0)">100</text>
<line x1="525.8" y1="373.5" x2="527.9" y2="373.5" stroke="#8a8a8a" stroke-width="0.6"/>
<text x="522" y="376.27" text-anchor="end" transform="matrix(0.93 0 0 1 36.54 0)">120</text>
<line x1="525.8" y1="360.5" x2="527.9" y2="360.5" stroke="#8a8a8a" stroke-width="0.6"/>
<text x="522" y="363.46" text-anchor="end" transform="matrix(0.93 0 0 1 36.54 0)">140</text>
<text x="501.6" y="408.05" text-anchor="middle" transform="rotate(-90 501.6 404.9) matrix(0.93 0 0 1 35.11 0)">Capacitance (pF)</text>
<text x="539.7" y="359.95" text-anchor="middle" transform="matrix(0.93 0 0 1 37.78 0)">NS</text>
<line x1="529.9" y1="362.5" x2="551" y2="362.5" stroke="#444" stroke-width="1"/>
<line x1="532.5" y1="403" x2="532.5" y2="406.3" stroke="#000" stroke-width="0.7"/>
<line x1="531" y1="403.5" x2="533.4" y2="403.5" stroke="#000" stroke-width="0.7"/>
<line x1="531" y1="406.5" x2="533.4" y2="406.5" stroke="#000" stroke-width="0.7"/>
<rect x="528.9" y="406.6" width="6.6" height="42.8" fill="#fff" stroke="#000" stroke-width="0.9"/>
<line x1="542.5" y1="403" x2="542.5" y2="407.7" stroke="#000" stroke-width="0.7"/>
<line x1="541.1" y1="403.5" x2="543.5" y2="403.5" stroke="#000" stroke-width="0.7"/>
<line x1="541.1" y1="407.5" x2="543.5" y2="407.5" stroke="#000" stroke-width="0.7"/>
<rect x="538.9" y="407.7" width="6.9" height="42.3" fill="#000" stroke="none" stroke-width="0.7"/>
<line x1="551.5" y1="401.8" x2="551.5" y2="408.7" stroke="#000" stroke-width="0.7"/>
<line x1="550.1" y1="401.5" x2="552.5" y2="401.5" stroke="#000" stroke-width="0.7"/>
<line x1="550.1" y1="408.5" x2="552.5" y2="408.5" stroke="#000" stroke-width="0.7"/>
<rect x="547.8" y="408.7" width="7.1" height="41.3" fill="#9a9a9a" stroke="none" stroke-width="0.7"/>
<circle cx="532.2" cy="382.3" r="1.9" fill="#000" stroke="none" stroke-width="0.7"/>
<circle cx="532.2" cy="388.4" r="1.9" fill="#000" stroke="none" stroke-width="0.7"/>
<circle cx="532.2" cy="392.5" r="1.9" fill="#000" stroke="none" stroke-width="0.7"/>
<circle cx="532.2" cy="397.6" r="1.9" fill="#000" stroke="none" stroke-width="0.7"/>
<circle cx="532.2" cy="400.6" r="1.9" fill="#000" stroke="none" stroke-width="0.7"/>
<circle cx="532.2" cy="403.6" r="1.9" fill="#000" stroke="none" stroke-width="0.7"/>
<circle cx="532.2" cy="413.8" r="1.9" fill="#000" stroke="none" stroke-width="0.7"/>
<circle cx="532.2" cy="420.9" r="1.9" fill="#000" stroke="none" stroke-width="0.7"/>
<circle cx="532.2" cy="431.5" r="1.9" fill="#000" stroke="none" stroke-width="0.7"/>
<circle cx="541.7" cy="387.4" r="1.9" fill="#000" stroke="none" stroke-width="0.7"/>
<circle cx="541.7" cy="390.5" r="1.9" fill="#000" stroke="none" stroke-width="0.7"/>
<circle cx="541.7" cy="393.1" r="1.9" fill="#000" stroke="none" stroke-width="0.7"/>
<circle cx="541.7" cy="408.7" r="1.6" fill="none" stroke="#fff" stroke-width="0.6"/>
<circle cx="541.7" cy="411.8" r="1.6" fill="none" stroke="#fff" stroke-width="0.6"/>
<circle cx="541.7" cy="414.8" r="1.6" fill="none" stroke="#fff" stroke-width="0.6"/>
<circle cx="541.7" cy="419.9" r="1.6" fill="none" stroke="#fff" stroke-width="0.6"/>
<circle cx="541.7" cy="431" r="1.6" fill="none" stroke="#fff" stroke-width="0.6"/>
<circle cx="550.9" cy="368.5" r="1.9" fill="#000" stroke="none" stroke-width="0.7"/>
<circle cx="550.9" cy="373.2" r="1.9" fill="#000" stroke="none" stroke-width="0.7"/>
<circle cx="550.9" cy="389.4" r="1.9" fill="#000" stroke="none" stroke-width="0.7"/>
<circle cx="550.9" cy="396.5" r="1.9" fill="#000" stroke="none" stroke-width="0.7"/>
<circle cx="550.9" cy="402.6" r="1.9" fill="#000" stroke="none" stroke-width="0.7"/>
<circle cx="550.9" cy="414.8" r="1.8" fill="#000" stroke="#fff" stroke-width="0.6"/>
<circle cx="550.9" cy="428" r="1.8" fill="#000" stroke="#fff" stroke-width="0.6"/>
<circle cx="550.9" cy="435.1" r="1.8" fill="#000" stroke="#fff" stroke-width="0.6"/>
<line x1="592.5" y1="360.8" x2="592.5" y2="450.3" stroke="#8a8a8a" stroke-width="0.7"/>
<line x1="592.7" y1="450.5" x2="594.8" y2="450.5" stroke="#8a8a8a" stroke-width="0.6"/>
<text x="588.4" y="453.45" text-anchor="end" transform="matrix(0.93 0 0 1 41.19 0)">0</text>
<line x1="592.7" y1="439.5" x2="594.8" y2="439.5" stroke="#8a8a8a" stroke-width="0.6"/>
<text x="588.4" y="442.29" text-anchor="end" transform="matrix(0.93 0 0 1 41.19 0)">100</text>
<line x1="592.7" y1="427.5" x2="594.8" y2="427.5" stroke="#8a8a8a" stroke-width="0.6"/>
<text x="588.4" y="431.13" text-anchor="end" transform="matrix(0.93 0 0 1 41.19 0)">200</text>
<line x1="592.7" y1="416.5" x2="594.8" y2="416.5" stroke="#8a8a8a" stroke-width="0.6"/>
<text x="588.4" y="419.97" text-anchor="end" transform="matrix(0.93 0 0 1 41.19 0)">300</text>
<line x1="592.7" y1="405.5" x2="594.8" y2="405.5" stroke="#8a8a8a" stroke-width="0.6"/>
<text x="588.4" y="408.81" text-anchor="end" transform="matrix(0.93 0 0 1 41.19 0)">400</text>
<line x1="592.7" y1="394.5" x2="594.8" y2="394.5" stroke="#8a8a8a" stroke-width="0.6"/>
<text x="588.4" y="397.65" text-anchor="end" transform="matrix(0.93 0 0 1 41.19 0)">500</text>
<line x1="592.7" y1="383.5" x2="594.8" y2="383.5" stroke="#8a8a8a" stroke-width="0.6"/>
<text x="588.4" y="386.49" text-anchor="end" transform="matrix(0.93 0 0 1 41.19 0)">600</text>
<line x1="592.7" y1="372.5" x2="594.8" y2="372.5" stroke="#8a8a8a" stroke-width="0.6"/>
<text x="588.4" y="375.33" text-anchor="end" transform="matrix(0.93 0 0 1 41.19 0)">700</text>
<line x1="592.7" y1="361.5" x2="594.8" y2="361.5" stroke="#8a8a8a" stroke-width="0.6"/>
<text x="588.4" y="364.17" text-anchor="end" transform="matrix(0.93 0 0 1 41.19 0)">800</text>
<text x="566" y="405.65" text-anchor="middle" transform="rotate(-90 566 402.5) matrix(0.93 0 0 1 39.62 0)">Resistance (MΩ)</text>
<text x="609.8" y="359.95" text-anchor="middle" transform="matrix(0.93 0 0 1 42.69 0)">NS</text>
<line x1="600.4" y1="362.5" x2="621.4" y2="362.5" stroke="#444" stroke-width="1"/>
<line x1="598.5" y1="422.5" x2="598.5" y2="426.3" stroke="#000" stroke-width="0.7"/>
<line x1="597.2" y1="422.5" x2="599.6" y2="422.5" stroke="#000" stroke-width="0.7"/>
<line x1="597.2" y1="426.5" x2="599.6" y2="426.5" stroke="#000" stroke-width="0.7"/>
<rect x="594.6" y="426.5" width="7.6" height="23.6" fill="#fff" stroke="#000" stroke-width="0.9"/>
<line x1="607.5" y1="419.5" x2="607.5" y2="422.8" stroke="#000" stroke-width="0.7"/>
<line x1="606.3" y1="419.5" x2="608.7" y2="419.5" stroke="#000" stroke-width="0.7"/>
<line x1="606.3" y1="422.5" x2="608.7" y2="422.5" stroke="#000" stroke-width="0.7"/>
<rect x="603.8" y="422.8" width="7.4" height="27.5" fill="#000" stroke="none" stroke-width="0.7"/>
<line x1="616.5" y1="412.5" x2="616.5" y2="418.3" stroke="#000" stroke-width="0.7"/>
<line x1="615" y1="412.5" x2="617.4" y2="412.5" stroke="#000" stroke-width="0.7"/>
<line x1="615" y1="418.5" x2="617.4" y2="418.5" stroke="#000" stroke-width="0.7"/>
<rect x="612.5" y="418.3" width="7.5" height="32" fill="#9a9a9a" stroke="none" stroke-width="0.7"/>
<circle cx="598.4" cy="393.8" r="1.9" fill="#000" stroke="none" stroke-width="0.7"/>
<circle cx="598.4" cy="425.5" r="1.9" fill="#000" stroke="none" stroke-width="0.7"/>
<circle cx="598.4" cy="429" r="1.9" fill="#000" stroke="none" stroke-width="0.7"/>
<circle cx="598.4" cy="432" r="1.9" fill="#000" stroke="none" stroke-width="0.7"/>
<circle cx="598.4" cy="435" r="1.9" fill="#000" stroke="none" stroke-width="0.7"/>
<circle cx="598.4" cy="437.5" r="1.9" fill="#000" stroke="none" stroke-width="0.7"/>
<circle cx="598.4" cy="440" r="1.9" fill="#000" stroke="none" stroke-width="0.7"/>
<circle cx="598.4" cy="442" r="1.9" fill="#000" stroke="none" stroke-width="0.7"/>
<circle cx="607.5" cy="403.4" r="1.9" fill="#000" stroke="none" stroke-width="0.7"/>
<circle cx="607.5" cy="416" r="1.9" fill="#000" stroke="none" stroke-width="0.7"/>
<circle cx="607.5" cy="424.5" r="1.6" fill="none" stroke="#fff" stroke-width="0.6"/>
<circle cx="607.5" cy="428" r="1.6" fill="none" stroke="#fff" stroke-width="0.6"/>
<circle cx="607.5" cy="432" r="1.6" fill="none" stroke="#fff" stroke-width="0.6"/>
<circle cx="607.5" cy="437.5" r="1.6" fill="none" stroke="#fff" stroke-width="0.6"/>
<circle cx="616.2" cy="366.2" r="1.9" fill="#000" stroke="none" stroke-width="0.7"/>
<circle cx="616.2" cy="393.8" r="1.9" fill="#000" stroke="none" stroke-width="0.7"/>
<circle cx="616.2" cy="397" r="1.9" fill="#000" stroke="none" stroke-width="0.7"/>
<circle cx="616.2" cy="405.5" r="1.9" fill="#000" stroke="none" stroke-width="0.7"/>
<circle cx="616.2" cy="418.5" r="1.9" fill="#000" stroke="none" stroke-width="0.7"/>
<circle cx="616.2" cy="424" r="1.8" fill="#000" stroke="#fff" stroke-width="0.6"/>
<circle cx="616.2" cy="430" r="1.8" fill="#000" stroke="#fff" stroke-width="0.6"/>
<circle cx="616.2" cy="436" r="1.8" fill="#000" stroke="#fff" stroke-width="0.6"/>
<circle cx="616.2" cy="441.5" r="1.8" fill="#000" stroke="#fff" stroke-width="0.6"/>
<line x1="655.5" y1="358.5" x2="655.5" y2="452.8" stroke="#8a8a8a" stroke-width="0.7"/>
<line x1="655" y1="358.5" x2="657.1" y2="358.5" stroke="#8a8a8a" stroke-width="0.6"/>
<text x="650.4" y="361.65" text-anchor="end" transform="matrix(0.93 0 0 1 45.53 0)">0</text>
<line x1="655" y1="370.5" x2="657.1" y2="370.5" stroke="#8a8a8a" stroke-width="0.6"/>
<text x="650.4" y="373.43" text-anchor="end" transform="matrix(0.93 0 0 1 45.53 0)">–10</text>
<line x1="655" y1="382.5" x2="657.1" y2="382.5" stroke="#8a8a8a" stroke-width="0.6"/>
<text x="650.4" y="385.21" text-anchor="end" transform="matrix(0.93 0 0 1 45.53 0)">–20</text>
<line x1="655" y1="393.5" x2="657.1" y2="393.5" stroke="#8a8a8a" stroke-width="0.6"/>
<text x="650.4" y="396.99" text-anchor="end" transform="matrix(0.93 0 0 1 45.53 0)">–30</text>
<line x1="655" y1="405.5" x2="657.1" y2="405.5" stroke="#8a8a8a" stroke-width="0.6"/>
<text x="650.4" y="408.77" text-anchor="end" transform="matrix(0.93 0 0 1 45.53 0)">–40</text>
<line x1="655" y1="417.5" x2="657.1" y2="417.5" stroke="#8a8a8a" stroke-width="0.6"/>
<text x="650.4" y="420.55" text-anchor="end" transform="matrix(0.93 0 0 1 45.53 0)">–50</text>
<line x1="655" y1="429.5" x2="657.1" y2="429.5" stroke="#8a8a8a" stroke-width="0.6"/>
<text x="650.4" y="432.33" text-anchor="end" transform="matrix(0.93 0 0 1 45.53 0)">–60</text>
<line x1="655" y1="440.5" x2="657.1" y2="440.5" stroke="#8a8a8a" stroke-width="0.6"/>
<text x="650.4" y="444.11" text-anchor="end" transform="matrix(0.93 0 0 1 45.53 0)">–70</text>
<line x1="655" y1="452.5" x2="657.1" y2="452.5" stroke="#8a8a8a" stroke-width="0.6"/>
<text x="650.4" y="455.89" text-anchor="end" transform="matrix(0.93 0 0 1 45.53 0)">–80</text>
<text x="630.2" y="407.85" text-anchor="middle" transform="rotate(-90 630.2 404.7) matrix(0.93 0 0 1 44.11 0)">Resting potential (mV)</text>
<rect x="657.9" y="358.5" width="6.6" height="63.8" fill="#fff" stroke="#000" stroke-width="0.9"/>
<rect x="666.7" y="358.5" width="8" height="70.2" fill="#000" stroke="none" stroke-width="0.7"/>
<rect x="677" y="358.5" width="8" height="63.7" fill="#9a9a9a" stroke="none" stroke-width="0.7"/>
<line x1="655" y1="358.5" x2="685" y2="358.5" stroke="#555" stroke-width="0.7"/>
<circle cx="660.8" cy="411.7" r="1.9" fill="#000" stroke="none" stroke-width="0.7"/>
<circle cx="660.8" cy="413.5" r="1.9" fill="#000" stroke="none" stroke-width="0.7"/>
<circle cx="660.8" cy="415.3" r="1.9" fill="#000" stroke="none" stroke-width="0.7"/>
<circle cx="660.8" cy="417.1" r="1.9" fill="#000" stroke="none" stroke-width="0.7"/>
<circle cx="660.8" cy="418.9" r="1.9" fill="#000" stroke="none" stroke-width="0.7"/>
<circle cx="660.8" cy="420.7" r="1.9" fill="#000" stroke="none" stroke-width="0.7"/>
<circle cx="660.8" cy="422.5" r="1.9" fill="#000" stroke="none" stroke-width="0.7"/>
<circle cx="660.8" cy="424.3" r="1.9" fill="#000" stroke="none" stroke-width="0.7"/>
<circle cx="660.8" cy="426.1" r="1.9" fill="#000" stroke="none" stroke-width="0.7"/>
<circle cx="660.8" cy="427.9" r="1.9" fill="#000" stroke="none" stroke-width="0.7"/>
<circle cx="660.8" cy="429.7" r="1.9" fill="#000" stroke="none" stroke-width="0.7"/>
<circle cx="660.8" cy="430.8" r="1.9" fill="#000" stroke="none" stroke-width="0.7"/>
<line x1="670.5" y1="428.7" x2="670.5" y2="431.5" stroke="#000" stroke-width="0.7"/>
<line x1="669.6" y1="428.5" x2="672" y2="428.5" stroke="#000" stroke-width="0.7"/>
<line x1="669.6" y1="431.5" x2="672" y2="431.5" stroke="#000" stroke-width="0.7"/>
<circle cx="670.8" cy="416.7" r="1.6" fill="none" stroke="#fff" stroke-width="0.6"/>
<circle cx="670.8" cy="419.5" r="1.6" fill="none" stroke="#fff" stroke-width="0.6"/>
<circle cx="670.8" cy="422.5" r="1.6" fill="none" stroke="#fff" stroke-width="0.6"/>
<circle cx="670.8" cy="425.8" r="1.6" fill="none" stroke="#fff" stroke-width="0.6"/>
<circle cx="670.8" cy="430.5" r="1.9" fill="#000" stroke="none" stroke-width="0.7"/>
<circle cx="670.8" cy="433" r="1.9" fill="#000" stroke="none" stroke-width="0.7"/>
<circle cx="670.8" cy="435.5" r="1.9" fill="#000" stroke="none" stroke-width="0.7"/>
<circle cx="670.8" cy="438" r="1.9" fill="#000" stroke="none" stroke-width="0.7"/>
<circle cx="670.8" cy="440" r="1.9" fill="#000" stroke="none" stroke-width="0.7"/>
<circle cx="680.8" cy="411.3" r="1.8" fill="#000" stroke="#fff" stroke-width="0.6"/>
<line x1="680.5" y1="422.2" x2="680.5" y2="425" stroke="#000" stroke-width="0.7"/>
<line x1="679.6" y1="422.5" x2="682" y2="422.5" stroke="#000" stroke-width="0.7"/>
<line x1="679.6" y1="425.5" x2="682" y2="425.5" stroke="#000" stroke-width="0.7"/>
<circle cx="680.8" cy="425.8" r="1.9" fill="#000" stroke="none" stroke-width="0.7"/>
<circle cx="680.8" cy="429.2" r="1.9" fill="#000" stroke="none" stroke-width="0.7"/>
<circle cx="680.8" cy="434.7" r="1.9" fill="#000" stroke="none" stroke-width="0.7"/>
<text x="671.7" y="460.75" text-anchor="middle" transform="matrix(0.93 0 0 1 47.02 0)">NS</text>
<line x1="662.5" y1="452.5" x2="683.3" y2="452.5" stroke="#9a9a9a" stroke-width="1"/>
</svg>
</body></html>
